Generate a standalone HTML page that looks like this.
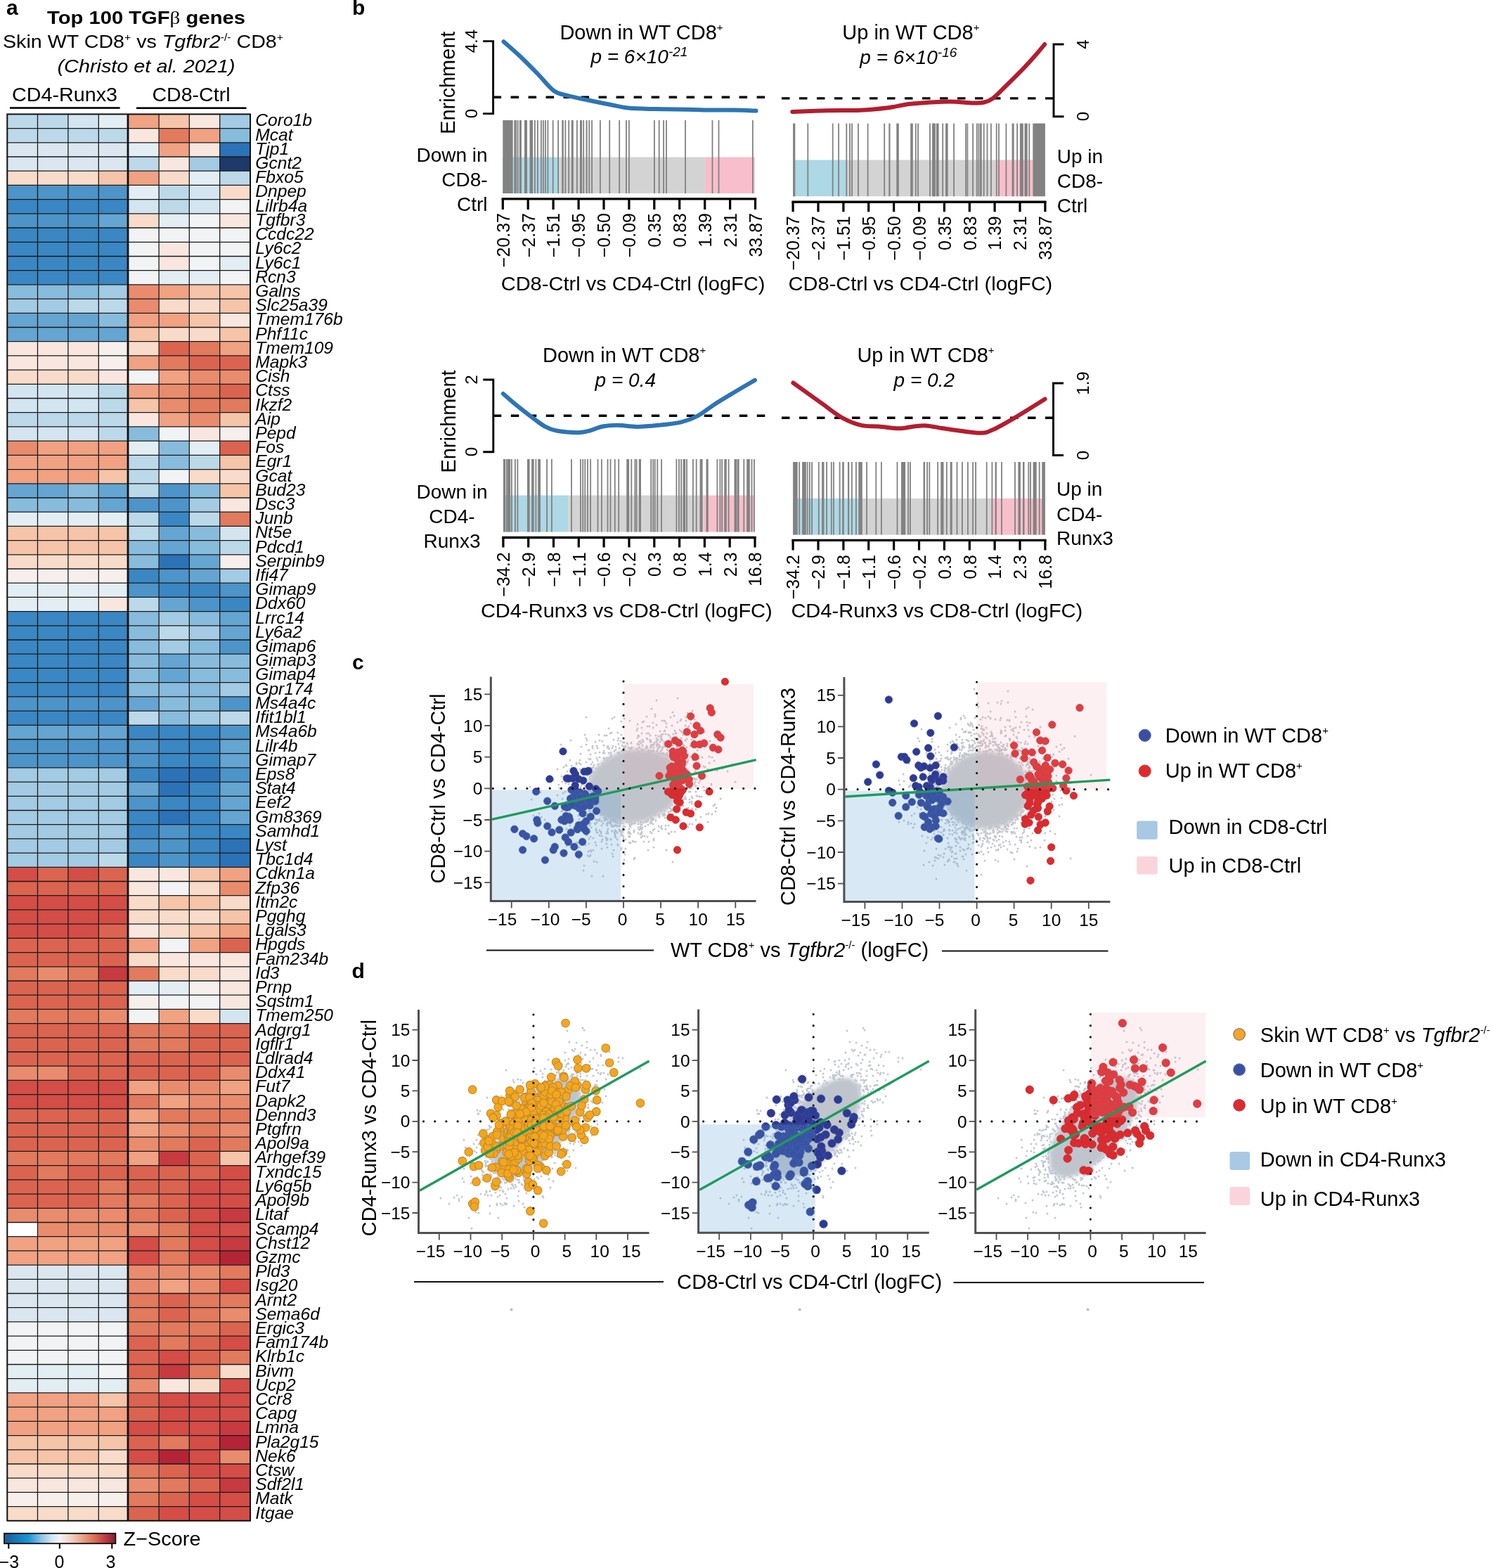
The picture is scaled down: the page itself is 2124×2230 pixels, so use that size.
<!DOCTYPE html>
<html><head><meta charset="utf-8"><title>Figure</title>
<style>html,body{margin:0;padding:0;background:#fff;overflow:hidden;width:2124px;height:2230px;} svg{display:block;} text{font-family:'Liberation Sans', Arial, Helvetica, sans-serif;fill:#000;}</style>
</head><body>
<svg width="2124" height="2230" viewBox="0 0 2124 2230">
<defs><filter id="bl4" x="-30%" y="-30%" width="160%" height="160%"><feGaussianBlur stdDeviation="3"/></filter></defs>
<rect width="2124" height="2230" fill="#fff"/>
<text x="9" y="21" font-size="30" font-weight="bold">a</text>
<text x="208" y="33.6" font-size="25.5" text-anchor="middle" font-weight="bold" textLength="282" lengthAdjust="spacingAndGlyphs">Top 100 TGF<tspan font-family="Liberation Serif, serif" font-weight="normal">&#946;</tspan> genes</text>
<text x="4" y="68.3" font-size="25.5" textLength="399" lengthAdjust="spacingAndGlyphs">Skin WT CD8<tspan font-size="14" dy="-10">+</tspan><tspan dy="10"> vs </tspan><tspan font-style="italic">Tgfbr2</tspan><tspan font-size="14" dy="-10">-/-</tspan><tspan dy="10"> CD8</tspan><tspan font-size="14" dy="-10">+</tspan></text>
<text x="208" y="103.4" font-size="25.5" text-anchor="middle" font-style="italic" textLength="253" lengthAdjust="spacingAndGlyphs">(Christo et al. 2021)</text>
<text x="92" y="144.3" font-size="28.5" text-anchor="middle" textLength="150" lengthAdjust="spacingAndGlyphs">CD4-Runx3</text>
<text x="272" y="144.3" font-size="28.5" text-anchor="middle" textLength="111" lengthAdjust="spacingAndGlyphs">CD8-Ctrl</text>
<rect x="14" y="152.2" width="156.6" height="2.6" fill="#000"/>
<rect x="194" y="152.4" width="156.5" height="2.6" fill="#000"/>
<rect x="10.3" y="162.4" width="43.5" height="20.5" fill="#bcd9ea"/>
<rect x="53.5" y="162.4" width="43.7" height="20.5" fill="#bcd9ea"/>
<rect x="96.9" y="162.4" width="43.7" height="20.5" fill="#d3e5f0"/>
<rect x="140.3" y="162.4" width="42" height="20.5" fill="#e3edf4"/>
<rect x="182" y="162.4" width="44.4" height="20.5" fill="#f0a283"/>
<rect x="226.1" y="162.4" width="43.5" height="20.5" fill="#f6c4a9"/>
<rect x="269.3" y="162.4" width="43.7" height="20.5" fill="#f9e7df"/>
<rect x="312.7" y="162.4" width="43.6" height="20.5" fill="#a3cbe3"/>
<rect x="10.3" y="182.6" width="43.5" height="20.5" fill="#bcd9ea"/>
<rect x="53.5" y="182.6" width="43.7" height="20.5" fill="#bcd9ea"/>
<rect x="96.9" y="182.6" width="43.7" height="20.5" fill="#bcd9ea"/>
<rect x="140.3" y="182.6" width="42" height="20.5" fill="#bcd9ea"/>
<rect x="182" y="182.6" width="44.4" height="20.5" fill="#f9e7df"/>
<rect x="226.1" y="182.6" width="43.5" height="20.5" fill="#e27a5e"/>
<rect x="269.3" y="182.6" width="43.7" height="20.5" fill="#f0a283"/>
<rect x="312.7" y="182.6" width="43.6" height="20.5" fill="#88bcdc"/>
<rect x="10.3" y="202.8" width="43.5" height="20.5" fill="#dae7f0"/>
<rect x="53.5" y="202.8" width="43.7" height="20.5" fill="#dae7f0"/>
<rect x="96.9" y="202.8" width="43.7" height="20.5" fill="#dae7f0"/>
<rect x="140.3" y="202.8" width="42" height="20.5" fill="#dae7f0"/>
<rect x="182" y="202.8" width="44.4" height="20.5" fill="#e3edf4"/>
<rect x="226.1" y="202.8" width="43.5" height="20.5" fill="#f0a283"/>
<rect x="269.3" y="202.8" width="43.7" height="20.5" fill="#f9e7df"/>
<rect x="312.7" y="202.8" width="43.6" height="20.5" fill="#2c72b7"/>
<rect x="10.3" y="223" width="43.5" height="20.5" fill="#dae7f0"/>
<rect x="53.5" y="223" width="43.7" height="20.5" fill="#dae7f0"/>
<rect x="96.9" y="223" width="43.7" height="20.5" fill="#dae7f0"/>
<rect x="140.3" y="223" width="42" height="20.5" fill="#dae7f0"/>
<rect x="182" y="223" width="44.4" height="20.5" fill="#bcd9ea"/>
<rect x="226.1" y="223" width="43.5" height="20.5" fill="#f9e7df"/>
<rect x="269.3" y="223" width="43.7" height="20.5" fill="#a3cbe3"/>
<rect x="312.7" y="223" width="43.6" height="20.5" fill="#1d3a6b"/>
<rect x="10.3" y="243.2" width="43.5" height="20.5" fill="#f9dbca"/>
<rect x="53.5" y="243.2" width="43.7" height="20.5" fill="#f9dbca"/>
<rect x="96.9" y="243.2" width="43.7" height="20.5" fill="#f9dbca"/>
<rect x="140.3" y="243.2" width="42" height="20.5" fill="#f6c4a9"/>
<rect x="182" y="243.2" width="44.4" height="20.5" fill="#f0a283"/>
<rect x="226.1" y="243.2" width="43.5" height="20.5" fill="#f9dbca"/>
<rect x="269.3" y="243.2" width="43.7" height="20.5" fill="#e3edf4"/>
<rect x="312.7" y="243.2" width="43.6" height="20.5" fill="#bcd9ea"/>
<rect x="10.3" y="263.4" width="43.5" height="20.5" fill="#4d94c9"/>
<rect x="53.5" y="263.4" width="43.7" height="20.5" fill="#4d94c9"/>
<rect x="96.9" y="263.4" width="43.7" height="20.5" fill="#4d94c9"/>
<rect x="140.3" y="263.4" width="42" height="20.5" fill="#4d94c9"/>
<rect x="182" y="263.4" width="44.4" height="20.5" fill="#e3edf4"/>
<rect x="226.1" y="263.4" width="43.5" height="20.5" fill="#bcd9ea"/>
<rect x="269.3" y="263.4" width="43.7" height="20.5" fill="#d3e5f0"/>
<rect x="312.7" y="263.4" width="43.6" height="20.5" fill="#f9dbca"/>
<rect x="10.3" y="283.6" width="43.5" height="20.5" fill="#3a87c3"/>
<rect x="53.5" y="283.6" width="43.7" height="20.5" fill="#3a87c3"/>
<rect x="96.9" y="283.6" width="43.7" height="20.5" fill="#3a87c3"/>
<rect x="140.3" y="283.6" width="42" height="20.5" fill="#3a87c3"/>
<rect x="182" y="283.6" width="44.4" height="20.5" fill="#d3e5f0"/>
<rect x="226.1" y="283.6" width="43.5" height="20.5" fill="#bcd9ea"/>
<rect x="269.3" y="283.6" width="43.7" height="20.5" fill="#d3e5f0"/>
<rect x="312.7" y="283.6" width="43.6" height="20.5" fill="#f2f3f4"/>
<rect x="10.3" y="303.8" width="43.5" height="20.5" fill="#4d94c9"/>
<rect x="53.5" y="303.8" width="43.7" height="20.5" fill="#4d94c9"/>
<rect x="96.9" y="303.8" width="43.7" height="20.5" fill="#4d94c9"/>
<rect x="140.3" y="303.8" width="42" height="20.5" fill="#65a5d2"/>
<rect x="182" y="303.8" width="44.4" height="20.5" fill="#f9dbca"/>
<rect x="226.1" y="303.8" width="43.5" height="20.5" fill="#e3edf4"/>
<rect x="269.3" y="303.8" width="43.7" height="20.5" fill="#f2f3f4"/>
<rect x="312.7" y="303.8" width="43.6" height="20.5" fill="#f9e7df"/>
<rect x="10.3" y="324" width="43.5" height="20.5" fill="#3a87c3"/>
<rect x="53.5" y="324" width="43.7" height="20.5" fill="#3a87c3"/>
<rect x="96.9" y="324" width="43.7" height="20.5" fill="#3a87c3"/>
<rect x="140.3" y="324" width="42" height="20.5" fill="#3a87c3"/>
<rect x="182" y="324" width="44.4" height="20.5" fill="#f2f3f4"/>
<rect x="226.1" y="324" width="43.5" height="20.5" fill="#f2f3f4"/>
<rect x="269.3" y="324" width="43.7" height="20.5" fill="#f2f3f4"/>
<rect x="312.7" y="324" width="43.6" height="20.5" fill="#f2f3f4"/>
<rect x="10.3" y="344.3" width="43.5" height="20.5" fill="#3a87c3"/>
<rect x="53.5" y="344.3" width="43.7" height="20.5" fill="#3a87c3"/>
<rect x="96.9" y="344.3" width="43.7" height="20.5" fill="#3a87c3"/>
<rect x="140.3" y="344.3" width="42" height="20.5" fill="#3a87c3"/>
<rect x="182" y="344.3" width="44.4" height="20.5" fill="#f2f3f4"/>
<rect x="226.1" y="344.3" width="43.5" height="20.5" fill="#f9e7df"/>
<rect x="269.3" y="344.3" width="43.7" height="20.5" fill="#f2f3f4"/>
<rect x="312.7" y="344.3" width="43.6" height="20.5" fill="#f2f3f4"/>
<rect x="10.3" y="364.5" width="43.5" height="20.5" fill="#3a87c3"/>
<rect x="53.5" y="364.5" width="43.7" height="20.5" fill="#3a87c3"/>
<rect x="96.9" y="364.5" width="43.7" height="20.5" fill="#3a87c3"/>
<rect x="140.3" y="364.5" width="42" height="20.5" fill="#3a87c3"/>
<rect x="182" y="364.5" width="44.4" height="20.5" fill="#f2f3f4"/>
<rect x="226.1" y="364.5" width="43.5" height="20.5" fill="#f9e7df"/>
<rect x="269.3" y="364.5" width="43.7" height="20.5" fill="#f2f3f4"/>
<rect x="312.7" y="364.5" width="43.6" height="20.5" fill="#e3edf4"/>
<rect x="10.3" y="384.7" width="43.5" height="20.5" fill="#3a87c3"/>
<rect x="53.5" y="384.7" width="43.7" height="20.5" fill="#3a87c3"/>
<rect x="96.9" y="384.7" width="43.7" height="20.5" fill="#3a87c3"/>
<rect x="140.3" y="384.7" width="42" height="20.5" fill="#3a87c3"/>
<rect x="182" y="384.7" width="44.4" height="20.5" fill="#f2f3f4"/>
<rect x="226.1" y="384.7" width="43.5" height="20.5" fill="#e3edf4"/>
<rect x="269.3" y="384.7" width="43.7" height="20.5" fill="#e3edf4"/>
<rect x="312.7" y="384.7" width="43.6" height="20.5" fill="#f2f3f4"/>
<rect x="10.3" y="404.9" width="43.5" height="20.5" fill="#88bcdc"/>
<rect x="53.5" y="404.9" width="43.7" height="20.5" fill="#88bcdc"/>
<rect x="96.9" y="404.9" width="43.7" height="20.5" fill="#88bcdc"/>
<rect x="140.3" y="404.9" width="42" height="20.5" fill="#a3cbe3"/>
<rect x="182" y="404.9" width="44.4" height="20.5" fill="#e98c6e"/>
<rect x="226.1" y="404.9" width="43.5" height="20.5" fill="#f0a283"/>
<rect x="269.3" y="404.9" width="43.7" height="20.5" fill="#f6c4a9"/>
<rect x="312.7" y="404.9" width="43.6" height="20.5" fill="#f6c4a9"/>
<rect x="10.3" y="425.1" width="43.5" height="20.5" fill="#a3cbe3"/>
<rect x="53.5" y="425.1" width="43.7" height="20.5" fill="#a3cbe3"/>
<rect x="96.9" y="425.1" width="43.7" height="20.5" fill="#bcd9ea"/>
<rect x="140.3" y="425.1" width="42" height="20.5" fill="#bcd9ea"/>
<rect x="182" y="425.1" width="44.4" height="20.5" fill="#e98c6e"/>
<rect x="226.1" y="425.1" width="43.5" height="20.5" fill="#f9dbca"/>
<rect x="269.3" y="425.1" width="43.7" height="20.5" fill="#f9dbca"/>
<rect x="312.7" y="425.1" width="43.6" height="20.5" fill="#f6c4a9"/>
<rect x="10.3" y="445.3" width="43.5" height="20.5" fill="#65a5d2"/>
<rect x="53.5" y="445.3" width="43.7" height="20.5" fill="#65a5d2"/>
<rect x="96.9" y="445.3" width="43.7" height="20.5" fill="#65a5d2"/>
<rect x="140.3" y="445.3" width="42" height="20.5" fill="#88bcdc"/>
<rect x="182" y="445.3" width="44.4" height="20.5" fill="#f0a283"/>
<rect x="226.1" y="445.3" width="43.5" height="20.5" fill="#f0a283"/>
<rect x="269.3" y="445.3" width="43.7" height="20.5" fill="#f6c4a9"/>
<rect x="312.7" y="445.3" width="43.6" height="20.5" fill="#f9e7df"/>
<rect x="10.3" y="465.5" width="43.5" height="20.5" fill="#65a5d2"/>
<rect x="53.5" y="465.5" width="43.7" height="20.5" fill="#65a5d2"/>
<rect x="96.9" y="465.5" width="43.7" height="20.5" fill="#65a5d2"/>
<rect x="140.3" y="465.5" width="42" height="20.5" fill="#65a5d2"/>
<rect x="182" y="465.5" width="44.4" height="20.5" fill="#f6c4a9"/>
<rect x="226.1" y="465.5" width="43.5" height="20.5" fill="#f9dbca"/>
<rect x="269.3" y="465.5" width="43.7" height="20.5" fill="#f9dbca"/>
<rect x="312.7" y="465.5" width="43.6" height="20.5" fill="#f6c4a9"/>
<rect x="10.3" y="485.7" width="43.5" height="20.5" fill="#f9e7df"/>
<rect x="53.5" y="485.7" width="43.7" height="20.5" fill="#f9e7df"/>
<rect x="96.9" y="485.7" width="43.7" height="20.5" fill="#f9e7df"/>
<rect x="140.3" y="485.7" width="42" height="20.5" fill="#f6efec"/>
<rect x="182" y="485.7" width="44.4" height="20.5" fill="#f9dbca"/>
<rect x="226.1" y="485.7" width="43.5" height="20.5" fill="#db6450"/>
<rect x="269.3" y="485.7" width="43.7" height="20.5" fill="#e27a5e"/>
<rect x="312.7" y="485.7" width="43.6" height="20.5" fill="#f0a283"/>
<rect x="10.3" y="505.9" width="43.5" height="20.5" fill="#f9e7df"/>
<rect x="53.5" y="505.9" width="43.7" height="20.5" fill="#f9e7df"/>
<rect x="96.9" y="505.9" width="43.7" height="20.5" fill="#f9e7df"/>
<rect x="140.3" y="505.9" width="42" height="20.5" fill="#f6efec"/>
<rect x="182" y="505.9" width="44.4" height="20.5" fill="#f0a283"/>
<rect x="226.1" y="505.9" width="43.5" height="20.5" fill="#e27a5e"/>
<rect x="269.3" y="505.9" width="43.7" height="20.5" fill="#db6450"/>
<rect x="312.7" y="505.9" width="43.6" height="20.5" fill="#db6450"/>
<rect x="10.3" y="526.1" width="43.5" height="20.5" fill="#f9dbca"/>
<rect x="53.5" y="526.1" width="43.7" height="20.5" fill="#f9dbca"/>
<rect x="96.9" y="526.1" width="43.7" height="20.5" fill="#f9dbca"/>
<rect x="140.3" y="526.1" width="42" height="20.5" fill="#f9e7df"/>
<rect x="182" y="526.1" width="44.4" height="20.5" fill="#f2f3f4"/>
<rect x="226.1" y="526.1" width="43.5" height="20.5" fill="#f0a283"/>
<rect x="269.3" y="526.1" width="43.7" height="20.5" fill="#e98c6e"/>
<rect x="312.7" y="526.1" width="43.6" height="20.5" fill="#e98c6e"/>
<rect x="10.3" y="546.3" width="43.5" height="20.5" fill="#d3e5f0"/>
<rect x="53.5" y="546.3" width="43.7" height="20.5" fill="#d3e5f0"/>
<rect x="96.9" y="546.3" width="43.7" height="20.5" fill="#d3e5f0"/>
<rect x="140.3" y="546.3" width="42" height="20.5" fill="#bcd9ea"/>
<rect x="182" y="546.3" width="44.4" height="20.5" fill="#f0a283"/>
<rect x="226.1" y="546.3" width="43.5" height="20.5" fill="#e98c6e"/>
<rect x="269.3" y="546.3" width="43.7" height="20.5" fill="#e27a5e"/>
<rect x="312.7" y="546.3" width="43.6" height="20.5" fill="#db6450"/>
<rect x="10.3" y="566.5" width="43.5" height="20.5" fill="#d3e5f0"/>
<rect x="53.5" y="566.5" width="43.7" height="20.5" fill="#d3e5f0"/>
<rect x="96.9" y="566.5" width="43.7" height="20.5" fill="#d3e5f0"/>
<rect x="140.3" y="566.5" width="42" height="20.5" fill="#bcd9ea"/>
<rect x="182" y="566.5" width="44.4" height="20.5" fill="#f6c4a9"/>
<rect x="226.1" y="566.5" width="43.5" height="20.5" fill="#e98c6e"/>
<rect x="269.3" y="566.5" width="43.7" height="20.5" fill="#e27a5e"/>
<rect x="312.7" y="566.5" width="43.6" height="20.5" fill="#e27a5e"/>
<rect x="10.3" y="586.7" width="43.5" height="20.5" fill="#bcd9ea"/>
<rect x="53.5" y="586.7" width="43.7" height="20.5" fill="#bcd9ea"/>
<rect x="96.9" y="586.7" width="43.7" height="20.5" fill="#bcd9ea"/>
<rect x="140.3" y="586.7" width="42" height="20.5" fill="#bcd9ea"/>
<rect x="182" y="586.7" width="44.4" height="20.5" fill="#f9e7df"/>
<rect x="226.1" y="586.7" width="43.5" height="20.5" fill="#f0a283"/>
<rect x="269.3" y="586.7" width="43.7" height="20.5" fill="#e98c6e"/>
<rect x="312.7" y="586.7" width="43.6" height="20.5" fill="#f6c4a9"/>
<rect x="10.3" y="606.9" width="43.5" height="20.5" fill="#d3e5f0"/>
<rect x="53.5" y="606.9" width="43.7" height="20.5" fill="#d3e5f0"/>
<rect x="96.9" y="606.9" width="43.7" height="20.5" fill="#d3e5f0"/>
<rect x="140.3" y="606.9" width="42" height="20.5" fill="#bcd9ea"/>
<rect x="182" y="606.9" width="44.4" height="20.5" fill="#88bcdc"/>
<rect x="226.1" y="606.9" width="43.5" height="20.5" fill="#f2f3f4"/>
<rect x="269.3" y="606.9" width="43.7" height="20.5" fill="#f9e7df"/>
<rect x="312.7" y="606.9" width="43.6" height="20.5" fill="#f6efec"/>
<rect x="10.3" y="627.1" width="43.5" height="20.5" fill="#e98c6e"/>
<rect x="53.5" y="627.1" width="43.7" height="20.5" fill="#f0a283"/>
<rect x="96.9" y="627.1" width="43.7" height="20.5" fill="#f0a283"/>
<rect x="140.3" y="627.1" width="42" height="20.5" fill="#f0a283"/>
<rect x="182" y="627.1" width="44.4" height="20.5" fill="#e3edf4"/>
<rect x="226.1" y="627.1" width="43.5" height="20.5" fill="#88bcdc"/>
<rect x="269.3" y="627.1" width="43.7" height="20.5" fill="#e3edf4"/>
<rect x="312.7" y="627.1" width="43.6" height="20.5" fill="#db6450"/>
<rect x="10.3" y="647.3" width="43.5" height="20.5" fill="#f0a283"/>
<rect x="53.5" y="647.3" width="43.7" height="20.5" fill="#f0a283"/>
<rect x="96.9" y="647.3" width="43.7" height="20.5" fill="#f0a283"/>
<rect x="140.3" y="647.3" width="42" height="20.5" fill="#f0a283"/>
<rect x="182" y="647.3" width="44.4" height="20.5" fill="#bcd9ea"/>
<rect x="226.1" y="647.3" width="43.5" height="20.5" fill="#88bcdc"/>
<rect x="269.3" y="647.3" width="43.7" height="20.5" fill="#bcd9ea"/>
<rect x="312.7" y="647.3" width="43.6" height="20.5" fill="#f6c4a9"/>
<rect x="10.3" y="667.6" width="43.5" height="20.5" fill="#f0a283"/>
<rect x="53.5" y="667.6" width="43.7" height="20.5" fill="#f0a283"/>
<rect x="96.9" y="667.6" width="43.7" height="20.5" fill="#f0a283"/>
<rect x="140.3" y="667.6" width="42" height="20.5" fill="#f6c4a9"/>
<rect x="182" y="667.6" width="44.4" height="20.5" fill="#bcd9ea"/>
<rect x="226.1" y="667.6" width="43.5" height="20.5" fill="#f2f3f4"/>
<rect x="269.3" y="667.6" width="43.7" height="20.5" fill="#f9dbca"/>
<rect x="312.7" y="667.6" width="43.6" height="20.5" fill="#f9dbca"/>
<rect x="10.3" y="687.8" width="43.5" height="20.5" fill="#65a5d2"/>
<rect x="53.5" y="687.8" width="43.7" height="20.5" fill="#65a5d2"/>
<rect x="96.9" y="687.8" width="43.7" height="20.5" fill="#88bcdc"/>
<rect x="140.3" y="687.8" width="42" height="20.5" fill="#65a5d2"/>
<rect x="182" y="687.8" width="44.4" height="20.5" fill="#bcd9ea"/>
<rect x="226.1" y="687.8" width="43.5" height="20.5" fill="#4d94c9"/>
<rect x="269.3" y="687.8" width="43.7" height="20.5" fill="#88bcdc"/>
<rect x="312.7" y="687.8" width="43.6" height="20.5" fill="#f6c4a9"/>
<rect x="10.3" y="708" width="43.5" height="20.5" fill="#88bcdc"/>
<rect x="53.5" y="708" width="43.7" height="20.5" fill="#88bcdc"/>
<rect x="96.9" y="708" width="43.7" height="20.5" fill="#88bcdc"/>
<rect x="140.3" y="708" width="42" height="20.5" fill="#65a5d2"/>
<rect x="182" y="708" width="44.4" height="20.5" fill="#4d94c9"/>
<rect x="226.1" y="708" width="43.5" height="20.5" fill="#4d94c9"/>
<rect x="269.3" y="708" width="43.7" height="20.5" fill="#a3cbe3"/>
<rect x="312.7" y="708" width="43.6" height="20.5" fill="#f9e7df"/>
<rect x="10.3" y="728.2" width="43.5" height="20.5" fill="#e3edf4"/>
<rect x="53.5" y="728.2" width="43.7" height="20.5" fill="#e3edf4"/>
<rect x="96.9" y="728.2" width="43.7" height="20.5" fill="#e3edf4"/>
<rect x="140.3" y="728.2" width="42" height="20.5" fill="#e3edf4"/>
<rect x="182" y="728.2" width="44.4" height="20.5" fill="#bcd9ea"/>
<rect x="226.1" y="728.2" width="43.5" height="20.5" fill="#3a87c3"/>
<rect x="269.3" y="728.2" width="43.7" height="20.5" fill="#bcd9ea"/>
<rect x="312.7" y="728.2" width="43.6" height="20.5" fill="#e27a5e"/>
<rect x="10.3" y="748.4" width="43.5" height="20.5" fill="#f6c4a9"/>
<rect x="53.5" y="748.4" width="43.7" height="20.5" fill="#f6c4a9"/>
<rect x="96.9" y="748.4" width="43.7" height="20.5" fill="#f6c4a9"/>
<rect x="140.3" y="748.4" width="42" height="20.5" fill="#f6c4a9"/>
<rect x="182" y="748.4" width="44.4" height="20.5" fill="#bcd9ea"/>
<rect x="226.1" y="748.4" width="43.5" height="20.5" fill="#65a5d2"/>
<rect x="269.3" y="748.4" width="43.7" height="20.5" fill="#88bcdc"/>
<rect x="312.7" y="748.4" width="43.6" height="20.5" fill="#d3e5f0"/>
<rect x="10.3" y="768.6" width="43.5" height="20.5" fill="#f6c4a9"/>
<rect x="53.5" y="768.6" width="43.7" height="20.5" fill="#f6c4a9"/>
<rect x="96.9" y="768.6" width="43.7" height="20.5" fill="#f6c4a9"/>
<rect x="140.3" y="768.6" width="42" height="20.5" fill="#f6c4a9"/>
<rect x="182" y="768.6" width="44.4" height="20.5" fill="#88bcdc"/>
<rect x="226.1" y="768.6" width="43.5" height="20.5" fill="#65a5d2"/>
<rect x="269.3" y="768.6" width="43.7" height="20.5" fill="#88bcdc"/>
<rect x="312.7" y="768.6" width="43.6" height="20.5" fill="#bcd9ea"/>
<rect x="10.3" y="788.8" width="43.5" height="20.5" fill="#f9dbca"/>
<rect x="53.5" y="788.8" width="43.7" height="20.5" fill="#f9dbca"/>
<rect x="96.9" y="788.8" width="43.7" height="20.5" fill="#f9dbca"/>
<rect x="140.3" y="788.8" width="42" height="20.5" fill="#f9dbca"/>
<rect x="182" y="788.8" width="44.4" height="20.5" fill="#88bcdc"/>
<rect x="226.1" y="788.8" width="43.5" height="20.5" fill="#2c72b7"/>
<rect x="269.3" y="788.8" width="43.7" height="20.5" fill="#65a5d2"/>
<rect x="312.7" y="788.8" width="43.6" height="20.5" fill="#f6efec"/>
<rect x="10.3" y="809" width="43.5" height="20.5" fill="#f6efec"/>
<rect x="53.5" y="809" width="43.7" height="20.5" fill="#f6efec"/>
<rect x="96.9" y="809" width="43.7" height="20.5" fill="#f6efec"/>
<rect x="140.3" y="809" width="42" height="20.5" fill="#f6efec"/>
<rect x="182" y="809" width="44.4" height="20.5" fill="#3a87c3"/>
<rect x="226.1" y="809" width="43.5" height="20.5" fill="#4d94c9"/>
<rect x="269.3" y="809" width="43.7" height="20.5" fill="#65a5d2"/>
<rect x="312.7" y="809" width="43.6" height="20.5" fill="#a3cbe3"/>
<rect x="10.3" y="829.2" width="43.5" height="20.5" fill="#e3edf4"/>
<rect x="53.5" y="829.2" width="43.7" height="20.5" fill="#e3edf4"/>
<rect x="96.9" y="829.2" width="43.7" height="20.5" fill="#e3edf4"/>
<rect x="140.3" y="829.2" width="42" height="20.5" fill="#e3edf4"/>
<rect x="182" y="829.2" width="44.4" height="20.5" fill="#4d94c9"/>
<rect x="226.1" y="829.2" width="43.5" height="20.5" fill="#3a87c3"/>
<rect x="269.3" y="829.2" width="43.7" height="20.5" fill="#3a87c3"/>
<rect x="312.7" y="829.2" width="43.6" height="20.5" fill="#4d94c9"/>
<rect x="10.3" y="849.4" width="43.5" height="20.5" fill="#e3edf4"/>
<rect x="53.5" y="849.4" width="43.7" height="20.5" fill="#e3edf4"/>
<rect x="96.9" y="849.4" width="43.7" height="20.5" fill="#e3edf4"/>
<rect x="140.3" y="849.4" width="42" height="20.5" fill="#f9e7df"/>
<rect x="182" y="849.4" width="44.4" height="20.5" fill="#bcd9ea"/>
<rect x="226.1" y="849.4" width="43.5" height="20.5" fill="#65a5d2"/>
<rect x="269.3" y="849.4" width="43.7" height="20.5" fill="#4d94c9"/>
<rect x="312.7" y="849.4" width="43.6" height="20.5" fill="#3a87c3"/>
<rect x="10.3" y="869.6" width="43.5" height="20.5" fill="#3a87c3"/>
<rect x="53.5" y="869.6" width="43.7" height="20.5" fill="#3a87c3"/>
<rect x="96.9" y="869.6" width="43.7" height="20.5" fill="#3a87c3"/>
<rect x="140.3" y="869.6" width="42" height="20.5" fill="#3a87c3"/>
<rect x="182" y="869.6" width="44.4" height="20.5" fill="#88bcdc"/>
<rect x="226.1" y="869.6" width="43.5" height="20.5" fill="#a3cbe3"/>
<rect x="269.3" y="869.6" width="43.7" height="20.5" fill="#88bcdc"/>
<rect x="312.7" y="869.6" width="43.6" height="20.5" fill="#65a5d2"/>
<rect x="10.3" y="889.8" width="43.5" height="20.5" fill="#3a87c3"/>
<rect x="53.5" y="889.8" width="43.7" height="20.5" fill="#3a87c3"/>
<rect x="96.9" y="889.8" width="43.7" height="20.5" fill="#3a87c3"/>
<rect x="140.3" y="889.8" width="42" height="20.5" fill="#3a87c3"/>
<rect x="182" y="889.8" width="44.4" height="20.5" fill="#88bcdc"/>
<rect x="226.1" y="889.8" width="43.5" height="20.5" fill="#bcd9ea"/>
<rect x="269.3" y="889.8" width="43.7" height="20.5" fill="#a3cbe3"/>
<rect x="312.7" y="889.8" width="43.6" height="20.5" fill="#65a5d2"/>
<rect x="10.3" y="910" width="43.5" height="20.5" fill="#3a87c3"/>
<rect x="53.5" y="910" width="43.7" height="20.5" fill="#3a87c3"/>
<rect x="96.9" y="910" width="43.7" height="20.5" fill="#3a87c3"/>
<rect x="140.3" y="910" width="42" height="20.5" fill="#3a87c3"/>
<rect x="182" y="910" width="44.4" height="20.5" fill="#88bcdc"/>
<rect x="226.1" y="910" width="43.5" height="20.5" fill="#a3cbe3"/>
<rect x="269.3" y="910" width="43.7" height="20.5" fill="#88bcdc"/>
<rect x="312.7" y="910" width="43.6" height="20.5" fill="#4d94c9"/>
<rect x="10.3" y="930.2" width="43.5" height="20.5" fill="#3a87c3"/>
<rect x="53.5" y="930.2" width="43.7" height="20.5" fill="#3a87c3"/>
<rect x="96.9" y="930.2" width="43.7" height="20.5" fill="#3a87c3"/>
<rect x="140.3" y="930.2" width="42" height="20.5" fill="#3a87c3"/>
<rect x="182" y="930.2" width="44.4" height="20.5" fill="#88bcdc"/>
<rect x="226.1" y="930.2" width="43.5" height="20.5" fill="#65a5d2"/>
<rect x="269.3" y="930.2" width="43.7" height="20.5" fill="#88bcdc"/>
<rect x="312.7" y="930.2" width="43.6" height="20.5" fill="#88bcdc"/>
<rect x="10.3" y="950.4" width="43.5" height="20.5" fill="#3a87c3"/>
<rect x="53.5" y="950.4" width="43.7" height="20.5" fill="#3a87c3"/>
<rect x="96.9" y="950.4" width="43.7" height="20.5" fill="#3a87c3"/>
<rect x="140.3" y="950.4" width="42" height="20.5" fill="#3a87c3"/>
<rect x="182" y="950.4" width="44.4" height="20.5" fill="#88bcdc"/>
<rect x="226.1" y="950.4" width="43.5" height="20.5" fill="#65a5d2"/>
<rect x="269.3" y="950.4" width="43.7" height="20.5" fill="#88bcdc"/>
<rect x="312.7" y="950.4" width="43.6" height="20.5" fill="#88bcdc"/>
<rect x="10.3" y="970.6" width="43.5" height="20.5" fill="#3a87c3"/>
<rect x="53.5" y="970.6" width="43.7" height="20.5" fill="#3a87c3"/>
<rect x="96.9" y="970.6" width="43.7" height="20.5" fill="#3a87c3"/>
<rect x="140.3" y="970.6" width="42" height="20.5" fill="#3a87c3"/>
<rect x="182" y="970.6" width="44.4" height="20.5" fill="#88bcdc"/>
<rect x="226.1" y="970.6" width="43.5" height="20.5" fill="#88bcdc"/>
<rect x="269.3" y="970.6" width="43.7" height="20.5" fill="#88bcdc"/>
<rect x="312.7" y="970.6" width="43.6" height="20.5" fill="#a3cbe3"/>
<rect x="10.3" y="990.8" width="43.5" height="20.5" fill="#4d94c9"/>
<rect x="53.5" y="990.8" width="43.7" height="20.5" fill="#4d94c9"/>
<rect x="96.9" y="990.8" width="43.7" height="20.5" fill="#4d94c9"/>
<rect x="140.3" y="990.8" width="42" height="20.5" fill="#4d94c9"/>
<rect x="182" y="990.8" width="44.4" height="20.5" fill="#65a5d2"/>
<rect x="226.1" y="990.8" width="43.5" height="20.5" fill="#88bcdc"/>
<rect x="269.3" y="990.8" width="43.7" height="20.5" fill="#88bcdc"/>
<rect x="312.7" y="990.8" width="43.6" height="20.5" fill="#4d94c9"/>
<rect x="10.3" y="1011.1" width="43.5" height="20.5" fill="#3a87c3"/>
<rect x="53.5" y="1011.1" width="43.7" height="20.5" fill="#3a87c3"/>
<rect x="96.9" y="1011.1" width="43.7" height="20.5" fill="#3a87c3"/>
<rect x="140.3" y="1011.1" width="42" height="20.5" fill="#3a87c3"/>
<rect x="182" y="1011.1" width="44.4" height="20.5" fill="#bcd9ea"/>
<rect x="226.1" y="1011.1" width="43.5" height="20.5" fill="#88bcdc"/>
<rect x="269.3" y="1011.1" width="43.7" height="20.5" fill="#a3cbe3"/>
<rect x="312.7" y="1011.1" width="43.6" height="20.5" fill="#bcd9ea"/>
<rect x="10.3" y="1031.3" width="43.5" height="20.5" fill="#65a5d2"/>
<rect x="53.5" y="1031.3" width="43.7" height="20.5" fill="#65a5d2"/>
<rect x="96.9" y="1031.3" width="43.7" height="20.5" fill="#65a5d2"/>
<rect x="140.3" y="1031.3" width="42" height="20.5" fill="#65a5d2"/>
<rect x="182" y="1031.3" width="44.4" height="20.5" fill="#3a87c3"/>
<rect x="226.1" y="1031.3" width="43.5" height="20.5" fill="#3a87c3"/>
<rect x="269.3" y="1031.3" width="43.7" height="20.5" fill="#3a87c3"/>
<rect x="312.7" y="1031.3" width="43.6" height="20.5" fill="#4d94c9"/>
<rect x="10.3" y="1051.5" width="43.5" height="20.5" fill="#4d94c9"/>
<rect x="53.5" y="1051.5" width="43.7" height="20.5" fill="#4d94c9"/>
<rect x="96.9" y="1051.5" width="43.7" height="20.5" fill="#4d94c9"/>
<rect x="140.3" y="1051.5" width="42" height="20.5" fill="#4d94c9"/>
<rect x="182" y="1051.5" width="44.4" height="20.5" fill="#4d94c9"/>
<rect x="226.1" y="1051.5" width="43.5" height="20.5" fill="#3a87c3"/>
<rect x="269.3" y="1051.5" width="43.7" height="20.5" fill="#3a87c3"/>
<rect x="312.7" y="1051.5" width="43.6" height="20.5" fill="#65a5d2"/>
<rect x="10.3" y="1071.7" width="43.5" height="20.5" fill="#4d94c9"/>
<rect x="53.5" y="1071.7" width="43.7" height="20.5" fill="#4d94c9"/>
<rect x="96.9" y="1071.7" width="43.7" height="20.5" fill="#4d94c9"/>
<rect x="140.3" y="1071.7" width="42" height="20.5" fill="#4d94c9"/>
<rect x="182" y="1071.7" width="44.4" height="20.5" fill="#4d94c9"/>
<rect x="226.1" y="1071.7" width="43.5" height="20.5" fill="#3a87c3"/>
<rect x="269.3" y="1071.7" width="43.7" height="20.5" fill="#3a87c3"/>
<rect x="312.7" y="1071.7" width="43.6" height="20.5" fill="#65a5d2"/>
<rect x="10.3" y="1091.9" width="43.5" height="20.5" fill="#a3cbe3"/>
<rect x="53.5" y="1091.9" width="43.7" height="20.5" fill="#a3cbe3"/>
<rect x="96.9" y="1091.9" width="43.7" height="20.5" fill="#a3cbe3"/>
<rect x="140.3" y="1091.9" width="42" height="20.5" fill="#a3cbe3"/>
<rect x="182" y="1091.9" width="44.4" height="20.5" fill="#3a87c3"/>
<rect x="226.1" y="1091.9" width="43.5" height="20.5" fill="#2c72b7"/>
<rect x="269.3" y="1091.9" width="43.7" height="20.5" fill="#2c72b7"/>
<rect x="312.7" y="1091.9" width="43.6" height="20.5" fill="#4d94c9"/>
<rect x="10.3" y="1112.1" width="43.5" height="20.5" fill="#a3cbe3"/>
<rect x="53.5" y="1112.1" width="43.7" height="20.5" fill="#a3cbe3"/>
<rect x="96.9" y="1112.1" width="43.7" height="20.5" fill="#a3cbe3"/>
<rect x="140.3" y="1112.1" width="42" height="20.5" fill="#a3cbe3"/>
<rect x="182" y="1112.1" width="44.4" height="20.5" fill="#65a5d2"/>
<rect x="226.1" y="1112.1" width="43.5" height="20.5" fill="#2c72b7"/>
<rect x="269.3" y="1112.1" width="43.7" height="20.5" fill="#3a87c3"/>
<rect x="312.7" y="1112.1" width="43.6" height="20.5" fill="#65a5d2"/>
<rect x="10.3" y="1132.3" width="43.5" height="20.5" fill="#a3cbe3"/>
<rect x="53.5" y="1132.3" width="43.7" height="20.5" fill="#a3cbe3"/>
<rect x="96.9" y="1132.3" width="43.7" height="20.5" fill="#a3cbe3"/>
<rect x="140.3" y="1132.3" width="42" height="20.5" fill="#a3cbe3"/>
<rect x="182" y="1132.3" width="44.4" height="20.5" fill="#4d94c9"/>
<rect x="226.1" y="1132.3" width="43.5" height="20.5" fill="#3a87c3"/>
<rect x="269.3" y="1132.3" width="43.7" height="20.5" fill="#3a87c3"/>
<rect x="312.7" y="1132.3" width="43.6" height="20.5" fill="#65a5d2"/>
<rect x="10.3" y="1152.5" width="43.5" height="20.5" fill="#a3cbe3"/>
<rect x="53.5" y="1152.5" width="43.7" height="20.5" fill="#a3cbe3"/>
<rect x="96.9" y="1152.5" width="43.7" height="20.5" fill="#a3cbe3"/>
<rect x="140.3" y="1152.5" width="42" height="20.5" fill="#a3cbe3"/>
<rect x="182" y="1152.5" width="44.4" height="20.5" fill="#3a87c3"/>
<rect x="226.1" y="1152.5" width="43.5" height="20.5" fill="#2c72b7"/>
<rect x="269.3" y="1152.5" width="43.7" height="20.5" fill="#3a87c3"/>
<rect x="312.7" y="1152.5" width="43.6" height="20.5" fill="#65a5d2"/>
<rect x="10.3" y="1172.7" width="43.5" height="20.5" fill="#a3cbe3"/>
<rect x="53.5" y="1172.7" width="43.7" height="20.5" fill="#a3cbe3"/>
<rect x="96.9" y="1172.7" width="43.7" height="20.5" fill="#a3cbe3"/>
<rect x="140.3" y="1172.7" width="42" height="20.5" fill="#a3cbe3"/>
<rect x="182" y="1172.7" width="44.4" height="20.5" fill="#3a87c3"/>
<rect x="226.1" y="1172.7" width="43.5" height="20.5" fill="#4d94c9"/>
<rect x="269.3" y="1172.7" width="43.7" height="20.5" fill="#3a87c3"/>
<rect x="312.7" y="1172.7" width="43.6" height="20.5" fill="#3a87c3"/>
<rect x="10.3" y="1192.9" width="43.5" height="20.5" fill="#a3cbe3"/>
<rect x="53.5" y="1192.9" width="43.7" height="20.5" fill="#a3cbe3"/>
<rect x="96.9" y="1192.9" width="43.7" height="20.5" fill="#a3cbe3"/>
<rect x="140.3" y="1192.9" width="42" height="20.5" fill="#a3cbe3"/>
<rect x="182" y="1192.9" width="44.4" height="20.5" fill="#4d94c9"/>
<rect x="226.1" y="1192.9" width="43.5" height="20.5" fill="#4d94c9"/>
<rect x="269.3" y="1192.9" width="43.7" height="20.5" fill="#3a87c3"/>
<rect x="312.7" y="1192.9" width="43.6" height="20.5" fill="#2c72b7"/>
<rect x="10.3" y="1213.1" width="43.5" height="20.5" fill="#a3cbe3"/>
<rect x="53.5" y="1213.1" width="43.7" height="20.5" fill="#a3cbe3"/>
<rect x="96.9" y="1213.1" width="43.7" height="20.5" fill="#a3cbe3"/>
<rect x="140.3" y="1213.1" width="42" height="20.5" fill="#bcd9ea"/>
<rect x="182" y="1213.1" width="44.4" height="20.5" fill="#3a87c3"/>
<rect x="226.1" y="1213.1" width="43.5" height="20.5" fill="#4d94c9"/>
<rect x="269.3" y="1213.1" width="43.7" height="20.5" fill="#3a87c3"/>
<rect x="312.7" y="1213.1" width="43.6" height="20.5" fill="#2c72b7"/>
<rect x="10.3" y="1233.3" width="43.5" height="20.5" fill="#d44d47"/>
<rect x="53.5" y="1233.3" width="43.7" height="20.5" fill="#db6450"/>
<rect x="96.9" y="1233.3" width="43.7" height="20.5" fill="#d44d47"/>
<rect x="140.3" y="1233.3" width="42" height="20.5" fill="#db6450"/>
<rect x="182" y="1233.3" width="44.4" height="20.5" fill="#f9e7df"/>
<rect x="226.1" y="1233.3" width="43.5" height="20.5" fill="#f9e7df"/>
<rect x="269.3" y="1233.3" width="43.7" height="20.5" fill="#f6c4a9"/>
<rect x="312.7" y="1233.3" width="43.6" height="20.5" fill="#f0a283"/>
<rect x="10.3" y="1253.5" width="43.5" height="20.5" fill="#db6450"/>
<rect x="53.5" y="1253.5" width="43.7" height="20.5" fill="#db6450"/>
<rect x="96.9" y="1253.5" width="43.7" height="20.5" fill="#db6450"/>
<rect x="140.3" y="1253.5" width="42" height="20.5" fill="#db6450"/>
<rect x="182" y="1253.5" width="44.4" height="20.5" fill="#f9e7df"/>
<rect x="226.1" y="1253.5" width="43.5" height="20.5" fill="#f2f3f4"/>
<rect x="269.3" y="1253.5" width="43.7" height="20.5" fill="#f9dbca"/>
<rect x="312.7" y="1253.5" width="43.6" height="20.5" fill="#e98c6e"/>
<rect x="10.3" y="1273.7" width="43.5" height="20.5" fill="#d44d47"/>
<rect x="53.5" y="1273.7" width="43.7" height="20.5" fill="#d44d47"/>
<rect x="96.9" y="1273.7" width="43.7" height="20.5" fill="#d44d47"/>
<rect x="140.3" y="1273.7" width="42" height="20.5" fill="#d44d47"/>
<rect x="182" y="1273.7" width="44.4" height="20.5" fill="#f9dbca"/>
<rect x="226.1" y="1273.7" width="43.5" height="20.5" fill="#f6c4a9"/>
<rect x="269.3" y="1273.7" width="43.7" height="20.5" fill="#f6c4a9"/>
<rect x="312.7" y="1273.7" width="43.6" height="20.5" fill="#f9dbca"/>
<rect x="10.3" y="1293.9" width="43.5" height="20.5" fill="#d44d47"/>
<rect x="53.5" y="1293.9" width="43.7" height="20.5" fill="#d44d47"/>
<rect x="96.9" y="1293.9" width="43.7" height="20.5" fill="#d44d47"/>
<rect x="140.3" y="1293.9" width="42" height="20.5" fill="#d44d47"/>
<rect x="182" y="1293.9" width="44.4" height="20.5" fill="#f9dbca"/>
<rect x="226.1" y="1293.9" width="43.5" height="20.5" fill="#f9dbca"/>
<rect x="269.3" y="1293.9" width="43.7" height="20.5" fill="#f9dbca"/>
<rect x="312.7" y="1293.9" width="43.6" height="20.5" fill="#f6c4a9"/>
<rect x="10.3" y="1314.1" width="43.5" height="20.5" fill="#d44d47"/>
<rect x="53.5" y="1314.1" width="43.7" height="20.5" fill="#d44d47"/>
<rect x="96.9" y="1314.1" width="43.7" height="20.5" fill="#d44d47"/>
<rect x="140.3" y="1314.1" width="42" height="20.5" fill="#db6450"/>
<rect x="182" y="1314.1" width="44.4" height="20.5" fill="#f9e7df"/>
<rect x="226.1" y="1314.1" width="43.5" height="20.5" fill="#f9dbca"/>
<rect x="269.3" y="1314.1" width="43.7" height="20.5" fill="#f6c4a9"/>
<rect x="312.7" y="1314.1" width="43.6" height="20.5" fill="#f0a283"/>
<rect x="10.3" y="1334.4" width="43.5" height="20.5" fill="#db6450"/>
<rect x="53.5" y="1334.4" width="43.7" height="20.5" fill="#db6450"/>
<rect x="96.9" y="1334.4" width="43.7" height="20.5" fill="#db6450"/>
<rect x="140.3" y="1334.4" width="42" height="20.5" fill="#db6450"/>
<rect x="182" y="1334.4" width="44.4" height="20.5" fill="#f0a283"/>
<rect x="226.1" y="1334.4" width="43.5" height="20.5" fill="#f2f3f4"/>
<rect x="269.3" y="1334.4" width="43.7" height="20.5" fill="#f0a283"/>
<rect x="312.7" y="1334.4" width="43.6" height="20.5" fill="#db6450"/>
<rect x="10.3" y="1354.6" width="43.5" height="20.5" fill="#db6450"/>
<rect x="53.5" y="1354.6" width="43.7" height="20.5" fill="#db6450"/>
<rect x="96.9" y="1354.6" width="43.7" height="20.5" fill="#db6450"/>
<rect x="140.3" y="1354.6" width="42" height="20.5" fill="#db6450"/>
<rect x="182" y="1354.6" width="44.4" height="20.5" fill="#f9dbca"/>
<rect x="226.1" y="1354.6" width="43.5" height="20.5" fill="#f9e7df"/>
<rect x="269.3" y="1354.6" width="43.7" height="20.5" fill="#f9e7df"/>
<rect x="312.7" y="1354.6" width="43.6" height="20.5" fill="#f9e7df"/>
<rect x="10.3" y="1374.8" width="43.5" height="20.5" fill="#e27a5e"/>
<rect x="53.5" y="1374.8" width="43.7" height="20.5" fill="#e98c6e"/>
<rect x="96.9" y="1374.8" width="43.7" height="20.5" fill="#e27a5e"/>
<rect x="140.3" y="1374.8" width="42" height="20.5" fill="#c63a40"/>
<rect x="182" y="1374.8" width="44.4" height="20.5" fill="#e27a5e"/>
<rect x="226.1" y="1374.8" width="43.5" height="20.5" fill="#f9dbca"/>
<rect x="269.3" y="1374.8" width="43.7" height="20.5" fill="#f9dbca"/>
<rect x="312.7" y="1374.8" width="43.6" height="20.5" fill="#f9e7df"/>
<rect x="10.3" y="1395" width="43.5" height="20.5" fill="#db6450"/>
<rect x="53.5" y="1395" width="43.7" height="20.5" fill="#db6450"/>
<rect x="96.9" y="1395" width="43.7" height="20.5" fill="#db6450"/>
<rect x="140.3" y="1395" width="42" height="20.5" fill="#db6450"/>
<rect x="182" y="1395" width="44.4" height="20.5" fill="#e3edf4"/>
<rect x="226.1" y="1395" width="43.5" height="20.5" fill="#e3edf4"/>
<rect x="269.3" y="1395" width="43.7" height="20.5" fill="#f6efec"/>
<rect x="312.7" y="1395" width="43.6" height="20.5" fill="#f9e7df"/>
<rect x="10.3" y="1415.2" width="43.5" height="20.5" fill="#db6450"/>
<rect x="53.5" y="1415.2" width="43.7" height="20.5" fill="#db6450"/>
<rect x="96.9" y="1415.2" width="43.7" height="20.5" fill="#db6450"/>
<rect x="140.3" y="1415.2" width="42" height="20.5" fill="#db6450"/>
<rect x="182" y="1415.2" width="44.4" height="20.5" fill="#f6efec"/>
<rect x="226.1" y="1415.2" width="43.5" height="20.5" fill="#f2f3f4"/>
<rect x="269.3" y="1415.2" width="43.7" height="20.5" fill="#f2f3f4"/>
<rect x="312.7" y="1415.2" width="43.6" height="20.5" fill="#f9e7df"/>
<rect x="10.3" y="1435.4" width="43.5" height="20.5" fill="#e27a5e"/>
<rect x="53.5" y="1435.4" width="43.7" height="20.5" fill="#e27a5e"/>
<rect x="96.9" y="1435.4" width="43.7" height="20.5" fill="#e27a5e"/>
<rect x="140.3" y="1435.4" width="42" height="20.5" fill="#e98c6e"/>
<rect x="182" y="1435.4" width="44.4" height="20.5" fill="#f2f3f4"/>
<rect x="226.1" y="1435.4" width="43.5" height="20.5" fill="#f0a283"/>
<rect x="269.3" y="1435.4" width="43.7" height="20.5" fill="#f9dbca"/>
<rect x="312.7" y="1435.4" width="43.6" height="20.5" fill="#d3e5f0"/>
<rect x="10.3" y="1455.6" width="43.5" height="20.5" fill="#db6450"/>
<rect x="53.5" y="1455.6" width="43.7" height="20.5" fill="#db6450"/>
<rect x="96.9" y="1455.6" width="43.7" height="20.5" fill="#db6450"/>
<rect x="140.3" y="1455.6" width="42" height="20.5" fill="#db6450"/>
<rect x="182" y="1455.6" width="44.4" height="20.5" fill="#e27a5e"/>
<rect x="226.1" y="1455.6" width="43.5" height="20.5" fill="#e27a5e"/>
<rect x="269.3" y="1455.6" width="43.7" height="20.5" fill="#db6450"/>
<rect x="312.7" y="1455.6" width="43.6" height="20.5" fill="#db6450"/>
<rect x="10.3" y="1475.8" width="43.5" height="20.5" fill="#db6450"/>
<rect x="53.5" y="1475.8" width="43.7" height="20.5" fill="#db6450"/>
<rect x="96.9" y="1475.8" width="43.7" height="20.5" fill="#db6450"/>
<rect x="140.3" y="1475.8" width="42" height="20.5" fill="#db6450"/>
<rect x="182" y="1475.8" width="44.4" height="20.5" fill="#e27a5e"/>
<rect x="226.1" y="1475.8" width="43.5" height="20.5" fill="#e27a5e"/>
<rect x="269.3" y="1475.8" width="43.7" height="20.5" fill="#db6450"/>
<rect x="312.7" y="1475.8" width="43.6" height="20.5" fill="#db6450"/>
<rect x="10.3" y="1496" width="43.5" height="20.5" fill="#db6450"/>
<rect x="53.5" y="1496" width="43.7" height="20.5" fill="#db6450"/>
<rect x="96.9" y="1496" width="43.7" height="20.5" fill="#db6450"/>
<rect x="140.3" y="1496" width="42" height="20.5" fill="#db6450"/>
<rect x="182" y="1496" width="44.4" height="20.5" fill="#db6450"/>
<rect x="226.1" y="1496" width="43.5" height="20.5" fill="#db6450"/>
<rect x="269.3" y="1496" width="43.7" height="20.5" fill="#db6450"/>
<rect x="312.7" y="1496" width="43.6" height="20.5" fill="#db6450"/>
<rect x="10.3" y="1516.2" width="43.5" height="20.5" fill="#e98c6e"/>
<rect x="53.5" y="1516.2" width="43.7" height="20.5" fill="#e98c6e"/>
<rect x="96.9" y="1516.2" width="43.7" height="20.5" fill="#db6450"/>
<rect x="140.3" y="1516.2" width="42" height="20.5" fill="#db6450"/>
<rect x="182" y="1516.2" width="44.4" height="20.5" fill="#db6450"/>
<rect x="226.1" y="1516.2" width="43.5" height="20.5" fill="#db6450"/>
<rect x="269.3" y="1516.2" width="43.7" height="20.5" fill="#db6450"/>
<rect x="312.7" y="1516.2" width="43.6" height="20.5" fill="#e98c6e"/>
<rect x="10.3" y="1536.4" width="43.5" height="20.5" fill="#d44d47"/>
<rect x="53.5" y="1536.4" width="43.7" height="20.5" fill="#d44d47"/>
<rect x="96.9" y="1536.4" width="43.7" height="20.5" fill="#d44d47"/>
<rect x="140.3" y="1536.4" width="42" height="20.5" fill="#d44d47"/>
<rect x="182" y="1536.4" width="44.4" height="20.5" fill="#f0a283"/>
<rect x="226.1" y="1536.4" width="43.5" height="20.5" fill="#e98c6e"/>
<rect x="269.3" y="1536.4" width="43.7" height="20.5" fill="#e98c6e"/>
<rect x="312.7" y="1536.4" width="43.6" height="20.5" fill="#f0a283"/>
<rect x="10.3" y="1556.6" width="43.5" height="20.5" fill="#d44d47"/>
<rect x="53.5" y="1556.6" width="43.7" height="20.5" fill="#d44d47"/>
<rect x="96.9" y="1556.6" width="43.7" height="20.5" fill="#d44d47"/>
<rect x="140.3" y="1556.6" width="42" height="20.5" fill="#d44d47"/>
<rect x="182" y="1556.6" width="44.4" height="20.5" fill="#e27a5e"/>
<rect x="226.1" y="1556.6" width="43.5" height="20.5" fill="#f0a283"/>
<rect x="269.3" y="1556.6" width="43.7" height="20.5" fill="#e98c6e"/>
<rect x="312.7" y="1556.6" width="43.6" height="20.5" fill="#e98c6e"/>
<rect x="10.3" y="1576.8" width="43.5" height="20.5" fill="#db6450"/>
<rect x="53.5" y="1576.8" width="43.7" height="20.5" fill="#db6450"/>
<rect x="96.9" y="1576.8" width="43.7" height="20.5" fill="#db6450"/>
<rect x="140.3" y="1576.8" width="42" height="20.5" fill="#db6450"/>
<rect x="182" y="1576.8" width="44.4" height="20.5" fill="#f0a283"/>
<rect x="226.1" y="1576.8" width="43.5" height="20.5" fill="#e27a5e"/>
<rect x="269.3" y="1576.8" width="43.7" height="20.5" fill="#e27a5e"/>
<rect x="312.7" y="1576.8" width="43.6" height="20.5" fill="#e27a5e"/>
<rect x="10.3" y="1597" width="43.5" height="20.5" fill="#db6450"/>
<rect x="53.5" y="1597" width="43.7" height="20.5" fill="#db6450"/>
<rect x="96.9" y="1597" width="43.7" height="20.5" fill="#db6450"/>
<rect x="140.3" y="1597" width="42" height="20.5" fill="#db6450"/>
<rect x="182" y="1597" width="44.4" height="20.5" fill="#f0a283"/>
<rect x="226.1" y="1597" width="43.5" height="20.5" fill="#e98c6e"/>
<rect x="269.3" y="1597" width="43.7" height="20.5" fill="#e27a5e"/>
<rect x="312.7" y="1597" width="43.6" height="20.5" fill="#e98c6e"/>
<rect x="10.3" y="1617.2" width="43.5" height="20.5" fill="#db6450"/>
<rect x="53.5" y="1617.2" width="43.7" height="20.5" fill="#db6450"/>
<rect x="96.9" y="1617.2" width="43.7" height="20.5" fill="#db6450"/>
<rect x="140.3" y="1617.2" width="42" height="20.5" fill="#db6450"/>
<rect x="182" y="1617.2" width="44.4" height="20.5" fill="#e98c6e"/>
<rect x="226.1" y="1617.2" width="43.5" height="20.5" fill="#e27a5e"/>
<rect x="269.3" y="1617.2" width="43.7" height="20.5" fill="#db6450"/>
<rect x="312.7" y="1617.2" width="43.6" height="20.5" fill="#e27a5e"/>
<rect x="10.3" y="1637.4" width="43.5" height="20.5" fill="#e27a5e"/>
<rect x="53.5" y="1637.4" width="43.7" height="20.5" fill="#e27a5e"/>
<rect x="96.9" y="1637.4" width="43.7" height="20.5" fill="#e27a5e"/>
<rect x="140.3" y="1637.4" width="42" height="20.5" fill="#e27a5e"/>
<rect x="182" y="1637.4" width="44.4" height="20.5" fill="#f0a283"/>
<rect x="226.1" y="1637.4" width="43.5" height="20.5" fill="#c63a40"/>
<rect x="269.3" y="1637.4" width="43.7" height="20.5" fill="#db6450"/>
<rect x="312.7" y="1637.4" width="43.6" height="20.5" fill="#f6c4a9"/>
<rect x="10.3" y="1657.6" width="43.5" height="20.5" fill="#db6450"/>
<rect x="53.5" y="1657.6" width="43.7" height="20.5" fill="#e27a5e"/>
<rect x="96.9" y="1657.6" width="43.7" height="20.5" fill="#db6450"/>
<rect x="140.3" y="1657.6" width="42" height="20.5" fill="#db6450"/>
<rect x="182" y="1657.6" width="44.4" height="20.5" fill="#db6450"/>
<rect x="226.1" y="1657.6" width="43.5" height="20.5" fill="#db6450"/>
<rect x="269.3" y="1657.6" width="43.7" height="20.5" fill="#db6450"/>
<rect x="312.7" y="1657.6" width="43.6" height="20.5" fill="#d44d47"/>
<rect x="10.3" y="1677.9" width="43.5" height="20.5" fill="#db6450"/>
<rect x="53.5" y="1677.9" width="43.7" height="20.5" fill="#db6450"/>
<rect x="96.9" y="1677.9" width="43.7" height="20.5" fill="#db6450"/>
<rect x="140.3" y="1677.9" width="42" height="20.5" fill="#e27a5e"/>
<rect x="182" y="1677.9" width="44.4" height="20.5" fill="#db6450"/>
<rect x="226.1" y="1677.9" width="43.5" height="20.5" fill="#db6450"/>
<rect x="269.3" y="1677.9" width="43.7" height="20.5" fill="#d44d47"/>
<rect x="312.7" y="1677.9" width="43.6" height="20.5" fill="#d44d47"/>
<rect x="10.3" y="1698.1" width="43.5" height="20.5" fill="#db6450"/>
<rect x="53.5" y="1698.1" width="43.7" height="20.5" fill="#db6450"/>
<rect x="96.9" y="1698.1" width="43.7" height="20.5" fill="#db6450"/>
<rect x="140.3" y="1698.1" width="42" height="20.5" fill="#e27a5e"/>
<rect x="182" y="1698.1" width="44.4" height="20.5" fill="#e27a5e"/>
<rect x="226.1" y="1698.1" width="43.5" height="20.5" fill="#db6450"/>
<rect x="269.3" y="1698.1" width="43.7" height="20.5" fill="#d44d47"/>
<rect x="312.7" y="1698.1" width="43.6" height="20.5" fill="#d44d47"/>
<rect x="10.3" y="1718.3" width="43.5" height="20.5" fill="#e98c6e"/>
<rect x="53.5" y="1718.3" width="43.7" height="20.5" fill="#e98c6e"/>
<rect x="96.9" y="1718.3" width="43.7" height="20.5" fill="#e98c6e"/>
<rect x="140.3" y="1718.3" width="42" height="20.5" fill="#e98c6e"/>
<rect x="182" y="1718.3" width="44.4" height="20.5" fill="#e27a5e"/>
<rect x="226.1" y="1718.3" width="43.5" height="20.5" fill="#db6450"/>
<rect x="269.3" y="1718.3" width="43.7" height="20.5" fill="#d44d47"/>
<rect x="312.7" y="1718.3" width="43.6" height="20.5" fill="#c63a40"/>
<rect x="10.3" y="1738.5" width="43.5" height="20.5" fill="#ffffff"/>
<rect x="53.5" y="1738.5" width="43.7" height="20.5" fill="#e98c6e"/>
<rect x="96.9" y="1738.5" width="43.7" height="20.5" fill="#e98c6e"/>
<rect x="140.3" y="1738.5" width="42" height="20.5" fill="#e98c6e"/>
<rect x="182" y="1738.5" width="44.4" height="20.5" fill="#e98c6e"/>
<rect x="226.1" y="1738.5" width="43.5" height="20.5" fill="#e27a5e"/>
<rect x="269.3" y="1738.5" width="43.7" height="20.5" fill="#d44d47"/>
<rect x="312.7" y="1738.5" width="43.6" height="20.5" fill="#d44d47"/>
<rect x="10.3" y="1758.7" width="43.5" height="20.5" fill="#f0a283"/>
<rect x="53.5" y="1758.7" width="43.7" height="20.5" fill="#f0a283"/>
<rect x="96.9" y="1758.7" width="43.7" height="20.5" fill="#f0a283"/>
<rect x="140.3" y="1758.7" width="42" height="20.5" fill="#f0a283"/>
<rect x="182" y="1758.7" width="44.4" height="20.5" fill="#d44d47"/>
<rect x="226.1" y="1758.7" width="43.5" height="20.5" fill="#e27a5e"/>
<rect x="269.3" y="1758.7" width="43.7" height="20.5" fill="#d44d47"/>
<rect x="312.7" y="1758.7" width="43.6" height="20.5" fill="#c63a40"/>
<rect x="10.3" y="1778.9" width="43.5" height="20.5" fill="#f0a283"/>
<rect x="53.5" y="1778.9" width="43.7" height="20.5" fill="#f0a283"/>
<rect x="96.9" y="1778.9" width="43.7" height="20.5" fill="#f0a283"/>
<rect x="140.3" y="1778.9" width="42" height="20.5" fill="#f0a283"/>
<rect x="182" y="1778.9" width="44.4" height="20.5" fill="#d44d47"/>
<rect x="226.1" y="1778.9" width="43.5" height="20.5" fill="#e27a5e"/>
<rect x="269.3" y="1778.9" width="43.7" height="20.5" fill="#d44d47"/>
<rect x="312.7" y="1778.9" width="43.6" height="20.5" fill="#b32436"/>
<rect x="10.3" y="1799.1" width="43.5" height="20.5" fill="#dae7f0"/>
<rect x="53.5" y="1799.1" width="43.7" height="20.5" fill="#dae7f0"/>
<rect x="96.9" y="1799.1" width="43.7" height="20.5" fill="#dae7f0"/>
<rect x="140.3" y="1799.1" width="42" height="20.5" fill="#dae7f0"/>
<rect x="182" y="1799.1" width="44.4" height="20.5" fill="#e98c6e"/>
<rect x="226.1" y="1799.1" width="43.5" height="20.5" fill="#e98c6e"/>
<rect x="269.3" y="1799.1" width="43.7" height="20.5" fill="#e98c6e"/>
<rect x="312.7" y="1799.1" width="43.6" height="20.5" fill="#e27a5e"/>
<rect x="10.3" y="1819.3" width="43.5" height="20.5" fill="#dae7f0"/>
<rect x="53.5" y="1819.3" width="43.7" height="20.5" fill="#dae7f0"/>
<rect x="96.9" y="1819.3" width="43.7" height="20.5" fill="#dae7f0"/>
<rect x="140.3" y="1819.3" width="42" height="20.5" fill="#dae7f0"/>
<rect x="182" y="1819.3" width="44.4" height="20.5" fill="#e98c6e"/>
<rect x="226.1" y="1819.3" width="43.5" height="20.5" fill="#f0a283"/>
<rect x="269.3" y="1819.3" width="43.7" height="20.5" fill="#e98c6e"/>
<rect x="312.7" y="1819.3" width="43.6" height="20.5" fill="#d44d47"/>
<rect x="10.3" y="1839.5" width="43.5" height="20.5" fill="#dae7f0"/>
<rect x="53.5" y="1839.5" width="43.7" height="20.5" fill="#dae7f0"/>
<rect x="96.9" y="1839.5" width="43.7" height="20.5" fill="#dae7f0"/>
<rect x="140.3" y="1839.5" width="42" height="20.5" fill="#dae7f0"/>
<rect x="182" y="1839.5" width="44.4" height="20.5" fill="#e27a5e"/>
<rect x="226.1" y="1839.5" width="43.5" height="20.5" fill="#db6450"/>
<rect x="269.3" y="1839.5" width="43.7" height="20.5" fill="#e27a5e"/>
<rect x="312.7" y="1839.5" width="43.6" height="20.5" fill="#e27a5e"/>
<rect x="10.3" y="1859.7" width="43.5" height="20.5" fill="#dae7f0"/>
<rect x="53.5" y="1859.7" width="43.7" height="20.5" fill="#dae7f0"/>
<rect x="96.9" y="1859.7" width="43.7" height="20.5" fill="#dae7f0"/>
<rect x="140.3" y="1859.7" width="42" height="20.5" fill="#dae7f0"/>
<rect x="182" y="1859.7" width="44.4" height="20.5" fill="#e27a5e"/>
<rect x="226.1" y="1859.7" width="43.5" height="20.5" fill="#db6450"/>
<rect x="269.3" y="1859.7" width="43.7" height="20.5" fill="#e27a5e"/>
<rect x="312.7" y="1859.7" width="43.6" height="20.5" fill="#e98c6e"/>
<rect x="10.3" y="1879.9" width="43.5" height="20.5" fill="#f2f3f4"/>
<rect x="53.5" y="1879.9" width="43.7" height="20.5" fill="#f2f3f4"/>
<rect x="96.9" y="1879.9" width="43.7" height="20.5" fill="#f2f3f4"/>
<rect x="140.3" y="1879.9" width="42" height="20.5" fill="#f2f3f4"/>
<rect x="182" y="1879.9" width="44.4" height="20.5" fill="#e27a5e"/>
<rect x="226.1" y="1879.9" width="43.5" height="20.5" fill="#e27a5e"/>
<rect x="269.3" y="1879.9" width="43.7" height="20.5" fill="#e27a5e"/>
<rect x="312.7" y="1879.9" width="43.6" height="20.5" fill="#db6450"/>
<rect x="10.3" y="1900.1" width="43.5" height="20.5" fill="#f2f3f4"/>
<rect x="53.5" y="1900.1" width="43.7" height="20.5" fill="#f2f3f4"/>
<rect x="96.9" y="1900.1" width="43.7" height="20.5" fill="#f2f3f4"/>
<rect x="140.3" y="1900.1" width="42" height="20.5" fill="#f2f3f4"/>
<rect x="182" y="1900.1" width="44.4" height="20.5" fill="#db6450"/>
<rect x="226.1" y="1900.1" width="43.5" height="20.5" fill="#e27a5e"/>
<rect x="269.3" y="1900.1" width="43.7" height="20.5" fill="#db6450"/>
<rect x="312.7" y="1900.1" width="43.6" height="20.5" fill="#d44d47"/>
<rect x="10.3" y="1920.3" width="43.5" height="20.5" fill="#f2f3f4"/>
<rect x="53.5" y="1920.3" width="43.7" height="20.5" fill="#f2f3f4"/>
<rect x="96.9" y="1920.3" width="43.7" height="20.5" fill="#f2f3f4"/>
<rect x="140.3" y="1920.3" width="42" height="20.5" fill="#f2f3f4"/>
<rect x="182" y="1920.3" width="44.4" height="20.5" fill="#db6450"/>
<rect x="226.1" y="1920.3" width="43.5" height="20.5" fill="#d44d47"/>
<rect x="269.3" y="1920.3" width="43.7" height="20.5" fill="#db6450"/>
<rect x="312.7" y="1920.3" width="43.6" height="20.5" fill="#e27a5e"/>
<rect x="10.3" y="1940.5" width="43.5" height="20.5" fill="#e3edf4"/>
<rect x="53.5" y="1940.5" width="43.7" height="20.5" fill="#e3edf4"/>
<rect x="96.9" y="1940.5" width="43.7" height="20.5" fill="#e3edf4"/>
<rect x="140.3" y="1940.5" width="42" height="20.5" fill="#f2f3f4"/>
<rect x="182" y="1940.5" width="44.4" height="20.5" fill="#db6450"/>
<rect x="226.1" y="1940.5" width="43.5" height="20.5" fill="#c63a40"/>
<rect x="269.3" y="1940.5" width="43.7" height="20.5" fill="#e27a5e"/>
<rect x="312.7" y="1940.5" width="43.6" height="20.5" fill="#f9dbca"/>
<rect x="10.3" y="1960.7" width="43.5" height="20.5" fill="#e3edf4"/>
<rect x="53.5" y="1960.7" width="43.7" height="20.5" fill="#e3edf4"/>
<rect x="96.9" y="1960.7" width="43.7" height="20.5" fill="#e3edf4"/>
<rect x="140.3" y="1960.7" width="42" height="20.5" fill="#e3edf4"/>
<rect x="182" y="1960.7" width="44.4" height="20.5" fill="#e98c6e"/>
<rect x="226.1" y="1960.7" width="43.5" height="20.5" fill="#f9e7df"/>
<rect x="269.3" y="1960.7" width="43.7" height="20.5" fill="#f9dbca"/>
<rect x="312.7" y="1960.7" width="43.6" height="20.5" fill="#d44d47"/>
<rect x="10.3" y="1980.9" width="43.5" height="20.5" fill="#f0a283"/>
<rect x="53.5" y="1980.9" width="43.7" height="20.5" fill="#f0a283"/>
<rect x="96.9" y="1980.9" width="43.7" height="20.5" fill="#f0a283"/>
<rect x="140.3" y="1980.9" width="42" height="20.5" fill="#f6c4a9"/>
<rect x="182" y="1980.9" width="44.4" height="20.5" fill="#db6450"/>
<rect x="226.1" y="1980.9" width="43.5" height="20.5" fill="#d44d47"/>
<rect x="269.3" y="1980.9" width="43.7" height="20.5" fill="#d44d47"/>
<rect x="312.7" y="1980.9" width="43.6" height="20.5" fill="#d44d47"/>
<rect x="10.3" y="2001.2" width="43.5" height="20.5" fill="#f0a283"/>
<rect x="53.5" y="2001.2" width="43.7" height="20.5" fill="#f0a283"/>
<rect x="96.9" y="2001.2" width="43.7" height="20.5" fill="#f0a283"/>
<rect x="140.3" y="2001.2" width="42" height="20.5" fill="#f0a283"/>
<rect x="182" y="2001.2" width="44.4" height="20.5" fill="#db6450"/>
<rect x="226.1" y="2001.2" width="43.5" height="20.5" fill="#d44d47"/>
<rect x="269.3" y="2001.2" width="43.7" height="20.5" fill="#d44d47"/>
<rect x="312.7" y="2001.2" width="43.6" height="20.5" fill="#d44d47"/>
<rect x="10.3" y="2021.4" width="43.5" height="20.5" fill="#f0a283"/>
<rect x="53.5" y="2021.4" width="43.7" height="20.5" fill="#f0a283"/>
<rect x="96.9" y="2021.4" width="43.7" height="20.5" fill="#f0a283"/>
<rect x="140.3" y="2021.4" width="42" height="20.5" fill="#f0a283"/>
<rect x="182" y="2021.4" width="44.4" height="20.5" fill="#d44d47"/>
<rect x="226.1" y="2021.4" width="43.5" height="20.5" fill="#d44d47"/>
<rect x="269.3" y="2021.4" width="43.7" height="20.5" fill="#d44d47"/>
<rect x="312.7" y="2021.4" width="43.6" height="20.5" fill="#c63a40"/>
<rect x="10.3" y="2041.6" width="43.5" height="20.5" fill="#f6c4a9"/>
<rect x="53.5" y="2041.6" width="43.7" height="20.5" fill="#f6c4a9"/>
<rect x="96.9" y="2041.6" width="43.7" height="20.5" fill="#f6c4a9"/>
<rect x="140.3" y="2041.6" width="42" height="20.5" fill="#f6c4a9"/>
<rect x="182" y="2041.6" width="44.4" height="20.5" fill="#db6450"/>
<rect x="226.1" y="2041.6" width="43.5" height="20.5" fill="#e27a5e"/>
<rect x="269.3" y="2041.6" width="43.7" height="20.5" fill="#d44d47"/>
<rect x="312.7" y="2041.6" width="43.6" height="20.5" fill="#b32436"/>
<rect x="10.3" y="2061.8" width="43.5" height="20.5" fill="#f6c4a9"/>
<rect x="53.5" y="2061.8" width="43.7" height="20.5" fill="#f6c4a9"/>
<rect x="96.9" y="2061.8" width="43.7" height="20.5" fill="#f6c4a9"/>
<rect x="140.3" y="2061.8" width="42" height="20.5" fill="#f9dbca"/>
<rect x="182" y="2061.8" width="44.4" height="20.5" fill="#d44d47"/>
<rect x="226.1" y="2061.8" width="43.5" height="20.5" fill="#b32436"/>
<rect x="269.3" y="2061.8" width="43.7" height="20.5" fill="#d44d47"/>
<rect x="312.7" y="2061.8" width="43.6" height="20.5" fill="#e98c6e"/>
<rect x="10.3" y="2082" width="43.5" height="20.5" fill="#f9dbca"/>
<rect x="53.5" y="2082" width="43.7" height="20.5" fill="#f9dbca"/>
<rect x="96.9" y="2082" width="43.7" height="20.5" fill="#f9dbca"/>
<rect x="140.3" y="2082" width="42" height="20.5" fill="#f9dbca"/>
<rect x="182" y="2082" width="44.4" height="20.5" fill="#e27a5e"/>
<rect x="226.1" y="2082" width="43.5" height="20.5" fill="#db6450"/>
<rect x="269.3" y="2082" width="43.7" height="20.5" fill="#d44d47"/>
<rect x="312.7" y="2082" width="43.6" height="20.5" fill="#d44d47"/>
<rect x="10.3" y="2102.2" width="43.5" height="20.5" fill="#f9e7df"/>
<rect x="53.5" y="2102.2" width="43.7" height="20.5" fill="#f9e7df"/>
<rect x="96.9" y="2102.2" width="43.7" height="20.5" fill="#f9e7df"/>
<rect x="140.3" y="2102.2" width="42" height="20.5" fill="#f9e7df"/>
<rect x="182" y="2102.2" width="44.4" height="20.5" fill="#e98c6e"/>
<rect x="226.1" y="2102.2" width="43.5" height="20.5" fill="#e27a5e"/>
<rect x="269.3" y="2102.2" width="43.7" height="20.5" fill="#db6450"/>
<rect x="312.7" y="2102.2" width="43.6" height="20.5" fill="#c63a40"/>
<rect x="10.3" y="2122.4" width="43.5" height="20.5" fill="#f6efec"/>
<rect x="53.5" y="2122.4" width="43.7" height="20.5" fill="#f6efec"/>
<rect x="96.9" y="2122.4" width="43.7" height="20.5" fill="#f6efec"/>
<rect x="140.3" y="2122.4" width="42" height="20.5" fill="#f6efec"/>
<rect x="182" y="2122.4" width="44.4" height="20.5" fill="#e27a5e"/>
<rect x="226.1" y="2122.4" width="43.5" height="20.5" fill="#db6450"/>
<rect x="269.3" y="2122.4" width="43.7" height="20.5" fill="#d44d47"/>
<rect x="312.7" y="2122.4" width="43.6" height="20.5" fill="#d44d47"/>
<rect x="10.3" y="2142.6" width="43.5" height="20.5" fill="#f9dbca"/>
<rect x="53.5" y="2142.6" width="43.7" height="20.5" fill="#f9dbca"/>
<rect x="96.9" y="2142.6" width="43.7" height="20.5" fill="#f9dbca"/>
<rect x="140.3" y="2142.6" width="42" height="20.5" fill="#f9dbca"/>
<rect x="182" y="2142.6" width="44.4" height="20.5" fill="#db6450"/>
<rect x="226.1" y="2142.6" width="43.5" height="20.5" fill="#d44d47"/>
<rect x="269.3" y="2142.6" width="43.7" height="20.5" fill="#d44d47"/>
<rect x="312.7" y="2142.6" width="43.6" height="20.5" fill="#d44d47"/>
<path d="M10.3 182.6H356M10.3 202.8H356M10.3 223H356M10.3 243.2H356M10.3 263.4H356M10.3 283.6H356M10.3 303.8H356M10.3 324H356M10.3 344.3H356M10.3 364.5H356M10.3 384.7H356M10.3 404.9H356M10.3 425.1H356M10.3 445.3H356M10.3 465.5H356M10.3 485.7H356M10.3 505.9H356M10.3 526.1H356M10.3 546.3H356M10.3 566.5H356M10.3 586.7H356M10.3 606.9H356M10.3 627.1H356M10.3 647.3H356M10.3 667.6H356M10.3 687.8H356M10.3 708H356M10.3 728.2H356M10.3 748.4H356M10.3 768.6H356M10.3 788.8H356M10.3 809H356M10.3 829.2H356M10.3 849.4H356M10.3 869.6H356M10.3 889.8H356M10.3 910H356M10.3 930.2H356M10.3 950.4H356M10.3 970.6H356M10.3 990.8H356M10.3 1011.1H356M10.3 1031.3H356M10.3 1051.5H356M10.3 1071.7H356M10.3 1091.9H356M10.3 1112.1H356M10.3 1132.3H356M10.3 1152.5H356M10.3 1172.7H356M10.3 1192.9H356M10.3 1213.1H356M10.3 1233.3H356M10.3 1253.5H356M10.3 1273.7H356M10.3 1293.9H356M10.3 1314.1H356M10.3 1334.4H356M10.3 1354.6H356M10.3 1374.8H356M10.3 1395H356M10.3 1415.2H356M10.3 1435.4H356M10.3 1455.6H356M10.3 1475.8H356M10.3 1496H356M10.3 1516.2H356M10.3 1536.4H356M10.3 1556.6H356M10.3 1576.8H356M10.3 1597H356M10.3 1617.2H356M10.3 1637.4H356M10.3 1657.6H356M10.3 1677.9H356M10.3 1698.1H356M10.3 1718.3H356M10.3 1738.5H356M10.3 1758.7H356M10.3 1778.9H356M10.3 1799.1H356M10.3 1819.3H356M10.3 1839.5H356M10.3 1859.7H356M10.3 1879.9H356M10.3 1900.1H356M10.3 1920.3H356M10.3 1940.5H356M10.3 1960.7H356M10.3 1980.9H356M10.3 2001.2H356M10.3 2021.4H356M10.3 2041.6H356M10.3 2061.8H356M10.3 2082H356M10.3 2102.2H356M10.3 2122.4H356M10.3 2142.6H356M53.5 162.4V2162.8M96.9 162.4V2162.8M140.3 162.4V2162.8M226.1 162.4V2162.8M269.3 162.4V2162.8M312.7 162.4V2162.8" stroke="#1a1a1a" stroke-width="1.3" fill="none"/>
<rect x="10.3" y="162.4" width="345.7" height="2000.4" fill="none" stroke="#111" stroke-width="2"/>
<path d="M182 162.4V2162.8" stroke="#111" stroke-width="2.8"/>
<text transform="translate(363.3 179.4) scale(1.07 1)" font-size="23" font-style="italic">Coro1b</text>
<text transform="translate(363.3 199.6) scale(1.07 1)" font-size="23" font-style="italic">Mcat</text>
<text transform="translate(363.3 219.8) scale(1.07 1)" font-size="23" font-style="italic">Tjp1</text>
<text transform="translate(363.3 240) scale(1.07 1)" font-size="23" font-style="italic">Gcnt2</text>
<text transform="translate(363.3 260.2) scale(1.07 1)" font-size="23" font-style="italic">Fbxo5</text>
<text transform="translate(363.3 280.4) scale(1.07 1)" font-size="23" font-style="italic">Dnpep</text>
<text transform="translate(363.3 300.6) scale(1.07 1)" font-size="23" font-style="italic">Lilrb4a</text>
<text transform="translate(363.3 320.8) scale(1.07 1)" font-size="23" font-style="italic">Tgfbr3</text>
<text transform="translate(363.3 341) scale(1.07 1)" font-size="23" font-style="italic">Ccdc22</text>
<text transform="translate(363.3 361.3) scale(1.07 1)" font-size="23" font-style="italic">Ly6c2</text>
<text transform="translate(363.3 381.5) scale(1.07 1)" font-size="23" font-style="italic">Ly6c1</text>
<text transform="translate(363.3 401.7) scale(1.07 1)" font-size="23" font-style="italic">Rcn3</text>
<text transform="translate(363.3 421.9) scale(1.07 1)" font-size="23" font-style="italic">Galns</text>
<text transform="translate(363.3 442.1) scale(1.07 1)" font-size="23" font-style="italic">Slc25a39</text>
<text transform="translate(363.3 462.3) scale(1.07 1)" font-size="23" font-style="italic">Tmem176b</text>
<text transform="translate(363.3 482.5) scale(1.07 1)" font-size="23" font-style="italic">Phf11c</text>
<text transform="translate(363.3 502.7) scale(1.07 1)" font-size="23" font-style="italic">Tmem109</text>
<text transform="translate(363.3 522.9) scale(1.07 1)" font-size="23" font-style="italic">Mapk3</text>
<text transform="translate(363.3 543.1) scale(1.07 1)" font-size="23" font-style="italic">Cish</text>
<text transform="translate(363.3 563.3) scale(1.07 1)" font-size="23" font-style="italic">Ctss</text>
<text transform="translate(363.3 583.5) scale(1.07 1)" font-size="23" font-style="italic">Ikzf2</text>
<text transform="translate(363.3 603.7) scale(1.07 1)" font-size="23" font-style="italic">Aip</text>
<text transform="translate(363.3 623.9) scale(1.07 1)" font-size="23" font-style="italic">Pepd</text>
<text transform="translate(363.3 644.1) scale(1.07 1)" font-size="23" font-style="italic">Fos</text>
<text transform="translate(363.3 664.3) scale(1.07 1)" font-size="23" font-style="italic">Egr1</text>
<text transform="translate(363.3 684.6) scale(1.07 1)" font-size="23" font-style="italic">Gcat</text>
<text transform="translate(363.3 704.8) scale(1.07 1)" font-size="23" font-style="italic">Bud23</text>
<text transform="translate(363.3 725) scale(1.07 1)" font-size="23" font-style="italic">Dsc3</text>
<text transform="translate(363.3 745.2) scale(1.07 1)" font-size="23" font-style="italic">Junb</text>
<text transform="translate(363.3 765.4) scale(1.07 1)" font-size="23" font-style="italic">Nt5e</text>
<text transform="translate(363.3 785.6) scale(1.07 1)" font-size="23" font-style="italic">Pdcd1</text>
<text transform="translate(363.3 805.8) scale(1.07 1)" font-size="23" font-style="italic">Serpinb9</text>
<text transform="translate(363.3 826) scale(1.07 1)" font-size="23" font-style="italic">Ifi47</text>
<text transform="translate(363.3 846.2) scale(1.07 1)" font-size="23" font-style="italic">Gimap9</text>
<text transform="translate(363.3 866.4) scale(1.07 1)" font-size="23" font-style="italic">Ddx60</text>
<text transform="translate(363.3 886.6) scale(1.07 1)" font-size="23" font-style="italic">Lrrc14</text>
<text transform="translate(363.3 906.8) scale(1.07 1)" font-size="23" font-style="italic">Ly6a2</text>
<text transform="translate(363.3 927) scale(1.07 1)" font-size="23" font-style="italic">Gimap6</text>
<text transform="translate(363.3 947.2) scale(1.07 1)" font-size="23" font-style="italic">Gimap3</text>
<text transform="translate(363.3 967.4) scale(1.07 1)" font-size="23" font-style="italic">Gimap4</text>
<text transform="translate(363.3 987.6) scale(1.07 1)" font-size="23" font-style="italic">Gpr174</text>
<text transform="translate(363.3 1007.8) scale(1.07 1)" font-size="23" font-style="italic">Ms4a4c</text>
<text transform="translate(363.3 1028.1) scale(1.07 1)" font-size="23" font-style="italic">Ifit1bl1</text>
<text transform="translate(363.3 1048.3) scale(1.07 1)" font-size="23" font-style="italic">Ms4a6b</text>
<text transform="translate(363.3 1068.5) scale(1.07 1)" font-size="23" font-style="italic">Lilr4b</text>
<text transform="translate(363.3 1088.7) scale(1.07 1)" font-size="23" font-style="italic">Gimap7</text>
<text transform="translate(363.3 1108.9) scale(1.07 1)" font-size="23" font-style="italic">Eps8</text>
<text transform="translate(363.3 1129.1) scale(1.07 1)" font-size="23" font-style="italic">Stat4</text>
<text transform="translate(363.3 1149.3) scale(1.07 1)" font-size="23" font-style="italic">Eef2</text>
<text transform="translate(363.3 1169.5) scale(1.07 1)" font-size="23" font-style="italic">Gm8369</text>
<text transform="translate(363.3 1189.7) scale(1.07 1)" font-size="23" font-style="italic">Samhd1</text>
<text transform="translate(363.3 1209.9) scale(1.07 1)" font-size="23" font-style="italic">Lyst</text>
<text transform="translate(363.3 1230.1) scale(1.07 1)" font-size="23" font-style="italic">Tbc1d4</text>
<text transform="translate(363.3 1250.3) scale(1.07 1)" font-size="23" font-style="italic">Cdkn1a</text>
<text transform="translate(363.3 1270.5) scale(1.07 1)" font-size="23" font-style="italic">Zfp36</text>
<text transform="translate(363.3 1290.7) scale(1.07 1)" font-size="23" font-style="italic">Itm2c</text>
<text transform="translate(363.3 1310.9) scale(1.07 1)" font-size="23" font-style="italic">Pgghg</text>
<text transform="translate(363.3 1331.1) scale(1.07 1)" font-size="23" font-style="italic">Lgals3</text>
<text transform="translate(363.3 1351.4) scale(1.07 1)" font-size="23" font-style="italic">Hpgds</text>
<text transform="translate(363.3 1371.6) scale(1.07 1)" font-size="23" font-style="italic">Fam234b</text>
<text transform="translate(363.3 1391.8) scale(1.07 1)" font-size="23" font-style="italic">Id3</text>
<text transform="translate(363.3 1412) scale(1.07 1)" font-size="23" font-style="italic">Prnp</text>
<text transform="translate(363.3 1432.2) scale(1.07 1)" font-size="23" font-style="italic">Sqstm1</text>
<text transform="translate(363.3 1452.4) scale(1.07 1)" font-size="23" font-style="italic">Tmem250</text>
<text transform="translate(363.3 1472.6) scale(1.07 1)" font-size="23" font-style="italic">Adgrg1</text>
<text transform="translate(363.3 1492.8) scale(1.07 1)" font-size="23" font-style="italic">Igflr1</text>
<text transform="translate(363.3 1513) scale(1.07 1)" font-size="23" font-style="italic">Ldlrad4</text>
<text transform="translate(363.3 1533.2) scale(1.07 1)" font-size="23" font-style="italic">Ddx41</text>
<text transform="translate(363.3 1553.4) scale(1.07 1)" font-size="23" font-style="italic">Fut7</text>
<text transform="translate(363.3 1573.6) scale(1.07 1)" font-size="23" font-style="italic">Dapk2</text>
<text transform="translate(363.3 1593.8) scale(1.07 1)" font-size="23" font-style="italic">Dennd3</text>
<text transform="translate(363.3 1614) scale(1.07 1)" font-size="23" font-style="italic">Ptgfrn</text>
<text transform="translate(363.3 1634.2) scale(1.07 1)" font-size="23" font-style="italic">Apol9a</text>
<text transform="translate(363.3 1654.4) scale(1.07 1)" font-size="23" font-style="italic">Arhgef39</text>
<text transform="translate(363.3 1674.6) scale(1.07 1)" font-size="23" font-style="italic">Txndc15</text>
<text transform="translate(363.3 1694.9) scale(1.07 1)" font-size="23" font-style="italic">Ly6g5b</text>
<text transform="translate(363.3 1715.1) scale(1.07 1)" font-size="23" font-style="italic">Apol9b</text>
<text transform="translate(363.3 1735.3) scale(1.07 1)" font-size="23" font-style="italic">Litaf</text>
<text transform="translate(363.3 1755.5) scale(1.07 1)" font-size="23" font-style="italic">Scamp4</text>
<text transform="translate(363.3 1775.7) scale(1.07 1)" font-size="23" font-style="italic">Chst12</text>
<text transform="translate(363.3 1795.9) scale(1.07 1)" font-size="23" font-style="italic">Gzmc</text>
<text transform="translate(363.3 1816.1) scale(1.07 1)" font-size="23" font-style="italic">Pld3</text>
<text transform="translate(363.3 1836.3) scale(1.07 1)" font-size="23" font-style="italic">Isg20</text>
<text transform="translate(363.3 1856.5) scale(1.07 1)" font-size="23" font-style="italic">Arnt2</text>
<text transform="translate(363.3 1876.7) scale(1.07 1)" font-size="23" font-style="italic">Sema6d</text>
<text transform="translate(363.3 1896.9) scale(1.07 1)" font-size="23" font-style="italic">Ergic3</text>
<text transform="translate(363.3 1917.1) scale(1.07 1)" font-size="23" font-style="italic">Fam174b</text>
<text transform="translate(363.3 1937.3) scale(1.07 1)" font-size="23" font-style="italic">Klrb1c</text>
<text transform="translate(363.3 1957.5) scale(1.07 1)" font-size="23" font-style="italic">Bivm</text>
<text transform="translate(363.3 1977.7) scale(1.07 1)" font-size="23" font-style="italic">Ucp2</text>
<text transform="translate(363.3 1997.9) scale(1.07 1)" font-size="23" font-style="italic">Ccr8</text>
<text transform="translate(363.3 2018.2) scale(1.07 1)" font-size="23" font-style="italic">Capg</text>
<text transform="translate(363.3 2038.4) scale(1.07 1)" font-size="23" font-style="italic">Lmna</text>
<text transform="translate(363.3 2058.6) scale(1.07 1)" font-size="23" font-style="italic">Pla2g15</text>
<text transform="translate(363.3 2078.8) scale(1.07 1)" font-size="23" font-style="italic">Nek6</text>
<text transform="translate(363.3 2099) scale(1.07 1)" font-size="23" font-style="italic">Ctsw</text>
<text transform="translate(363.3 2119.2) scale(1.07 1)" font-size="23" font-style="italic">Sdf2l1</text>
<text transform="translate(363.3 2139.4) scale(1.07 1)" font-size="23" font-style="italic">Matk</text>
<text transform="translate(363.3 2159.6) scale(1.07 1)" font-size="23" font-style="italic">Itgae</text>
<defs><linearGradient id="cb" x1="0" x2="1" y1="0" y2="0"><stop offset="0" stop-color="#1b5a8e"/><stop offset="0.08" stop-color="#1670b0"/><stop offset="0.22" stop-color="#1a96d6"/><stop offset="0.33" stop-color="#8cc2e6"/><stop offset="0.43" stop-color="#d6e6f0"/><stop offset="0.5" stop-color="#f5f3f3"/><stop offset="0.6" stop-color="#f3d2c0"/><stop offset="0.72" stop-color="#e79c80"/><stop offset="0.82" stop-color="#d86a52"/><stop offset="0.9" stop-color="#c43c4a"/><stop offset="1" stop-color="#7c2233"/></linearGradient></defs>
<rect x="6" y="2180.8" width="158.4" height="14.4" fill="url(#cb)" stroke="#111" stroke-width="1.8"/>
<path d="M12.3 2195V2202.5M84.9 2195V2202.5M159.3 2195V2202.5" stroke="#111" stroke-width="2.2"/>
<text x="13" y="2230" font-size="25" text-anchor="middle">&#8722;3</text>
<text x="84.5" y="2230" font-size="25" text-anchor="middle">0</text>
<text x="157.5" y="2230" font-size="25" text-anchor="middle">3</text>
<text x="175.5" y="2197.5" font-size="28.5" textLength="110" lengthAdjust="spacingAndGlyphs">Z&#8722;Score</text>
<text x="501" y="21.1" font-size="30" font-weight="bold">b</text>
<rect x="715.3" y="223.5" width="79.3" height="51.5" fill="#add8e6"/>
<rect x="794.6" y="223.5" width="208.3" height="51.5" fill="#d3d3d3"/>
<rect x="1002.9" y="223.5" width="70.9" height="51.5" fill="#f8bfca"/>
<path d="M715.3 171.1h14.4V275h-14.4ZM731.3 171.1h1.8V275h-1.8ZM733.3 171.1h1.8V275h-1.8ZM735.8 171.1h1.8V275h-1.8ZM738.9 171.1h3V275h-3ZM746 171.1h4V275h-4ZM753.5 171.1h4.6V275h-4.6ZM760 171.1h1.8V275h-1.8ZM764 171.1h1.8V275h-1.8ZM769 171.1h1.8V275h-1.8ZM772 171.1h1.8V275h-1.8ZM775 171.1h1.8V275h-1.8ZM778.5 171.1h1.8V275h-1.8ZM785.8 171.1h1.8V275h-1.8ZM793.2 171.1h1.8V275h-1.8ZM799.3 171.1h2.5V275h-2.5ZM803.5 171.1h1.8V275h-1.8ZM808.3 171.1h1.8V275h-1.8ZM812.8 171.1h3V275h-3ZM820 171.1h1.8V275h-1.8ZM825 171.1h3V275h-3ZM829.3 171.1h1.8V275h-1.8ZM833.6 171.1h2V275h-2ZM837.4 171.1h1.8V275h-1.8ZM841.2 171.1h1.8V275h-1.8ZM853 171.1h1.8V275h-1.8ZM866.3 171.1h1.8V275h-1.8ZM880.3 171.1h1.8V275h-1.8ZM890 171.1h1.8V275h-1.8ZM894 171.1h1.8V275h-1.8ZM930 171.1h1.8V275h-1.8ZM936.8 171.1h1.8V275h-1.8ZM943.2 171.1h1.8V275h-1.8ZM947.1 171.1h1.8V275h-1.8ZM974.1 171.1h1.8V275h-1.8ZM1012.6 171.1h1.8V275h-1.8ZM1021.6 171.1h1.8V275h-1.8ZM1070 171.1h1.8V275h-1.8Z" fill="#828282"/>
<path d="M715.3 282.9H1074.5" stroke="#000" stroke-width="3.4" stroke-linecap="square"/>
<path d="M715.3 282.9v15M751.2 282.9v15M787.1 282.9v15M823.1 282.9v15M859 282.9v15M894.9 282.9v15M930.8 282.9v15M966.7 282.9v15M1002.7 282.9v15M1038.6 282.9v15M1074.5 282.9v15" stroke="#000" stroke-width="3.2"/>
<text transform="translate(724.6,303) rotate(-90)" font-size="25" text-anchor="end">&#8722;20.37</text>
<text transform="translate(760.5,303) rotate(-90)" font-size="25" text-anchor="end">&#8722;2.37</text>
<text transform="translate(796.4,303) rotate(-90)" font-size="25" text-anchor="end">&#8722;1.51</text>
<text transform="translate(832.4,303) rotate(-90)" font-size="25" text-anchor="end">&#8722;0.95</text>
<text transform="translate(868.3,303) rotate(-90)" font-size="25" text-anchor="end">&#8722;0.50</text>
<text transform="translate(904.2,303) rotate(-90)" font-size="25" text-anchor="end">&#8722;0.09</text>
<text transform="translate(940.1,303) rotate(-90)" font-size="25" text-anchor="end">0.35</text>
<text transform="translate(976,303) rotate(-90)" font-size="25" text-anchor="end">0.83</text>
<text transform="translate(1012,303) rotate(-90)" font-size="25" text-anchor="end">1.39</text>
<text transform="translate(1047.9,303) rotate(-90)" font-size="25" text-anchor="end">2.31</text>
<text transform="translate(1083.8,303) rotate(-90)" font-size="25" text-anchor="end">33.87</text>
<path d="M687.1 58.6H701.6V161.6H687.1" stroke="#000" stroke-width="2.9" fill="none"/>
<path d="M701.6 138.2H1088.5" stroke="#000" stroke-width="3.4" stroke-dasharray="11.5 13.5"/>
<path d="M716.5 59.2C720.4 62.7 731.6 72.3 739.8 80.0C747.9 87.7 757.4 97.3 765.4 105.5C773.4 113.7 780.9 123.9 787.8 129.0C794.7 134.1 799.0 133.7 807.0 135.9C815.0 138.1 825.7 140.2 835.8 142.3C845.9 144.4 858.2 146.8 867.8 148.7C877.4 150.6 882.8 152.4 893.4 153.5C904.0 154.6 917.3 154.7 931.7 155.1C946.1 155.5 966.4 155.5 979.7 155.7C993.0 155.9 1001.0 156.4 1011.7 156.5C1022.4 156.6 1033.1 156.3 1043.7 156.5C1054.3 156.7 1070.2 157.4 1075.5 157.6" stroke="#2e74b5" stroke-width="6" fill="none" stroke-linecap="round" stroke-linejoin="round"/>
<text transform="translate(678.7,58.6) rotate(-90)" font-size="24" text-anchor="middle">4.4</text>
<text transform="translate(678.7,161.6) rotate(-90)" font-size="24" text-anchor="middle">0</text>
<text transform="translate(646.8,117.7) rotate(-90)" font-size="29" text-anchor="middle" textLength="146" lengthAdjust="spacingAndGlyphs">Enrichment</text>
<text x="796.4" y="55.8" font-size="29">Down in WT CD8<tspan font-size="15" dy="-12">+</tspan></text>
<text x="840.4" y="90.1" font-size="28" font-style="italic">p = 6&#215;10<tspan font-size="19" dy="-10">-21</tspan></text>
<text x="693.6" y="230.3" font-size="28" text-anchor="end">Down in</text>
<text x="693.6" y="265.1" font-size="28" text-anchor="end">CD8-</text>
<text x="693.6" y="299.9" font-size="28" text-anchor="end">Ctrl</text>
<text x="712.7" y="412.6" font-size="28" textLength="375.8" lengthAdjust="spacingAndGlyphs">CD8-Ctrl vs CD4-Ctrl (logFC)</text>
<rect x="1128.1" y="227.5" width="76.3" height="51.7" fill="#add8e6"/>
<rect x="1204.4" y="227.5" width="212.1" height="51.7" fill="#d3d3d3"/>
<rect x="1416.5" y="227.5" width="52.8" height="51.7" fill="#f8bfca"/>
<path d="M1128.1 175.6h3.2V279.2h-3.2ZM1148.4 175.6h1.8V279.2h-1.8ZM1183.8 175.6h1.8V279.2h-1.8ZM1192.2 175.6h1.8V279.2h-1.8ZM1203.4 175.6h1.8V279.2h-1.8ZM1208.1 175.6h1.8V279.2h-1.8ZM1211.2 175.6h1.8V279.2h-1.8ZM1220.1 175.6h1.8V279.2h-1.8ZM1233.7 175.6h1.8V279.2h-1.8ZM1257.3 175.6h1.8V279.2h-1.8ZM1264.3 175.6h2.2V279.2h-2.2ZM1275.3 175.6h3.5V279.2h-3.5ZM1295.2 175.6h3.6V279.2h-3.6ZM1301.9 175.6h1.8V279.2h-1.8ZM1305.2 175.6h1.8V279.2h-1.8ZM1322.1 175.6h1.8V279.2h-1.8ZM1326.1 175.6h4.8V279.2h-4.8ZM1331.9 175.6h3.7V279.2h-3.7ZM1340.3 175.6h1.8V279.2h-1.8ZM1345.1 175.6h3.5V279.2h-3.5ZM1356.2 175.6h1.8V279.2h-1.8ZM1373.2 175.6h1.8V279.2h-1.8ZM1375.5 175.6h1.8V279.2h-1.8ZM1383.2 175.6h1.8V279.2h-1.8ZM1388.9 175.6h1.8V279.2h-1.8ZM1391.5 175.6h1.8V279.2h-1.8ZM1394 175.6h2.7V279.2h-2.7ZM1398.8 175.6h1.8V279.2h-1.8ZM1403.6 175.6h1.8V279.2h-1.8ZM1409 175.6h1.8V279.2h-1.8ZM1416.8 175.6h1.8V279.2h-1.8ZM1420.1 175.6h1.8V279.2h-1.8ZM1430.5 175.6h1.8V279.2h-1.8ZM1439.6 175.6h3V279.2h-3ZM1446.2 175.6h1.8V279.2h-1.8ZM1450.9 175.6h4.9V279.2h-4.9ZM1457.5 175.6h4.2V279.2h-4.2ZM1463.4 175.6h1.8V279.2h-1.8ZM1469.3 175.6h17.6V279.2h-17.6Z" fill="#828282"/>
<path d="M1128.1 287.2H1486.9" stroke="#000" stroke-width="3.4" stroke-linecap="square"/>
<path d="M1128.1 287.2v14M1164 287.2v14M1199.9 287.2v14M1235.7 287.2v14M1271.6 287.2v14M1307.5 287.2v14M1343.4 287.2v14M1379.3 287.2v14M1415.1 287.2v14M1451 287.2v14M1486.9 287.2v14" stroke="#000" stroke-width="3.2"/>
<text transform="translate(1137.4,307.3) rotate(-90)" font-size="25" text-anchor="end">&#8722;20.37</text>
<text transform="translate(1173.3,307.3) rotate(-90)" font-size="25" text-anchor="end">&#8722;2.37</text>
<text transform="translate(1209.2,307.3) rotate(-90)" font-size="25" text-anchor="end">&#8722;1.51</text>
<text transform="translate(1245,307.3) rotate(-90)" font-size="25" text-anchor="end">&#8722;0.95</text>
<text transform="translate(1280.9,307.3) rotate(-90)" font-size="25" text-anchor="end">&#8722;0.50</text>
<text transform="translate(1316.8,307.3) rotate(-90)" font-size="25" text-anchor="end">&#8722;0.09</text>
<text transform="translate(1352.7,307.3) rotate(-90)" font-size="25" text-anchor="end">0.35</text>
<text transform="translate(1388.6,307.3) rotate(-90)" font-size="25" text-anchor="end">0.83</text>
<text transform="translate(1424.4,307.3) rotate(-90)" font-size="25" text-anchor="end">1.39</text>
<text transform="translate(1460.3,307.3) rotate(-90)" font-size="25" text-anchor="end">2.31</text>
<text transform="translate(1496.2,307.3) rotate(-90)" font-size="25" text-anchor="end">33.87</text>
<path d="M1513.5 63H1499V165.7H1513.5" stroke="#000" stroke-width="2.9" fill="none"/>
<path d="M1112 139.9H1499" stroke="#000" stroke-width="3.4" stroke-dasharray="11.5 13.5"/>
<path d="M1127.3 159.0C1135.4 158.7 1159.9 157.7 1176.0 157.3C1192.1 156.9 1209.1 157.4 1224.0 156.7C1238.9 156.0 1254.8 154.2 1265.5 152.9C1276.2 151.6 1280.4 149.8 1287.9 148.7C1295.4 147.6 1299.7 147.2 1310.3 146.5C1320.9 145.8 1339.5 144.6 1351.8 144.6C1364.0 144.6 1375.8 146.3 1383.8 146.5C1391.8 146.7 1395.0 146.6 1399.8 145.5C1404.6 144.4 1407.3 143.8 1412.6 139.8C1417.9 135.8 1424.3 128.8 1431.8 121.5C1439.3 114.2 1450.5 103.1 1457.4 95.9C1464.3 88.7 1468.6 83.8 1473.4 78.3C1478.2 72.8 1484.1 65.5 1486.2 63.0" stroke="#b21e30" stroke-width="6" fill="none" stroke-linecap="round" stroke-linejoin="round"/>
<text transform="translate(1548.5,63) rotate(-90)" font-size="24" text-anchor="middle">4</text>
<text transform="translate(1548.5,165.7) rotate(-90)" font-size="24" text-anchor="middle">0</text>
<text x="1198.3" y="56" font-size="29">Up in WT CD8<tspan font-size="15" dy="-12">+</tspan></text>
<text x="1223.3" y="91" font-size="28" font-style="italic">p = 6&#215;10<tspan font-size="19" dy="-10">-16</tspan></text>
<text x="1503.7" y="232" font-size="28">Up in</text>
<text x="1503.7" y="267" font-size="28">CD8-</text>
<text x="1503.7" y="302" font-size="28">Ctrl</text>
<text x="1121.6" y="412.5" font-size="28" textLength="375.7" lengthAdjust="spacingAndGlyphs">CD8-Ctrl vs CD4-Ctrl (logFC)</text>
<rect x="715.9" y="704.5" width="92.4" height="51.9" fill="#add8e6"/>
<rect x="808.3" y="704.5" width="192.1" height="51.9" fill="#d3d3d3"/>
<rect x="1000.4" y="704.5" width="71.9" height="51.9" fill="#f8bfca"/>
<path d="M715.9 652.9h3.4V756.4h-3.4ZM720 652.9h1.8V756.4h-1.8ZM722 652.9h4.2V756.4h-4.2ZM727 652.9h1.8V756.4h-1.8ZM732 652.9h1.8V756.4h-1.8ZM735.5 652.9h1.8V756.4h-1.8ZM750 652.9h3.6V756.4h-3.6ZM756.1 652.9h3.6V756.4h-3.6ZM761.5 652.9h1.8V756.4h-1.8ZM765.2 652.9h3.8V756.4h-3.8ZM777.2 652.9h1.8V756.4h-1.8ZM784 652.9h1.8V756.4h-1.8ZM812.1 652.9h1.8V756.4h-1.8ZM825 652.9h1.8V756.4h-1.8ZM828.3 652.9h1.8V756.4h-1.8ZM831.4 652.9h1.8V756.4h-1.8ZM835.1 652.9h1.8V756.4h-1.8ZM839.2 652.9h1.8V756.4h-1.8ZM849.6 652.9h1.8V756.4h-1.8ZM855 652.9h1.8V756.4h-1.8ZM863.6 652.9h1.8V756.4h-1.8ZM867.6 652.9h1.8V756.4h-1.8ZM873.9 652.9h1.8V756.4h-1.8ZM879.3 652.9h1.8V756.4h-1.8ZM891.3 652.9h3.8V756.4h-3.8ZM897.4 652.9h1.8V756.4h-1.8ZM902.5 652.9h1.8V756.4h-1.8ZM904.7 652.9h1.8V756.4h-1.8ZM908.8 652.9h3.2V756.4h-3.2ZM925.3 652.9h1.8V756.4h-1.8ZM928.3 652.9h1.8V756.4h-1.8ZM930.8 652.9h1.8V756.4h-1.8ZM934.4 652.9h1.8V756.4h-1.8ZM940.2 652.9h1.8V756.4h-1.8ZM961.5 652.9h1.8V756.4h-1.8ZM965.1 652.9h1.8V756.4h-1.8ZM968.3 652.9h1.8V756.4h-1.8ZM971.6 652.9h3.5V756.4h-3.5ZM976.1 652.9h1.8V756.4h-1.8ZM985 652.9h1.8V756.4h-1.8ZM989.8 652.9h1.8V756.4h-1.8ZM995.6 652.9h4V756.4h-4ZM1004.5 652.9h3.2V756.4h-3.2ZM1019.5 652.9h1.8V756.4h-1.8ZM1023.5 652.9h1.8V756.4h-1.8ZM1026.3 652.9h1.8V756.4h-1.8ZM1030.3 652.9h3.5V756.4h-3.5ZM1035.7 652.9h1.8V756.4h-1.8ZM1044.5 652.9h3.5V756.4h-3.5ZM1048.5 652.9h3.1V756.4h-3.1ZM1057.4 652.9h1.8V756.4h-1.8ZM1062.2 652.9h4.6V756.4h-4.6ZM1068.6 652.9h1.8V756.4h-1.8ZM1072.1 652.9h1.8V756.4h-1.8Z" fill="#828282"/>
<path d="M715.9 764.5H1074" stroke="#000" stroke-width="3.4" stroke-linecap="square"/>
<path d="M715.9 764.5v14M751.7 764.5v14M787.5 764.5v14M823.3 764.5v14M859.1 764.5v14M895 764.5v14M930.8 764.5v14M966.6 764.5v14M1002.4 764.5v14M1038.2 764.5v14M1074 764.5v14" stroke="#000" stroke-width="3.2"/>
<text transform="translate(725.2,785.4) rotate(-90)" font-size="25" text-anchor="end">&#8722;34.2</text>
<text transform="translate(761,785.4) rotate(-90)" font-size="25" text-anchor="end">&#8722;2.9</text>
<text transform="translate(796.8,785.4) rotate(-90)" font-size="25" text-anchor="end">&#8722;1.8</text>
<text transform="translate(832.6,785.4) rotate(-90)" font-size="25" text-anchor="end">&#8722;1.1</text>
<text transform="translate(868.4,785.4) rotate(-90)" font-size="25" text-anchor="end">&#8722;0.6</text>
<text transform="translate(904.2,785.4) rotate(-90)" font-size="25" text-anchor="end">&#8722;0.2</text>
<text transform="translate(940.1,785.4) rotate(-90)" font-size="25" text-anchor="end">0.3</text>
<text transform="translate(975.9,785.4) rotate(-90)" font-size="25" text-anchor="end">0.8</text>
<text transform="translate(1011.7,785.4) rotate(-90)" font-size="25" text-anchor="end">1.4</text>
<text transform="translate(1047.5,785.4) rotate(-90)" font-size="25" text-anchor="end">2.3</text>
<text transform="translate(1083.3,785.4) rotate(-90)" font-size="25" text-anchor="end">16.8</text>
<path d="M687.3 540H701.8V642.7H687.3" stroke="#000" stroke-width="2.9" fill="none"/>
<path d="M701.8 591.3H1088.5" stroke="#000" stroke-width="3.4" stroke-dasharray="11.5 13.5"/>
<path d="M715.8 560.0C718.7 562.5 726.7 569.7 733.1 574.9C739.5 580.1 747.0 586.1 754.0 591.3C761.0 596.5 768.4 602.7 774.9 606.3C781.4 609.9 784.8 611.3 792.8 612.8C800.8 614.3 815.2 615.2 822.7 615.2C830.2 615.2 831.6 614.3 837.6 612.8C843.6 611.3 851.5 607.6 858.5 606.3C865.5 605.0 871.4 604.7 879.4 604.8C887.4 604.9 896.8 606.9 906.3 606.9C915.8 606.9 925.6 605.9 936.1 604.8C946.6 603.7 959.5 602.5 969.0 600.3C978.5 598.0 984.8 595.5 992.8 591.3C1000.8 587.1 1008.2 580.4 1016.7 574.9C1025.2 569.4 1034.0 564.2 1043.6 558.5C1053.1 552.8 1068.9 543.6 1074.0 540.6" stroke="#2e74b5" stroke-width="6" fill="none" stroke-linecap="round" stroke-linejoin="round"/>
<text transform="translate(679.4,540) rotate(-90)" font-size="24" text-anchor="middle">2</text>
<text transform="translate(679.4,642.7) rotate(-90)" font-size="24" text-anchor="middle">0</text>
<text transform="translate(648,599.5) rotate(-90)" font-size="29" text-anchor="middle" textLength="146" lengthAdjust="spacingAndGlyphs">Enrichment</text>
<text x="772" y="515.2" font-size="29">Down in WT CD8<tspan font-size="15" dy="-12">+</tspan></text>
<text x="846.6" y="549.6" font-size="28" font-style="italic">p = 0.4</text>
<text x="643" y="709.3" font-size="28" text-anchor="middle">Down in</text>
<text x="643" y="744" font-size="28" text-anchor="middle">CD4-</text>
<text x="643" y="779.4" font-size="28" text-anchor="middle">Runx3</text>
<text x="683.9" y="878" font-size="28" textLength="414.9" lengthAdjust="spacingAndGlyphs">CD4-Runx3 vs CD8-Ctrl (logFC)</text>
<rect x="1128.1" y="708.9" width="93.2" height="51.7" fill="#add8e6"/>
<rect x="1221.3" y="708.9" width="190.6" height="51.7" fill="#d3d3d3"/>
<rect x="1411.9" y="708.9" width="75" height="51.7" fill="#f8bfca"/>
<path d="M1128.1 656.9h6.6V760.6h-6.6ZM1136.3 656.9h1.8V760.6h-1.8ZM1141.1 656.9h5.7V760.6h-5.7ZM1147.7 656.9h1.8V760.6h-1.8ZM1150.9 656.9h1.8V760.6h-1.8ZM1154.2 656.9h1.8V760.6h-1.8ZM1163.9 656.9h1.8V760.6h-1.8ZM1169.1 656.9h3.4V760.6h-3.4ZM1175.2 656.9h1.8V760.6h-1.8ZM1181.9 656.9h1.8V760.6h-1.8ZM1185.1 656.9h1.8V760.6h-1.8ZM1193.7 656.9h1.8V760.6h-1.8ZM1198.2 656.9h2.6V760.6h-2.6ZM1206 656.9h2.2V760.6h-2.2ZM1211 656.9h1.8V760.6h-1.8ZM1217 656.9h1.8V760.6h-1.8ZM1221.3 656.9h5.5V760.6h-5.5ZM1232.2 656.9h1.8V760.6h-1.8ZM1245.4 656.9h1.8V760.6h-1.8ZM1253 656.9h1.8V760.6h-1.8ZM1275.6 656.9h1.8V760.6h-1.8ZM1282 656.9h6.1V760.6h-6.1ZM1291.2 656.9h1.8V760.6h-1.8ZM1294 656.9h1.8V760.6h-1.8ZM1313.5 656.9h2.6V760.6h-2.6ZM1318.2 656.9h1.8V760.6h-1.8ZM1321.4 656.9h1.8V760.6h-1.8ZM1333.2 656.9h1.8V760.6h-1.8ZM1338.3 656.9h4.2V760.6h-4.2ZM1345.9 656.9h1.8V760.6h-1.8ZM1351.7 656.9h3V760.6h-3ZM1360.6 656.9h1.8V760.6h-1.8ZM1368 656.9h1.8V760.6h-1.8ZM1376 656.9h1.8V760.6h-1.8ZM1383.2 656.9h1.8V760.6h-1.8ZM1387.2 656.9h1.8V760.6h-1.8ZM1402.8 656.9h1.8V760.6h-1.8ZM1410.5 656.9h1.8V760.6h-1.8ZM1415.6 656.9h2.3V760.6h-2.3ZM1424.1 656.9h1.8V760.6h-1.8ZM1443.1 656.9h1.8V760.6h-1.8ZM1448.4 656.9h3.5V760.6h-3.5ZM1455 656.9h2.5V760.6h-2.5ZM1462.4 656.9h1.8V760.6h-1.8ZM1465.2 656.9h1.8V760.6h-1.8ZM1469.6 656.9h5.1V760.6h-5.1ZM1477.8 656.9h1.8V760.6h-1.8ZM1482.3 656.9h4.6V760.6h-4.6Z" fill="#828282"/>
<path d="M1128.1 768.4H1486.9" stroke="#000" stroke-width="3.4" stroke-linecap="square"/>
<path d="M1128.1 768.4v14M1164 768.4v14M1199.9 768.4v14M1235.7 768.4v14M1271.6 768.4v14M1307.5 768.4v14M1343.4 768.4v14M1379.3 768.4v14M1415.1 768.4v14M1451 768.4v14M1486.9 768.4v14" stroke="#000" stroke-width="3.2"/>
<text transform="translate(1137.4,789) rotate(-90)" font-size="25" text-anchor="end">&#8722;34.2</text>
<text transform="translate(1173.3,789) rotate(-90)" font-size="25" text-anchor="end">&#8722;2.9</text>
<text transform="translate(1209.2,789) rotate(-90)" font-size="25" text-anchor="end">&#8722;1.8</text>
<text transform="translate(1245,789) rotate(-90)" font-size="25" text-anchor="end">&#8722;1.1</text>
<text transform="translate(1280.9,789) rotate(-90)" font-size="25" text-anchor="end">&#8722;0.6</text>
<text transform="translate(1316.8,789) rotate(-90)" font-size="25" text-anchor="end">&#8722;0.2</text>
<text transform="translate(1352.7,789) rotate(-90)" font-size="25" text-anchor="end">0.3</text>
<text transform="translate(1388.6,789) rotate(-90)" font-size="25" text-anchor="end">0.8</text>
<text transform="translate(1424.4,789) rotate(-90)" font-size="25" text-anchor="end">1.4</text>
<text transform="translate(1460.3,789) rotate(-90)" font-size="25" text-anchor="end">2.3</text>
<text transform="translate(1496.2,789) rotate(-90)" font-size="25" text-anchor="end">16.8</text>
<path d="M1513 545H1498.5V647.5H1513" stroke="#000" stroke-width="2.9" fill="none"/>
<path d="M1112 594.3H1498.5" stroke="#000" stroke-width="3.4" stroke-dasharray="11.5 13.5"/>
<path d="M1128.4 544.5C1135.1 549.3 1157.0 565.1 1168.7 573.4C1180.4 581.7 1189.0 589.1 1198.5 594.3C1208.0 599.5 1216.8 602.8 1225.4 604.8C1234.0 606.8 1241.1 605.8 1250.0 606.5C1258.9 607.2 1270.7 609.3 1279.0 609.3C1287.3 609.3 1293.5 607.1 1300.0 606.5C1306.5 605.9 1311.3 605.0 1318.0 605.4C1324.7 605.8 1332.5 607.9 1340.0 609.0C1347.5 610.1 1353.5 611.1 1362.7 612.2C1372.0 613.3 1387.0 616.0 1395.5 615.8C1404.0 615.5 1405.4 614.3 1413.4 610.7C1421.4 607.1 1431.1 601.5 1443.3 594.3C1455.5 587.1 1479.4 572.0 1486.6 567.5" stroke="#b21e30" stroke-width="6" fill="none" stroke-linecap="round" stroke-linejoin="round"/>
<text transform="translate(1549.3,545) rotate(-90)" font-size="24" text-anchor="middle">1.9</text>
<text transform="translate(1549.3,647.5) rotate(-90)" font-size="24" text-anchor="middle">0</text>
<text x="1219.4" y="515.2" font-size="29">Up in WT CD8<tspan font-size="15" dy="-12">+</tspan></text>
<text x="1271.6" y="549.6" font-size="28" font-style="italic">p = 0.2</text>
<text x="1503" y="704.8" font-size="28">Up in</text>
<text x="1503" y="740.6" font-size="28">CD4-</text>
<text x="1503" y="775" font-size="28">Runx3</text>
<text x="1125.4" y="878" font-size="28" textLength="414.9" lengthAdjust="spacingAndGlyphs">CD4-Runx3 vs CD8-Ctrl (logFC)</text>
<text x="501" y="951.8" font-size="30" font-weight="bold">c</text>
<text x="500.5" y="1390.7" font-size="30" font-weight="bold">d</text>
<ellipse cx="902.0" cy="1118.0" rx="68.0" ry="52.0" transform="rotate(-12 902.0 1118.0)" fill="#c2c4cb" filter="url(#bl4)"/>
<path d="M841 1087h0M974 1136h0M1009 1085h0M831 1157h0M839 1131h0M1042 1087h0M929 1067h0M978 1085h0M969 1091h0M938 1162h0M975 1091h0M886 1188h0M1018 1154h0M820 1105h0M961 1071h0M879 1042h0M952 1186h0M1012 1116h0M918 1168h0M911 1179h0M943 1158h0M820 1111h0M855 1183h0M963 1099h0M997 1106h0M852 1045h0M835 1138h0M858 1246h0M880 1050h0M886 1069h0M913 1043h0M872 1166h0M964 1065h0M843 1161h0M989 1097h0M831 1157h0M969 1132h0M820 1085h0M892 1169h0M948 1080h0M823 1160h0M882 1167h0M920 1043h0M934 1055h0M860 1046h0M882 1182h0M886 1178h0M852 1092h0M924 1033h0M841 1093h0M850 1166h0M960 1083h0M825 1081h0M949 1066h0M876 1062h0M851 1087h0M937 1182h0M1016 1082h0M826 1120h0M876 1191h0M829 1115h0M874 1175h0M833 1127h0M928 1069h0M896 1173h0M941 1049h0M937 1175h0M847 1165h0M991 1078h0M925 1046h0M963 1139h0M885 1060h0M878 1194h0M957 1226h0M918 1169h0M855 1158h0M849 1061h0M830 1131h0M837 1131h0M954 1020h0M1005 1128h0M834 1146h0M864 1063h0M954 1069h0M865 1061h0M977 1095h0M912 1191h0M887 1062h0M963 1063h0M866 1071h0M930 1193h0M869 1070h0M842 1094h0M917 1189h0M837 1099h0M1001 1119h0M899 1172h0M951 1155h0M841 1177h0M1003 1091h0M991 1132h0M801 1128h0M978 1094h0M846 1148h0M1007 1094h0M979 1149h0M922 1209h0M970 1068h0M962 1132h0M886 1056h0M812 1053h0M884 1045h0M981 1141h0M926 1162h0M881 1071h0M868 1168h0M982 1061h0M979 1073h0M944 1160h0M827 1117h0M880 1050h0M955 1151h0M927 1170h0M829 1126h0M962 1095h0M879 1070h0M922 1069h0M939 1061h0M934 1050h0M834 1124h0M874 1020h0M890 1207h0M814 1099h0M919 1168h0M946 1159h0M911 1187h0M795 1116h0M1006 1121h0M903 1220h0M858 1171h0M798 1059h0M954 1154h0M981 1102h0M936 1059h0M957 1160h0M838 1143h0M869 1165h0M798 1161h0M923 1070h0M1035 1097h0M859 1159h0M863 1078h0M898 1056h0M855 1159h0M975 1096h0M826 1131h0M951 1156h0M953 1149h0M872 1061h0M951 1185h0M839 1107h0M869 1194h0M997 1162h0M974 1158h0M1002 1040h0M968 1148h0M895 1190h0M1001 1090h0M859 1078h0M848 1093h0M894 1063h0M767 1157h0M934 1054h0M811 1108h0M824 1165h0M873 1052h0M968 1121h0M987 1053h0M847 1071h0M840 1160h0M926 1168h0M812 1107h0M971 1138h0M956 1068h0M994 1113h0M1001 1059h0M890 1194h0M988 1023h0M947 1174h0M963 1065h0M853 1053h0M853 1077h0M866 1162h0M954 1085h0M1015 1146h0M914 1177h0M951 1174h0M836 1146h0M839 1183h0M870 1163h0M819 1133h0M838 1153h0M907 1058h0M840 1100h0M818 1105h0M908 1177h0M992 1132h0M976 1136h0M946 1153h0M928 1060h0M831 1137h0M838 1147h0M1046 1112h0M897 1064h0M810 1156h0M875 1167h0M846 1171h0M856 1168h0M966 1102h0M836 1180h0M898 1065h0M985 1135h0M879 1175h0M882 1072h0M900 1171h0M826 1109h0M843 1064h0M926 1164h0M834 1059h0M942 1153h0M908 1167h0M811 1081h0M966 1084h0M902 1181h0M823 1111h0M863 1185h0M886 1171h0M870 1076h0M976 1088h0M962 1137h0M958 1164h0M876 1173h0M935 1058h0M928 1059h0M807 1097h0M1010 1054h0M969 1120h0M897 1173h0M915 1054h0M841 1092h0M759 1160h0M941 1175h0M901 1197h0M976 1020h0M831 1156h0M866 1170h0M823 1124h0M909 1063h0M848 1166h0M926 1062h0M849 1078h0M796 1121h0M940 1177h0M882 1174h0M1013 1158h0M811 1174h0M903 1168h0M826 1087h0M972 1146h0M775 1166h0M871 1022h0M840 1171h0M1007 1169h0M971 1079h0M940 1071h0M914 1177h0M918 1175h0M937 1064h0M809 1115h0M945 1060h0M847 1172h0M824 1085h0M1025 1136h0M943 1071h0M932 1159h0M843 1099h0M967 1103h0M838 1160h0M800 1136h0M873 1168h0M897 1186h0M896 1184h0M810 1168h0M895 1170h0M925 1053h0M984 1143h0M862 1165h0M975 1053h0M1013 1077h0M834 1020h0M857 1156h0M948 1209h0M844 1091h0M913 1178h0M881 1064h0M987 1107h0M982 1076h0M967 1143h0M960 1039h0M957 1158h0M885 1068h0M884 1206h0M840 1080h0M985 1150h0M840 1073h0M810 1137h0M983 1121h0M802 1091h0M830 1128h0M898 1169h0M1017 1144h0M881 1180h0M974 1123h0M805 1114h0M963 1082h0M832 1045h0M971 1146h0M879 1201h0M807 1110h0M820 1121h0M974 1151h0M843 1061h0M837 1134h0M853 1167h0M964 1139h0M908 1172h0M980 1126h0M861 1164h0M787 1109h0M886 1183h0M969 1115h0M967 1086h0M971 1058h0M963 1089h0M894 1185h0M945 1057h0M838 1067h0M1002 1124h0M863 1172h0M863 1166h0M930 1195h0M990 1151h0M965 1099h0M938 1063h0M877 1169h0M1003 1062h0M989 1075h0M952 1046h0M842 1103h0M793 1131h0M962 1043h0M924 1068h0M893 1058h0M916 1026h0M976 1108h0M925 1183h0M917 1164h0M913 1185h0M882 1072h0M971 1131h0M802 1192h0M1001 1042h0M909 1059h0M873 1175h0M837 1101h0M826 1144h0M940 1177h0M994 1079h0M862 1192h0M953 1149h0M952 1146h0M945 1072h0M904 1197h0M887 1175h0M914 1027h0M955 1183h0M944 1158h0M929 1172h0M840 1131h0M973 1077h0M778 1139h0M961 1135h0M806 1140h0M927 1059h0M914 1189h0M800 1112h0M894 1183h0M930 1059h0M994 1088h0M860 1071h0M871 1064h0M921 1190h0M871 1175h0M820 1087h0M964 1125h0M1008 1157h0M937 1159h0M888 1022h0M942 1066h0M907 1049h0M802 1105h0M850 1081h0M847 1055h0M869 1193h0M971 1090h0M988 1115h0M847 1151h0M826 1072h0M754 1119h0M903 1171h0M800 1153h0M834 1108h0M969 1119h0M978 1083h0M871 1214h0M931 1179h0M839 1174h0M911 1176h0M889 1176h0M848 1181h0M974 1094h0M856 1157h0M868 1043h0M858 1085h0M849 1149h0M925 1171h0M782 1120h0M875 1169h0M806 1203h0M947 1179h0M925 1055h0M874 1068h0M912 1169h0M870 1042h0M945 1078h0M895 1179h0M769 1127h0M799 1104h0M868 1171h0M869 1076h0M865 1161h0M959 1049h0M910 1063h0M925 1052h0M928 1164h0M834 1155h0M981 1172h0M835 1159h0M952 1081h0M957 1060h0M922 1167h0M968 1119h0M982 1126h0M844 1209h0M825 1094h0M969 1111h0M860 1081h0M949 1071h0M850 1094h0M909 1047h0M947 1061h0M866 1078h0M983 1029h0M966 1072h0M803 1108h0M840 1154h0M948 1078h0M972 1129h0M863 1200h0M919 1064h0M979 1115h0M799 1154h0M791 1144h0M952 1082h0M930 1068h0M964 1098h0M815 1095h0M829 1134h0M938 1161h0M984 1133h0M824 1148h0M843 1092h0M896 1065h0M981 1121h0M860 1163h0M864 1165h0M890 1061h0M857 1054h0M936 1064h0M1005 1158h0M883 1054h0M986 1081h0M816 1103h0M983 1100h0M827 1062h0M964 1027h0M902 1222h0M836 1138h0M951 1045h0M907 1030h0M835 1053h0M922 1068h0M818 1116h0M831 1095h0M860 1079h0M821 1102h0M834 1050h0M897 1176h0M845 1098h0M977 1099h0M825 1132h0M836 1179h0M837 1097h0M853 1181h0M949 1072h0M965 1125h0M957 1153h0M956 1071h0M887 1193h0M995 1133h0M883 1171h0M957 1072h0M979 1081h0M888 1064h0M869 1073h0M956 1145h0M970 1041h0M935 1061h0M853 1070h0M971 1139h0M912 1173h0M929 1181h0M843 1084h0M848 1202h0M853 1188h0M965 1149h0M977 1051h0M831 1143h0M834 1127h0M909 1055h0M935 1060h0M984 1140h0M1028 1093h0M956 1160h0M892 1057h0M927 1185h0M876 1066h0M843 1145h0M973 1080h0M975 1108h0M921 1168h0M899 1063h0M923 1043h0M805 1088h0M927 1069h0M942 1179h0M915 1170h0M911 1054h0M949 1074h0M822 1125h0M817 1093h0M840 1190h0M955 1152h0M834 1136h0M884 1188h0M879 1053h0M966 1130h0M966 1052h0M903 1168h0M988 1071h0M962 1070h0M930 1165h0M908 1046h0M1009 1076h0M889 1063h0M838 1124h0M985 1172h0M999 1077h0M969 1074h0M937 1059h0M880 1058h0M970 1124h0M813 1142h0M864 1081h0M951 1076h0M851 1155h0M951 1081h0M989 1108h0M841 1096h0M849 1061h0M924 1033h0M932 1016h0M937 1064h0M840 1216h0M840 1160h0M856 1207h0M887 1190h0M920 1061h0M940 1068h0M888 1056h0M975 1099h0M990 1166h0M964 1126h0M885 1167h0M998 1039h0M966 1055h0M913 1179h0M978 1102h0M990 1126h0M804 1126h0M879 1071h0M878 1175h0M895 1189h0M869 1172h0M1012 1095h0M884 1026h0M844 1192h0M883 1181h0M859 1068h0M979 1176h0M977 1063h0M850 1184h0M990 1118h0M834 1155h0M909 1180h0M863 1046h0M963 1133h0M985 1155h0M942 1053h0M820 1198h0M945 1157h0M975 1133h0M915 1055h0M989 1112h0M858 1071h0M809 1143h0M931 1057h0M830 1162h0M970 1092h0M963 1053h0M965 1125h0M921 1063h0M833 1160h0M980 1112h0M956 1077h0M896 1175h0M912 1185h0M850 1064h0M856 1197h0M969 1138h0M956 1151h0M970 1077h0M946 1026h0M813 1089h0M838 1079h0M832 1159h0M969 1050h0M946 1163h0M841 1143h0M928 1166h0M793 1094h0M884 1068h0M960 1183h0M961 1133h0M756 1137h0M981 1137h0M1020 1096h0M827 1159h0M870 1201h0M816 1116h0M912 1057h0M930 1205h0M911 1170h0M847 1150h0M913 1183h0M908 1185h0M965 1087h0M1019 1149h0M820 1137h0M950 1081h0M837 1130h0M922 1165h0M835 1103h0M949 1149h0M866 1064h0M897 1199h0M836 1158h0M837 1067h0M853 1165h0M996 1110h0M972 1108h0M922 1173h0M825 1131h0M979 1034h0M926 1061h0M859 1060h0M845 1088h0M898 1057h0M866 1036h0M985 1048h0M991 1108h0M957 1087h0M926 1055h0M824 1136h0M897 1168h0M839 1104h0M822 1174h0M806 1089h0M933 1167h0M834 1084h0M831 1124h0M835 1174h0M847 1098h0M896 1190h0M865 1179h0M923 1197h0M972 1137h0M870 1167h0M806 1179h0M943 1073h0M940 1047h0M948 1149h0M820 1179h0M879 1202h0M838 1121h0M879 1171h0M837 1133h0M965 1135h0M982 1112h0M849 1170h0M998 1133h0M832 1118h0M846 1148h0M964 1142h0M1012 1115h0M855 1155h0M876 1165h0M770 1162h0M841 1096h0M944 1131h0M914 1052h0M935 1069h0M913 1066h0M893 1092h0M956 1082h0M931 1075h0M901 1127h0M911 1092h0M906 1074h0M943 1044h0M944 1092h0M972 1043h0M954 1092h0M964 993h0M948 1029h0M919 1064h0M933 1046h0M939 1055h0M910 1103h0M934 996h0M908 1058h0M971 1070h0M890 1068h0M933 1087h0M975 1032h0M934 1100h0M969 1023h0M957 1013h0M906 1099h0M958 1044h0M933 1077h0M962 1048h0M958 1087h0M936 1052h0M962 1099h0M929 1083h0M935 1067h0M946 1039h0M942 1063h0M959 1018h0M936 1084h0M983 1024h0M994 1056h0M924 1071h0M932 1103h0M958 1096h0M859 1088h0M906 1065h0M903 1110h0M879 1115h0M927 1008h0M953 1075h0M972 1045h0M884 1126h0M893 1092h0M936 1079h0M920 1093h0M939 1040h0M906 1039h0M912 1078h0M980 1033h0M936 1115h0M937 1072h0M929 1035h0M920 1019h0M936 1058h0M926 1063h0M972 1045h0M907 1093h0M967 1038h0M912 1074h0M937 1047h0M909 1069h0M899 1095h0M929 1028h0M932 1019h0M945 1025h0M931 1113h0M875 1093h0M984 1052h0M921 1051h0M925 1077h0M940 1051h0M919 1090h0M979 1073h0M910 1076h0M931 1056h0M978 1014h0M934 1060h0M962 1058h0M939 1091h0M946 1062h0M895 1069h0M996 1035h0M913 1035h0M945 1055h0M976 1025h0M992 1067h0M923 1069h0M940 1093h0M943 1099h0M919 1075h0M942 1052h0M914 1060h0M943 1063h0M936 1077h0M985 1011h0M942 1025h0M911 1085h0M926 1054h0M926 1091h0M894 1106h0M961 1042h0M896 1025h0M922 1080h0M930 1063h0M924 1067h0M956 1032h0M916 1073h0M914 1081h0M932 1073h0M951 1083h0M945 1040h0M926 1075h0M951 1068h0M926 1060h0M867 1065h0M941 1045h0M897 1086h0M947 1044h0M919 1081h0M977 1043h0M969 1089h0M947 1074h0M921 1033h0M906 1098h0M916 1076h0M936 1052h0M969 1040h0M983 1019h0M950 1062h0M973 1060h0M962 1054h0M920 1050h0M954 1049h0M965 1051h0M915 1067h0M986 1073h0M885 1079h0M907 1036h0M939 1087h0M933 1089h0M948 1034h0M968 1025h0M934 1031h0M948 1093h0M972 1075h0M919 1110h0M912 1127h0M837 1211h0M838 1200h0M884 1185h0M876 1156h0M852 1156h0M865 1185h0M874 1152h0M838 1172h0M855 1185h0M842 1246h0M893 1159h0M841 1211h0M838 1193h0M913 1173h0M827 1179h0M845 1225h0M875 1181h0M870 1167h0M888 1223h0M870 1157h0M895 1198h0M824 1221h0M875 1186h0M885 1182h0M836 1217h0M860 1167h0M900 1196h0M876 1182h0M839 1218h0M902 1183h0M864 1174h0M874 1166h0M847 1198h0M872 1174h0M849 1226h0M886 1159h0M888 1180h0M824 1205h0M913 1163h0M872 1218h0M851 1167h0M874 1184h0M895 1160h0M878 1184h0M876 1158h0M873 1209h0M862 1191h0M875 1153h0M864 1194h0M883 1168h0M848 1179h0M870 1175h0M830 1238h0M831 1231h0M888 1155h0M836 1161h0M840 1209h0M916 1197h0M882 1161h0M892 1162h0M872 1148h0M864 1182h0M875 1188h0M862 1158h0M903 1159h0M863 1195h0M857 1194h0M856 1189h0M861 1162h0M833 1202h0M885 1187h0M856 1174h0M864 1205h0M869 1169h0M827 1175h0M826 1180h0M835 1188h0M865 1161h0M864 1193h0M849 1184h0M860 1166h0M876 1153h0M882 1175h0M864 1170h0M884 1208h0M875 1189h0M873 1164h0M822 1199h0M889 1215h0M871 1182h0" stroke="#c3c5cc" stroke-width="3" stroke-linecap="round" fill="none"/>
<g fill="#2c3a91" stroke="#3d4c9e" stroke-width="0.8"><circle cx="801.0" cy="1068.6" r="5.2"/><circle cx="781.9" cy="1107.9" r="5.2"/><circle cx="806.3" cy="1107.0" r="5.2"/><circle cx="814.8" cy="1107.0" r="5.2"/><circle cx="823.3" cy="1107.9" r="5.2"/><circle cx="837.1" cy="1096.3" r="5.2"/><circle cx="762.7" cy="1125.8" r="5.2"/><circle cx="778.7" cy="1139.2" r="5.2"/><circle cx="789.3" cy="1146.3" r="5.2"/><circle cx="763.8" cy="1166.0" r="5.2"/><circle cx="764.9" cy="1170.4" r="5.2"/><circle cx="731.9" cy="1179.3" r="5.2"/><circle cx="743.6" cy="1185.6" r="5.2"/><circle cx="748.9" cy="1189.2" r="5.2"/><circle cx="759.6" cy="1192.7" r="5.2"/><circle cx="743.6" cy="1208.8" r="5.2"/><circle cx="775.5" cy="1223.1" r="5.2"/><circle cx="787.2" cy="1208.8" r="5.2"/><circle cx="789.3" cy="1204.3" r="5.2"/><circle cx="802.0" cy="1213.3" r="5.2"/><circle cx="816.9" cy="1204.3" r="5.2"/><circle cx="823.3" cy="1215.1" r="5.2"/><circle cx="828.6" cy="1197.2" r="5.2"/><circle cx="804.2" cy="1191.0" r="5.2"/><circle cx="785.0" cy="1183.8" r="5.2"/><circle cx="778.7" cy="1174.9" r="5.2"/><circle cx="795.7" cy="1180.2" r="5.2"/><circle cx="833.9" cy="1182.0" r="5.2"/><circle cx="821.2" cy="1178.5" r="5.2"/><circle cx="840.3" cy="1161.5" r="5.2"/><circle cx="833.9" cy="1167.7" r="5.2"/><circle cx="810.5" cy="1166.0" r="5.2"/><circle cx="798.9" cy="1166.0" r="5.2"/><circle cx="809.5" cy="1161.7" r="5.2"/><circle cx="831.1" cy="1178.7" r="5.2"/><circle cx="821.6" cy="1179.5" r="5.2"/><circle cx="836.1" cy="1133.6" r="5.2"/><circle cx="839.1" cy="1145.7" r="5.2"/><circle cx="827.9" cy="1143.5" r="5.2"/><circle cx="814.7" cy="1137.9" r="5.2"/><circle cx="808.6" cy="1147.7" r="5.2"/><circle cx="831.4" cy="1136.9" r="5.2"/><circle cx="818.5" cy="1101.0" r="5.2"/><circle cx="824.0" cy="1149.5" r="5.2"/><circle cx="825.1" cy="1148.2" r="5.2"/><circle cx="818.8" cy="1146.1" r="5.2"/><circle cx="846.9" cy="1135.1" r="5.2"/><circle cx="825.3" cy="1126.9" r="5.2"/><circle cx="846.8" cy="1139.5" r="5.2"/><circle cx="816.0" cy="1096.3" r="5.2"/><circle cx="806.2" cy="1148.3" r="5.2"/><circle cx="831.1" cy="1097.4" r="5.2"/><circle cx="812.2" cy="1184.0" r="5.2"/><circle cx="831.0" cy="1147.2" r="5.2"/><circle cx="818.8" cy="1131.7" r="5.2"/><circle cx="825.9" cy="1133.6" r="5.2"/><circle cx="818.2" cy="1117.0" r="5.2"/><circle cx="840.9" cy="1135.9" r="5.2"/><circle cx="818.0" cy="1126.9" r="5.2"/><circle cx="828.9" cy="1156.8" r="5.2"/><circle cx="817.9" cy="1121.3" r="5.2"/><circle cx="822.2" cy="1145.2" r="5.2"/><circle cx="825.8" cy="1139.4" r="5.2"/><circle cx="823.3" cy="1173.5" r="5.2"/><circle cx="843.7" cy="1132.5" r="5.2"/><circle cx="813.0" cy="1123.3" r="5.2"/><circle cx="826.9" cy="1138.3" r="5.2"/><circle cx="835.5" cy="1097.1" r="5.2"/><circle cx="829.7" cy="1110.0" r="5.2"/><circle cx="848.5" cy="1153.4" r="5.2"/><circle cx="817.2" cy="1126.3" r="5.2"/><circle cx="803.3" cy="1147.0" r="5.2"/><circle cx="838.4" cy="1118.3" r="5.2"/><circle cx="830.0" cy="1171.8" r="5.2"/><circle cx="850.7" cy="1125.2" r="5.2"/><circle cx="832.2" cy="1129.0" r="5.2"/><circle cx="803.2" cy="1167.7" r="5.2"/><circle cx="809.1" cy="1107.2" r="5.2"/><circle cx="813.6" cy="1144.9" r="5.2"/><circle cx="820.3" cy="1129.5" r="5.2"/><circle cx="829.1" cy="1133.5" r="5.2"/><circle cx="808.5" cy="1197.2" r="5.2"/><circle cx="825.2" cy="1134.1" r="5.2"/><circle cx="837.7" cy="1138.8" r="5.2"/><circle cx="816.1" cy="1133.0" r="5.2"/><circle cx="805.1" cy="1160.4" r="5.2"/><circle cx="811.5" cy="1135.8" r="5.2"/><circle cx="847.7" cy="1121.9" r="5.2"/></g>
<g fill="#de2a2d" stroke="#b9353b" stroke-width="0.8"><circle cx="1031.4" cy="969.5" r="5.2"/><circle cx="1010.2" cy="1007.0" r="5.2"/><circle cx="1012.3" cy="1013.2" r="5.2"/><circle cx="982.6" cy="1018.6" r="5.2"/><circle cx="991.1" cy="1032.0" r="5.2"/><circle cx="996.4" cy="1039.1" r="5.2"/><circle cx="987.9" cy="1044.5" r="5.2"/><circle cx="977.3" cy="1040.9" r="5.2"/><circle cx="1020.8" cy="1044.5" r="5.2"/><circle cx="1025.1" cy="1049.0" r="5.2"/><circle cx="987.9" cy="1058.8" r="5.2"/><circle cx="995.3" cy="1058.8" r="5.2"/><circle cx="1001.7" cy="1057.0" r="5.2"/><circle cx="1014.4" cy="1063.3" r="5.2"/><circle cx="1021.9" cy="1065.9" r="5.2"/><circle cx="989.0" cy="1076.6" r="5.2"/><circle cx="991.1" cy="1089.2" r="5.2"/><circle cx="998.5" cy="1103.4" r="5.2"/><circle cx="951.8" cy="1103.4" r="5.2"/><circle cx="938.0" cy="1103.4" r="5.2"/><circle cx="1009.1" cy="1125.8" r="5.2"/><circle cx="993.2" cy="1143.6" r="5.2"/><circle cx="961.3" cy="1166.0" r="5.2"/><circle cx="972.0" cy="1174.9" r="5.2"/><circle cx="995.3" cy="1176.7" r="5.2"/><circle cx="963.5" cy="1208.8" r="5.2"/><circle cx="956.0" cy="1130.2" r="5.2"/><circle cx="953.9" cy="1162.4" r="5.2"/><circle cx="982.6" cy="1157.0" r="5.2"/><circle cx="976.2" cy="1155.2" r="5.2"/><circle cx="971.8" cy="1095.9" r="5.2"/><circle cx="966.3" cy="1110.0" r="5.2"/><circle cx="962.7" cy="1150.7" r="5.2"/><circle cx="956.9" cy="1127.2" r="5.2"/><circle cx="969.9" cy="1087.1" r="5.2"/><circle cx="971.8" cy="1068.8" r="5.2"/><circle cx="962.6" cy="1079.1" r="5.2"/><circle cx="977.0" cy="1100.9" r="5.2"/><circle cx="971.5" cy="1104.2" r="5.2"/><circle cx="954.3" cy="1098.3" r="5.2"/><circle cx="959.3" cy="1098.5" r="5.2"/><circle cx="961.6" cy="1094.2" r="5.2"/><circle cx="950.9" cy="1058.0" r="5.2"/><circle cx="973.2" cy="1108.0" r="5.2"/><circle cx="958.7" cy="1100.7" r="5.2"/><circle cx="968.8" cy="1092.1" r="5.2"/><circle cx="967.1" cy="1141.2" r="5.2"/><circle cx="957.3" cy="1073.2" r="5.2"/><circle cx="966.1" cy="1132.0" r="5.2"/><circle cx="959.0" cy="1130.5" r="5.2"/><circle cx="958.0" cy="1076.5" r="5.2"/><circle cx="963.1" cy="1077.5" r="5.2"/><circle cx="965.7" cy="1132.0" r="5.2"/><circle cx="960.3" cy="1053.1" r="5.2"/><circle cx="959.6" cy="1122.6" r="5.2"/><circle cx="972.5" cy="1098.9" r="5.2"/><circle cx="964.5" cy="1070.1" r="5.2"/><circle cx="953.1" cy="1092.0" r="5.2"/><circle cx="957.7" cy="1130.1" r="5.2"/><circle cx="959.2" cy="1076.6" r="5.2"/><circle cx="963.6" cy="1139.2" r="5.2"/><circle cx="957.3" cy="1068.8" r="5.2"/><circle cx="971.2" cy="1123.6" r="5.2"/><circle cx="980.3" cy="1108.4" r="5.2"/><circle cx="956.8" cy="1103.6" r="5.2"/><circle cx="970.6" cy="1067.0" r="5.2"/><circle cx="971.2" cy="1109.7" r="5.2"/><circle cx="960.9" cy="1131.3" r="5.2"/><circle cx="964.0" cy="1113.3" r="5.2"/><circle cx="966.1" cy="1127.4" r="5.2"/><circle cx="961.2" cy="1119.3" r="5.2"/><circle cx="956.7" cy="1125.6" r="5.2"/><circle cx="957.9" cy="1125.6" r="5.2"/><circle cx="968.2" cy="1098.7" r="5.2"/><circle cx="955.9" cy="1090.0" r="5.2"/><circle cx="966.4" cy="1070.1" r="5.2"/><circle cx="963.3" cy="1105.2" r="5.2"/><circle cx="960.0" cy="1098.1" r="5.2"/><circle cx="967.7" cy="1097.1" r="5.2"/><circle cx="962.9" cy="1088.9" r="5.2"/><circle cx="965.1" cy="1095.6" r="5.2"/><circle cx="958.4" cy="1096.4" r="5.2"/><circle cx="958.0" cy="1118.5" r="5.2"/><circle cx="965.6" cy="1056.5" r="5.2"/><circle cx="971.0" cy="1100.7" r="5.2"/><circle cx="963.4" cy="1080.0" r="5.2"/><circle cx="973.5" cy="1075.1" r="5.2"/><circle cx="963.3" cy="1096.8" r="5.2"/><circle cx="962.4" cy="1106.8" r="5.2"/><circle cx="959.0" cy="1106.0" r="5.2"/><circle cx="950.5" cy="1126.0" r="5.2"/><circle cx="967.3" cy="1120.2" r="5.2"/><circle cx="968.0" cy="1127.9" r="5.2"/><circle cx="962.1" cy="1092.4" r="5.2"/><circle cx="957.8" cy="1115.8" r="5.2"/><circle cx="980.6" cy="1115.1" r="5.2"/><circle cx="959.9" cy="1112.8" r="5.2"/><circle cx="964.7" cy="1101.3" r="5.2"/><circle cx="970.9" cy="1084.1" r="5.2"/><circle cx="961.9" cy="1108.2" r="5.2"/></g>
<rect x="698.3" y="1123.3" width="184.7" height="158.2" fill="#5ea3d6" fill-opacity="0.24"/>
<rect x="887" y="972.9" width="185.4" height="148.4" fill="#ef9fb0" fill-opacity="0.16"/>
<path d="M699.8 1165.4L1075.6 1080.7" stroke="#1e9a5c" stroke-width="3.4" fill="none"/>
<path d="M887 969V1279.5M701.3 1121.3H1075.6" stroke="#111" stroke-width="3.2" stroke-linecap="round" stroke-dasharray="0 16.2" fill="none"/>
<path d="M698.3 962.4V1281.5H1075.6" stroke="#505050" stroke-width="3" fill="none"/>
<path d="M689.3 1255.2H698.3M727.7 1281.5V1291.5M689.3 1210.6H698.3M780.8 1281.5V1291.5M689.3 1166H698.3M833.9 1281.5V1291.5M689.3 1121.3H698.3M887 1281.5V1291.5M689.3 1076.6H698.3M940.1 1281.5V1291.5M689.3 1032H698.3M993.2 1281.5V1291.5M689.3 987.3H698.3M1046.3 1281.5V1291.5" stroke="#505050" stroke-width="1.8" fill="none"/>
<text x="686.3" y="1263.8" font-size="24.5" text-anchor="end">&#8722;15</text>
<text x="735.3" y="1316" font-size="24.5" text-anchor="end">&#8722;15</text>
<text x="686.3" y="1219.2" font-size="24.5" text-anchor="end">&#8722;10</text>
<text x="796.4" y="1316" font-size="24.5" text-anchor="end">&#8722;10</text>
<text x="686.3" y="1174.5" font-size="24.5" text-anchor="end">&#8722;5</text>
<text x="840.7" y="1316" font-size="24.5" text-anchor="end">&#8722;5</text>
<text x="686.3" y="1129.9" font-size="24.5" text-anchor="end">0</text>
<text x="892.3" y="1316" font-size="24.5" text-anchor="end">0</text>
<text x="686.3" y="1085.2" font-size="24.5" text-anchor="end">5</text>
<text x="945.9" y="1316" font-size="24.5" text-anchor="end">5</text>
<text x="686.3" y="1040.6" font-size="24.5" text-anchor="end">10</text>
<text x="1006.8" y="1316" font-size="24.5" text-anchor="end">10</text>
<text x="686.3" y="995.9" font-size="24.5" text-anchor="end">15</text>
<text x="1059.9" y="1316" font-size="24.5" text-anchor="end">15</text>
<text transform="translate(632.7,1121.5) rotate(-90)" font-size="29" text-anchor="middle" textLength="270" lengthAdjust="spacingAndGlyphs">CD8-Ctrl vs CD4-Ctrl</text>
<ellipse cx="1402.0" cy="1124.0" rx="62.0" ry="55.0" transform="rotate(-3 1402.0 1124.0)" fill="#c2c4cb" filter="url(#bl4)"/>
<path d="M1342 1136h0M1394 1192h0M1343 1107h0M1454 1191h0M1476 1145h0M1461 1147h0M1490 1150h0M1503 1111h0M1442 1183h0M1381 1028h0M1463 1113h0M1376 1073h0M1480 1132h0M1349 1168h0M1433 1174h0M1371 1170h0M1298 1144h0M1298 1141h0M1453 1195h0M1397 1042h0M1459 1134h0M1552 1102h0M1373 1185h0M1429 1076h0M1344 1134h0M1399 1215h0M1384 1199h0M1389 1213h0M1337 1122h0M1373 1073h0M1464 1178h0M1296 1171h0M1346 1108h0M1494 1073h0M1323 1086h0M1468 1127h0M1462 1083h0M1473 1071h0M1329 1113h0M1460 1098h0M1345 1114h0M1376 1176h0M1380 1179h0M1403 1069h0M1424 1205h0M1337 1127h0M1336 1083h0M1448 1066h0M1371 1077h0M1339 1176h0M1446 1160h0M1431 1080h0M1479 1143h0M1454 1072h0M1361 1173h0M1452 1068h0M1427 1198h0M1439 1173h0M1455 1155h0M1341 1118h0M1439 1077h0M1463 1105h0M1345 1088h0M1452 1159h0M1317 1064h0M1469 1105h0M1420 1208h0M1318 1071h0M1473 1115h0M1378 1206h0M1350 1094h0M1335 1134h0M1432 1066h0M1480 1034h0M1360 1160h0M1468 1102h0M1459 1158h0M1374 1173h0M1405 1192h0M1465 1117h0M1389 1195h0M1361 1085h0M1384 1064h0M1369 1082h0M1457 1079h0M1320 1191h0M1462 1170h0M1321 1077h0M1458 1058h0M1461 1087h0M1330 1107h0M1441 1061h0M1488 1159h0M1448 1055h0M1306 1050h0M1420 1064h0M1329 1118h0M1361 1058h0M1440 1185h0M1472 1041h0M1341 1103h0M1399 1054h0M1279 1110h0M1366 1205h0M1365 1076h0M1426 1072h0M1475 1120h0M1318 1160h0M1485 1100h0M1314 1139h0M1410 1066h0M1483 1113h0M1431 1169h0M1348 1225h0M1440 1213h0M1453 1093h0M1489 1166h0M1350 1090h0M1407 1198h0M1483 1095h0M1480 1138h0M1327 1158h0M1316 1160h0M1384 1189h0M1352 1209h0M1397 1202h0M1400 1184h0M1449 1159h0M1394 1048h0M1292 1172h0M1319 1179h0M1529 1047h0M1369 1052h0M1402 1188h0M1420 1209h0M1362 1059h0M1379 1074h0M1343 1146h0M1396 1054h0M1444 1160h0M1469 1185h0M1373 1021h0M1426 1066h0M1465 1115h0M1459 1110h0M1392 1061h0M1369 1037h0M1465 1115h0M1484 1060h0M1468 1097h0M1372 1178h0M1335 1118h0M1429 1170h0M1432 1173h0M1338 1217h0M1338 1129h0M1507 1069h0M1498 1130h0M1487 1175h0M1346 1142h0M1343 1142h0M1357 1081h0M1436 1197h0M1487 1150h0M1332 1150h0M1499 1152h0M1453 1155h0M1341 1107h0M1413 1051h0M1404 1072h0M1344 1127h0M1483 1106h0M1341 1122h0M1509 1124h0M1351 1098h0M1433 1080h0M1439 1184h0M1433 1024h0M1373 1192h0M1331 1177h0M1404 1068h0M1457 1174h0M1371 1018h0M1445 1166h0M1415 1189h0M1397 1060h0M1306 1083h0M1372 1077h0M1453 1085h0M1434 1172h0M1385 1198h0M1457 1183h0M1338 1098h0M1343 1125h0M1424 1066h0M1379 1190h0M1446 1090h0M1446 1161h0M1465 1204h0M1423 1201h0M1468 1164h0M1349 1144h0M1350 1095h0M1316 1108h0M1350 1151h0M1376 1207h0M1446 1078h0M1339 1166h0M1335 1098h0M1404 1043h0M1491 1135h0M1361 1052h0M1477 1088h0M1430 1047h0M1432 1074h0M1370 1171h0M1310 1151h0M1334 1119h0M1318 1199h0M1326 1117h0M1345 1078h0M1329 1182h0M1491 1113h0M1359 1193h0M1371 1182h0M1347 1158h0M1347 1100h0M1347 1078h0M1321 1129h0M1469 1009h0M1337 1155h0M1343 1106h0M1355 1181h0M1393 1047h0M1389 1178h0M1361 1185h0M1279 1169h0M1486 1151h0M1499 1202h0M1325 1150h0M1313 1141h0M1369 1076h0M1382 1061h0M1484 1137h0M1420 1225h0M1487 1084h0M1318 1130h0M1338 1135h0M1467 1120h0M1380 1174h0M1423 1068h0M1358 1184h0M1323 1122h0M1339 1079h0M1457 1106h0M1344 1157h0M1443 1162h0M1440 1072h0M1341 1124h0M1403 1069h0M1416 1055h0M1413 1194h0M1483 1103h0M1456 1083h0M1360 1080h0M1403 1185h0M1351 1169h0M1431 1177h0M1444 1201h0M1473 1117h0M1337 1149h0M1360 1181h0M1460 1139h0M1310 1101h0M1373 1181h0M1387 1064h0M1462 1144h0M1355 1092h0M1394 1194h0M1333 1118h0M1482 1135h0M1455 1088h0M1417 1175h0M1342 1182h0M1400 1175h0M1402 1189h0M1345 1106h0M1464 1118h0M1374 1171h0M1465 1084h0M1430 1064h0M1378 1068h0M1422 1177h0M1473 1206h0M1514 1064h0M1425 1179h0M1342 1149h0M1428 1059h0M1365 1074h0M1387 1050h0M1420 1062h0M1416 1176h0M1426 1190h0M1363 1169h0M1457 1102h0M1454 1064h0M1331 1172h0M1497 1082h0M1400 1052h0M1355 1169h0M1386 1044h0M1351 1181h0M1467 1101h0M1334 1112h0M1486 1087h0M1332 1116h0M1361 1078h0M1348 1077h0M1453 1152h0M1326 1158h0M1465 1160h0M1356 1173h0M1412 1047h0M1409 1177h0M1399 1045h0M1332 1079h0M1343 1179h0M1364 1190h0M1463 1163h0M1299 1128h0M1434 1179h0M1321 1127h0M1473 1160h0M1329 1115h0M1359 1192h0M1386 980h0M1372 1184h0M1487 1158h0M1379 1041h0M1463 1087h0M1379 1059h0M1398 1180h0M1350 1094h0M1443 1178h0M1327 1080h0M1368 1057h0M1438 1078h0M1499 1073h0M1447 1088h0M1511 1066h0M1472 1048h0M1311 1037h0M1451 1078h0M1324 1179h0M1402 1179h0M1414 1183h0M1338 1109h0M1466 1122h0M1441 1170h0M1465 1092h0M1481 1149h0M1463 1162h0M1409 1178h0M1388 1072h0M1451 1191h0M1332 1138h0M1523 1221h0M1320 1127h0M1451 1195h0M1348 1169h0M1346 1093h0M1423 1183h0M1477 1118h0M1408 1054h0M1479 1084h0M1412 1069h0M1369 1182h0M1469 1132h0M1408 1192h0M1346 1166h0M1317 1126h0M1316 1127h0M1388 1179h0M1381 1067h0M1424 1171h0M1442 1054h0M1452 1056h0M1338 1082h0M1336 1070h0M1392 1177h0M1390 1066h0M1447 1060h0M1428 1180h0M1312 1100h0M1366 1210h0M1348 1068h0M1349 1092h0M1420 1177h0M1314 1156h0M1344 1092h0M1501 1186h0M1373 1073h0M1431 1196h0M1436 1082h0M1431 1182h0M1460 1103h0M1416 1055h0M1405 1206h0M1326 1141h0M1433 1183h0M1471 1120h0M1467 1136h0M1462 1162h0M1336 1101h0M1338 1147h0M1360 1165h0M1360 1045h0M1455 1148h0M1440 1164h0M1371 1193h0M1455 1185h0M1315 1133h0M1422 1064h0M1500 1090h0M1361 1082h0M1436 1051h0M1372 1188h0M1348 1105h0M1325 1151h0M1353 1078h0M1488 1081h0M1361 1194h0M1447 1178h0M1463 1096h0M1360 1030h0M1460 1068h0M1396 1211h0M1363 1199h0M1369 1186h0M1408 1186h0M1369 1061h0M1411 1176h0M1407 1067h0M1463 1123h0M1438 1212h0M1458 1136h0M1370 1056h0M1444 1074h0M1495 1110h0M1420 1184h0M1457 1107h0M1479 1083h0M1468 1131h0M1472 1075h0M1312 1109h0M1354 1159h0M1351 1035h0M1327 1115h0M1439 1038h0M1378 1031h0M1383 1053h0M1345 1137h0M1478 1119h0M1437 1169h0M1330 1092h0M1419 1067h0M1350 1222h0M1413 1181h0M1497 1076h0M1467 1114h0M1483 1087h0M1372 1074h0M1425 1067h0M1408 1066h0M1460 1103h0M1354 1087h0M1445 1077h0M1330 1066h0M1405 1185h0M1403 1186h0M1399 1069h0M1439 1183h0M1349 1080h0M1460 1121h0M1391 1056h0M1453 1161h0M1356 1157h0M1355 1084h0M1445 1035h0M1401 1073h0M1461 1027h0M1507 1161h0M1471 1096h0M1406 1062h0M1377 1172h0M1407 1198h0M1285 1151h0M1469 1169h0M1352 1098h0M1404 1190h0M1456 1153h0M1344 1140h0M1382 1175h0M1386 1180h0M1454 1100h0M1392 1069h0M1404 1072h0M1416 1050h0M1372 1063h0M1369 1064h0M1433 1061h0M1349 1151h0M1322 1100h0M1483 1119h0M1464 1120h0M1472 1118h0M1435 1175h0M1491 1079h0M1331 1071h0M1433 1208h0M1472 1142h0M1286 1167h0M1495 1124h0M1348 1167h0M1412 1200h0M1420 1062h0M1441 1172h0M1442 1074h0M1379 1061h0M1393 1213h0M1419 1185h0M1336 1160h0M1475 1130h0M1339 1074h0M1444 1068h0M1409 1175h0M1494 1182h0M1409 1021h0M1396 1244h0M1442 1067h0M1447 1211h0M1416 1191h0M1440 1081h0M1335 1138h0M1431 1046h0M1331 1190h0M1378 1073h0M1401 1193h0M1465 1121h0M1487 1185h0M1321 1182h0M1301 1116h0M1388 1063h0M1342 1148h0M1369 1074h0M1470 1142h0M1299 1177h0M1486 1095h0M1409 1185h0M1427 1062h0M1490 1103h0M1454 1098h0M1465 1090h0M1379 1060h0M1314 1163h0M1363 1179h0M1424 1042h0M1326 1111h0M1395 1061h0M1285 1101h0M1395 1057h0M1304 1085h0M1451 1079h0M1471 1139h0M1372 1071h0M1345 1135h0M1487 1129h0M1353 1154h0M1503 1062h0M1365 1066h0M1453 1198h0M1437 1051h0M1484 1134h0M1349 1096h0M1408 1177h0M1379 1064h0M1368 1192h0M1420 1174h0M1384 1187h0M1503 1103h0M1427 1171h0M1329 1107h0M1357 1056h0M1463 1086h0M1467 1195h0M1421 1072h0M1326 1108h0M1432 1179h0M1462 1127h0M1308 1054h0M1364 1063h0M1368 1080h0M1326 1143h0M1391 1051h0M1465 1080h0M1436 1024h0M1413 1184h0M1421 1194h0M1411 1043h0M1391 1212h0M1357 1077h0M1365 1048h0M1318 1126h0M1464 1097h0M1398 1200h0M1452 1090h0M1512 1083h0M1454 1166h0M1413 1180h0M1402 1063h0M1487 1130h0M1309 1130h0M1355 1157h0M1354 1084h0M1418 1067h0M1322 1133h0M1366 1178h0M1362 1079h0M1464 1152h0M1355 1163h0M1345 1092h0M1344 1095h0M1402 1182h0M1340 1109h0M1325 1180h0M1462 1126h0M1477 1061h0M1340 1105h0M1408 1053h0M1451 1091h0M1319 1158h0M1337 1121h0M1465 1148h0M1368 1067h0M1445 1159h0M1433 1076h0M1404 1186h0M1345 1171h0M1414 1055h0M1496 1120h0M1442 1063h0M1343 1119h0M1338 1193h0M1365 1192h0M1520 1079h0M1476 1052h0M1323 1082h0M1293 1086h0M1353 1165h0M1333 1154h0M1396 1036h0M1503 1115h0M1428 1203h0M1460 1089h0M1481 1137h0M1369 1169h0M1429 1066h0M1481 1110h0M1332 1114h0M1473 1117h0M1457 1180h0M1354 1071h0M1354 1156h0M1326 1055h0M1464 1143h0M1422 1189h0M1339 1144h0M1486 1195h0M1447 1163h0M1476 1128h0M1391 1052h0M1496 1140h0M1460 1142h0M1454 1079h0M1401 1057h0M1309 1129h0M1461 1108h0M1360 1078h0M1329 1168h0M1328 1131h0M1486 1110h0M1373 1041h0M1342 1135h0M1375 1072h0M1452 1095h0M1329 1075h0M1335 1096h0M1490 1095h0M1486 1126h0M1385 1193h0M1465 1138h0M1486 1085h0M1461 1232h0M1413 1183h0M1305 1148h0M1475 1112h0M1340 1166h0M1369 1183h0M1475 1117h0M1313 1103h0M1410 1205h0M1336 1176h0M1425 1061h0M1339 1091h0M1271 1146h0M1467 1068h0M1335 1062h0M1347 1144h0M1352 1056h0M1429 1172h0M1402 1056h0M1437 1201h0M1465 1090h0M1450 1084h0M1467 1084h0M1419 1176h0M1507 1145h0M1402 1048h0M1354 1069h0M1422 1067h0M1465 1096h0M1387 1057h0M1336 1127h0M1398 1073h0M1342 1188h0M1340 1101h0M1468 1088h0M1484 1079h0M1448 1207h0M1487 1161h0M1346 1109h0M1462 1189h0M1333 1094h0M1317 1121h0M1386 1054h0M1321 1111h0M1426 1183h0M1467 1101h0M1422 1069h0M1339 1123h0M1464 1147h0M1466 1123h0M1449 1068h0M1392 1188h0M1372 1193h0M1375 1073h0M1437 1033h0M1432 1169h0M1353 1084h0M1331 1194h0M1371 1041h0M1307 1138h0M1363 1063h0M1319 1144h0M1511 1144h0M1453 1170h0M1421 1068h0M1472 1122h0M1424 1039h0M1336 1098h0M1500 1136h0M1322 1226h0M1350 1150h0M1448 1165h0M1297 1160h0M1392 1005h0M1438 1075h0M1301 1157h0M1396 1185h0M1465 1163h0M1474 1156h0M1510 1135h0M1418 1060h0M1393 1056h0M1487 1175h0M1301 1172h0M1451 1089h0M1351 1080h0M1322 1132h0M1480 1123h0M1392 1202h0M1404 1072h0M1421 1202h0M1472 1181h0M1315 1124h0M1332 1111h0M1322 1126h0M1522 1121h0M1415 1203h0M1295 1117h0M1348 1059h0M1482 1108h0M1280 1116h0M1355 1181h0M1470 1159h0M1293 1119h0M1401 1069h0M1378 1042h0M1422 1182h0M1419 1180h0M1292 1169h0M1471 1085h0M1448 1160h0M1352 1087h0M1492 1128h0M1286 1111h0M1480 1205h0M1406 1212h0M1461 1163h0M1455 1069h0M1395 1057h0M1328 1093h0M1474 1128h0M1390 1185h0M1331 1116h0M1323 1108h0M1459 1097h0M1438 1165h0M1456 1142h0M1332 1154h0M1308 1157h0M1391 1000h0M1418 1196h0M1409 1192h0M1442 1086h0M1414 1195h0M1339 1184h0M1353 1083h0M1465 1078h0M1452 1158h0M1326 1051h0M1473 1101h0M1384 1061h0M1340 1095h0M1444 1185h0M1381 1208h0M1461 1117h0M1463 1147h0M1291 1143h0M1349 1199h0M1416 1223h0M1333 1143h0M1334 1115h0M1369 1176h0M1358 1080h0M1417 1190h0M1398 1073h0M1330 1146h0M1509 1059h0M1458 1175h0M1374 1177h0M1454 1163h0M1462 1198h0M1460 1103h0M1446 1190h0M1365 1080h0M1472 1146h0M1444 1170h0M1344 1097h0M1334 1083h0M1520 1099h0M1315 1156h0M1342 1131h0M1453 1092h0M1413 1060h0M1430 1175h0M1337 1149h0M1429 1177h0M1321 1149h0M1325 1119h0M1349 1170h0M1371 1077h0M1344 1132h0M1472 1044h0M1351 1186h0M1349 1166h0M1349 1095h0M1403 1035h0M1345 1146h0M1320 1127h0M1430 1067h0M1443 1222h0M1493 1150h0M1417 1209h0M1365 1066h0M1486 1096h0M1336 1101h0M1461 1175h0M1395 1055h0M1433 1058h0M1463 1092h0M1406 1000h0M1408 1058h0M1400 1038h0M1463 1038h0M1390 1061h0M1409 1022h0M1393 1031h0M1403 1110h0M1425 1071h0M1424 1021h0M1403 1061h0M1425 1041h0M1382 1046h0M1398 1020h0M1384 1135h0M1375 1072h0M1453 1027h0M1426 1073h0M1447 1050h0M1409 1012h0M1368 1067h0M1409 1047h0M1384 1059h0M1457 1038h0M1434 999h0M1353 1072h0M1393 1069h0M1409 1057h0M1403 1060h0M1430 1034h0M1465 1028h0M1377 1029h0M1462 1032h0M1424 1077h0M1413 1131h0M1390 1036h0M1414 1077h0M1459 1055h0M1381 1042h0M1398 1058h0M1374 1040h0M1423 1095h0M1366 1071h0M1442 1036h0M1446 1048h0M1449 1042h0M1373 1098h0M1420 1072h0M1416 1097h0M1442 1056h0M1422 1073h0M1440 1038h0M1411 1045h0M1394 1094h0M1437 1051h0M1444 1012h0M1381 1062h0M1367 1021h0M1399 1044h0M1395 1047h0M1416 1023h0M1451 1067h0M1430 1039h0M1374 1041h0M1463 1006h0M1409 1072h0M1410 1041h0M1395 1047h0M1406 1094h0M1460 1065h0M1422 1077h0M1392 1045h0M1384 1067h0M1419 999h0M1387 1021h0M1424 1043h0M1406 1061h0M1416 1058h0M1394 1065h0M1398 1037h0M1460 1008h0M1380 1032h0M1381 1119h0M1370 1061h0M1426 1077h0M1445 1020h0M1404 1050h0M1389 1073h0M1424 1056h0M1382 1030h0M1460 1019h0M1434 1093h0M1432 1083h0M1436 1025h0M1424 1090h0M1423 1024h0M1418 1059h0M1451 1067h0M1395 1023h0M1434 983h0M1378 1054h0M1385 1038h0M1367 1023h0M1363 1100h0M1389 1043h0M1442 1045h0M1464 1047h0M1396 1055h0M1397 1033h0M1402 1021h0M1390 1100h0M1394 1057h0M1421 1059h0M1416 1066h0M1383 1073h0M1412 1055h0M1355 1054h0M1437 1053h0M1408 1057h0M1379 1063h0M1406 1116h0M1425 997h0M1451 1034h0M1375 1052h0M1438 1059h0M1408 1085h0M1450 1107h0M1398 1038h0M1434 1110h0M1406 1019h0M1390 1035h0M1424 1001h0M1376 1053h0M1383 1030h0M1442 1040h0M1434 1074h0M1462 1058h0M1384 1033h0M1428 1118h0M1386 1173h0M1314 1230h0M1372 1209h0M1332 1250h0M1360 1214h0M1370 1218h0M1359 1214h0M1358 1226h0M1342 1219h0M1342 1187h0M1325 1194h0M1327 1231h0M1361 1228h0M1353 1206h0M1438 1165h0M1335 1221h0M1361 1221h0M1386 1180h0M1358 1159h0M1367 1194h0M1360 1197h0M1370 1167h0M1380 1182h0M1398 1196h0M1345 1207h0M1351 1174h0M1382 1140h0M1359 1177h0M1376 1178h0M1369 1218h0M1391 1180h0M1371 1156h0M1400 1183h0M1395 1165h0M1378 1179h0M1332 1220h0M1407 1178h0M1327 1191h0M1315 1210h0M1348 1192h0M1440 1166h0M1374 1215h0M1401 1224h0M1354 1164h0M1354 1218h0M1417 1171h0M1341 1158h0M1335 1183h0M1396 1204h0M1373 1179h0M1371 1193h0M1332 1179h0M1352 1205h0M1378 1160h0M1399 1192h0M1388 1163h0M1350 1224h0M1363 1232h0M1363 1232h0M1387 1178h0M1373 1157h0M1349 1205h0M1355 1187h0M1364 1165h0M1350 1180h0M1380 1146h0M1371 1222h0M1383 1181h0M1343 1214h0M1394 1175h0M1394 1153h0M1405 1195h0M1385 1190h0M1312 1189h0M1376 1132h0M1362 1229h0M1360 1203h0M1363 1166h0M1355 1211h0M1344 1181h0M1335 1216h0M1354 1205h0M1393 1171h0M1345 1171h0M1370 1208h0M1330 1224h0M1384 1149h0M1383 1215h0M1392 1186h0M1330 1219h0M1370 1184h0M1378 1201h0M1344 1230h0M1373 1195h0M1391 1180h0M1354 1212h0M1375 1238h0M1412 1157h0M1360 1173h0M1357 1226h0M1375 1187h0M1368 1184h0M1358 1221h0M1404 1197h0M1329 1186h0M1366 1178h0M1332 1207h0M1345 1159h0M1350 1204h0M1358 1170h0" stroke="#c3c5cc" stroke-width="3" stroke-linecap="round" fill="none"/>
<g fill="#2c3a91" stroke="#3d4c9e" stroke-width="0.8"><circle cx="1264.4" cy="995.0" r="5.2"/><circle cx="1334.4" cy="1018.2" r="5.2"/><circle cx="1300.5" cy="1028.9" r="5.2"/><circle cx="1323.8" cy="1042.3" r="5.2"/><circle cx="1320.6" cy="1063.8" r="5.2"/><circle cx="1303.7" cy="1069.1" r="5.2"/><circle cx="1323.8" cy="1075.4" r="5.2"/><circle cx="1282.4" cy="1076.3" r="5.2"/><circle cx="1286.7" cy="1076.3" r="5.2"/><circle cx="1289.9" cy="1080.7" r="5.2"/><circle cx="1246.4" cy="1087.0" r="5.2"/><circle cx="1306.8" cy="1088.8" r="5.2"/><circle cx="1251.7" cy="1102.2" r="5.2"/><circle cx="1234.7" cy="1112.0" r="5.2"/><circle cx="1264.4" cy="1124.5" r="5.2"/><circle cx="1269.7" cy="1127.2" r="5.2"/><circle cx="1269.7" cy="1141.5" r="5.2"/><circle cx="1278.2" cy="1160.2" r="5.2"/><circle cx="1288.8" cy="1131.6" r="5.2"/><circle cx="1288.8" cy="1147.7" r="5.2"/><circle cx="1297.3" cy="1140.6" r="5.2"/><circle cx="1299.4" cy="1106.6" r="5.2"/><circle cx="1334.4" cy="1192.4" r="5.2"/><circle cx="1322.8" cy="1179.0" r="5.2"/><circle cx="1341.9" cy="1156.6" r="5.2"/><circle cx="1341.9" cy="1104.8" r="5.2"/><circle cx="1325.9" cy="1176.3" r="5.2"/><circle cx="1320.6" cy="1169.1" r="5.2"/><circle cx="1313.2" cy="1160.2" r="5.2"/><circle cx="1331.2" cy="1175.0" r="5.2"/><circle cx="1317.7" cy="1131.7" r="5.2"/><circle cx="1341.6" cy="1133.3" r="5.2"/><circle cx="1308.3" cy="1126.1" r="5.2"/><circle cx="1313.2" cy="1104.9" r="5.2"/><circle cx="1323.2" cy="1092.1" r="5.2"/><circle cx="1324.6" cy="1157.2" r="5.2"/><circle cx="1310.3" cy="1141.8" r="5.2"/><circle cx="1330.7" cy="1105.8" r="5.2"/><circle cx="1328.8" cy="1150.6" r="5.2"/><circle cx="1331.3" cy="1166.8" r="5.2"/><circle cx="1331.3" cy="1150.8" r="5.2"/><circle cx="1341.8" cy="1110.4" r="5.2"/><circle cx="1329.8" cy="1157.1" r="5.2"/><circle cx="1331.8" cy="1124.9" r="5.2"/><circle cx="1320.1" cy="1147.9" r="5.2"/><circle cx="1339.4" cy="1142.7" r="5.2"/><circle cx="1330.6" cy="1101.1" r="5.2"/><circle cx="1310.2" cy="1091.9" r="5.2"/><circle cx="1336.7" cy="1148.4" r="5.2"/><circle cx="1315.8" cy="1161.7" r="5.2"/><circle cx="1335.9" cy="1193.1" r="5.2"/><circle cx="1335.8" cy="1129.5" r="5.2"/><circle cx="1318.7" cy="1145.2" r="5.2"/><circle cx="1322.0" cy="1138.8" r="5.2"/><circle cx="1335.4" cy="1152.8" r="5.2"/><circle cx="1337.6" cy="1110.5" r="5.2"/><circle cx="1323.3" cy="1119.2" r="5.2"/><circle cx="1320.2" cy="1132.1" r="5.2"/><circle cx="1331.2" cy="1088.4" r="5.2"/><circle cx="1325.4" cy="1136.9" r="5.2"/><circle cx="1326.3" cy="1137.7" r="5.2"/><circle cx="1314.5" cy="1089.8" r="5.2"/><circle cx="1319.3" cy="1147.0" r="5.2"/><circle cx="1318.4" cy="1117.4" r="5.2"/><circle cx="1357.4" cy="1062.9" r="5.2"/><circle cx="1336.4" cy="1125.3" r="5.2"/><circle cx="1325.7" cy="1156.8" r="5.2"/><circle cx="1333.8" cy="1135.5" r="5.2"/><circle cx="1348.1" cy="1139.8" r="5.2"/><circle cx="1315.2" cy="1176.2" r="5.2"/><circle cx="1307.0" cy="1119.1" r="5.2"/><circle cx="1329.6" cy="1160.2" r="5.2"/><circle cx="1309.6" cy="1126.8" r="5.2"/><circle cx="1322.2" cy="1128.1" r="5.2"/><circle cx="1325.8" cy="1151.7" r="5.2"/><circle cx="1307.4" cy="1130.3" r="5.2"/><circle cx="1327.0" cy="1129.1" r="5.2"/><circle cx="1336.0" cy="1111.7" r="5.2"/><circle cx="1320.7" cy="1119.7" r="5.2"/><circle cx="1302.7" cy="1117.5" r="5.2"/><circle cx="1325.6" cy="1109.6" r="5.2"/><circle cx="1336.5" cy="1155.4" r="5.2"/><circle cx="1324.6" cy="1107.2" r="5.2"/><circle cx="1320.1" cy="1131.7" r="5.2"/></g>
<g fill="#de2a2d" stroke="#b9353b" stroke-width="0.8"><circle cx="1536.0" cy="1006.6" r="5.2"/><circle cx="1496.8" cy="1030.7" r="5.2"/><circle cx="1474.5" cy="1041.4" r="5.2"/><circle cx="1479.8" cy="1053.0" r="5.2"/><circle cx="1487.2" cy="1053.9" r="5.2"/><circle cx="1442.6" cy="1060.2" r="5.2"/><circle cx="1458.6" cy="1070.0" r="5.2"/><circle cx="1468.1" cy="1070.0" r="5.2"/><circle cx="1511.6" cy="1087.0" r="5.2"/><circle cx="1520.1" cy="1095.9" r="5.2"/><circle cx="1516.9" cy="1106.6" r="5.2"/><circle cx="1512.7" cy="1117.3" r="5.2"/><circle cx="1527.5" cy="1131.6" r="5.2"/><circle cx="1516.9" cy="1124.5" r="5.2"/><circle cx="1495.7" cy="1204.9" r="5.2"/><circle cx="1494.6" cy="1224.5" r="5.2"/><circle cx="1466.0" cy="1252.2" r="5.2"/><circle cx="1458.6" cy="1164.7" r="5.2"/><circle cx="1463.9" cy="1170.0" r="5.2"/><circle cx="1476.6" cy="1180.7" r="5.2"/><circle cx="1487.2" cy="1170.0" r="5.2"/><circle cx="1490.4" cy="1154.0" r="5.2"/><circle cx="1501.0" cy="1085.2" r="5.2"/><circle cx="1493.6" cy="1094.1" r="5.2"/><circle cx="1497.8" cy="1120.9" r="5.2"/><circle cx="1466.9" cy="1106.2" r="5.2"/><circle cx="1476.6" cy="1139.3" r="5.2"/><circle cx="1458.2" cy="1172.0" r="5.2"/><circle cx="1482.5" cy="1130.5" r="5.2"/><circle cx="1466.0" cy="1132.3" r="5.2"/><circle cx="1463.6" cy="1104.0" r="5.2"/><circle cx="1480.1" cy="1172.5" r="5.2"/><circle cx="1473.1" cy="1117.5" r="5.2"/><circle cx="1470.0" cy="1117.5" r="5.2"/><circle cx="1491.4" cy="1112.5" r="5.2"/><circle cx="1486.3" cy="1096.1" r="5.2"/><circle cx="1457.2" cy="1078.2" r="5.2"/><circle cx="1475.7" cy="1126.6" r="5.2"/><circle cx="1482.5" cy="1067.3" r="5.2"/><circle cx="1465.0" cy="1135.9" r="5.2"/><circle cx="1477.3" cy="1161.7" r="5.2"/><circle cx="1461.5" cy="1118.7" r="5.2"/><circle cx="1481.6" cy="1107.1" r="5.2"/><circle cx="1482.5" cy="1094.3" r="5.2"/><circle cx="1468.8" cy="1128.1" r="5.2"/><circle cx="1470.1" cy="1127.6" r="5.2"/><circle cx="1485.5" cy="1099.5" r="5.2"/><circle cx="1451.3" cy="1108.5" r="5.2"/><circle cx="1462.1" cy="1146.2" r="5.2"/><circle cx="1487.4" cy="1088.6" r="5.2"/><circle cx="1486.2" cy="1103.9" r="5.2"/><circle cx="1493.1" cy="1146.8" r="5.2"/><circle cx="1482.5" cy="1135.8" r="5.2"/><circle cx="1466.9" cy="1158.6" r="5.2"/><circle cx="1490.0" cy="1077.8" r="5.2"/><circle cx="1483.0" cy="1133.6" r="5.2"/><circle cx="1475.5" cy="1144.9" r="5.2"/><circle cx="1470.7" cy="1083.9" r="5.2"/><circle cx="1491.0" cy="1103.8" r="5.2"/><circle cx="1482.0" cy="1122.6" r="5.2"/><circle cx="1477.5" cy="1123.6" r="5.2"/><circle cx="1478.8" cy="1134.7" r="5.2"/><circle cx="1484.4" cy="1125.2" r="5.2"/><circle cx="1475.8" cy="1122.8" r="5.2"/><circle cx="1490.2" cy="1098.1" r="5.2"/><circle cx="1465.0" cy="1142.0" r="5.2"/><circle cx="1479.8" cy="1117.1" r="5.2"/><circle cx="1471.0" cy="1114.5" r="5.2"/><circle cx="1491.5" cy="1121.7" r="5.2"/><circle cx="1489.1" cy="1131.2" r="5.2"/><circle cx="1471.1" cy="1112.3" r="5.2"/><circle cx="1472.8" cy="1131.4" r="5.2"/><circle cx="1462.1" cy="1127.6" r="5.2"/><circle cx="1469.2" cy="1119.7" r="5.2"/><circle cx="1484.9" cy="1107.4" r="5.2"/><circle cx="1486.1" cy="1114.6" r="5.2"/><circle cx="1478.5" cy="1104.7" r="5.2"/><circle cx="1481.4" cy="1095.6" r="5.2"/><circle cx="1467.7" cy="1109.4" r="5.2"/><circle cx="1475.8" cy="1090.6" r="5.2"/><circle cx="1482.8" cy="1132.9" r="5.2"/><circle cx="1478.2" cy="1102.7" r="5.2"/><circle cx="1474.3" cy="1089.8" r="5.2"/><circle cx="1476.5" cy="1149.4" r="5.2"/><circle cx="1477.0" cy="1101.0" r="5.2"/><circle cx="1465.0" cy="1103.0" r="5.2"/><circle cx="1444.0" cy="1071.7" r="5.2"/><circle cx="1458.6" cy="1130.8" r="5.2"/><circle cx="1470.2" cy="1152.7" r="5.2"/><circle cx="1476.9" cy="1141.1" r="5.2"/></g>
<rect x="1200.9" y="1124.7" width="185.7" height="157.9" fill="#5ea3d6" fill-opacity="0.24"/>
<rect x="1389.6" y="970" width="184.4" height="152.7" fill="#ef9fb0" fill-opacity="0.16"/>
<path d="M1202.4 1133L1579.4 1109.1" stroke="#1e9a5c" stroke-width="3.4" fill="none"/>
<path d="M1389.6 970V1280.6M1203.9 1122.7H1579.4" stroke="#111" stroke-width="3.2" stroke-linecap="round" stroke-dasharray="0 16.2" fill="none"/>
<path d="M1200.9 963.1V1282.6H1579.4" stroke="#505050" stroke-width="3" fill="none"/>
<path d="M1191.9 1256.7H1200.9M1230.4 1282.6V1292.6M1191.9 1212H1200.9M1283.5 1282.6V1292.6M1191.9 1167.4H1200.9M1336.5 1282.6V1292.6M1191.9 1122.7H1200.9M1389.6 1282.6V1292.6M1191.9 1078H1200.9M1442.6 1282.6V1292.6M1191.9 1033.4H1200.9M1495.7 1282.6V1292.6M1191.9 988.8H1200.9M1548.8 1282.6V1292.6" stroke="#505050" stroke-width="1.8" fill="none"/>
<text x="1188.9" y="1265.2" font-size="24.5" text-anchor="end">&#8722;15</text>
<text x="1238.1" y="1317.1" font-size="24.5" text-anchor="end">&#8722;15</text>
<text x="1188.9" y="1220.6" font-size="24.5" text-anchor="end">&#8722;10</text>
<text x="1299.1" y="1317.1" font-size="24.5" text-anchor="end">&#8722;10</text>
<text x="1188.9" y="1176" font-size="24.5" text-anchor="end">&#8722;5</text>
<text x="1343.4" y="1317.1" font-size="24.5" text-anchor="end">&#8722;5</text>
<text x="1188.9" y="1131.3" font-size="24.5" text-anchor="end">0</text>
<text x="1394.9" y="1317.1" font-size="24.5" text-anchor="end">0</text>
<text x="1188.9" y="1086.6" font-size="24.5" text-anchor="end">5</text>
<text x="1448.5" y="1317.1" font-size="24.5" text-anchor="end">5</text>
<text x="1188.9" y="1042" font-size="24.5" text-anchor="end">10</text>
<text x="1509.3" y="1317.1" font-size="24.5" text-anchor="end">10</text>
<text x="1188.9" y="997.4" font-size="24.5" text-anchor="end">15</text>
<text x="1562.4" y="1317.1" font-size="24.5" text-anchor="end">15</text>
<text transform="translate(1130.8,1133) rotate(-90)" font-size="29" text-anchor="middle" textLength="310" lengthAdjust="spacingAndGlyphs">CD8-Ctrl vs CD4-Runx3</text>
<path d="M692 1351.5H930M1340 1352.5H1576.5" stroke="#111" stroke-width="2.2"/>
<text x="954" y="1360.5" font-size="29">WT CD8<tspan font-size="15" dy="-12">+</tspan><tspan dy="12"> vs </tspan><tspan font-style="italic">Tgfbr2</tspan><tspan font-size="15" dy="-12">-/-</tspan><tspan dy="12"> (logFC)</tspan></text>
<circle cx="1628.7" cy="1045.8" r="8.6" fill="#3a4fa0" stroke="#5a6aae" stroke-width="1"/>
<circle cx="1628.7" cy="1096.5" r="8.6" fill="#e02a2e" stroke="#b84a50" stroke-width="1"/>
<text x="1657.7" y="1055.7" font-size="29">Down in WT CD8<tspan font-size="15" dy="-12">+</tspan></text>
<text x="1657.7" y="1106.4" font-size="29">Up in WT CD8<tspan font-size="15" dy="-12">+</tspan></text>
<rect x="1617.1" y="1167.6" width="29.6" height="26.1" rx="3" fill="#a8c8e4"/>
<rect x="1617.1" y="1218" width="29.6" height="25.5" rx="3" fill="#fad4dc"/>
<text x="1662.6" y="1185.6" font-size="29">Down in CD8-Ctrl</text>
<text x="1662.6" y="1241.2" font-size="29">Up in CD8-Ctrl</text>
<ellipse cx="763.4" cy="1603.5" rx="86.0" ry="40.0" transform="rotate(-50 763.4 1603.5)" fill="#bfc4cd" filter="url(#bl4)"/>
<path d="M809 1616h0M819 1536h0M828 1585h0M850 1563h0M827 1512h0M733 1574h0M700 1649h0M808 1512h0M683 1580h0M699 1660h0M753 1687h0M835 1547h0M804 1497h0M709 1732h0M834 1549h0M810 1482h0M810 1645h0M704 1664h0M767 1541h0M686 1607h0M693 1628h0M718 1711h0M837 1576h0M745 1667h0M709 1592h0M739 1565h0M830 1550h0M815 1597h0M792 1629h0M705 1572h0M771 1650h0M835 1546h0M773 1703h0M835 1549h0M794 1627h0M758 1553h0M668 1644h0M711 1670h0M788 1531h0M700 1632h0M697 1616h0M808 1636h0M760 1519h0M780 1671h0M860 1549h0M798 1636h0M841 1602h0M832 1537h0M801 1535h0M705 1696h0M746 1555h0M750 1549h0M809 1513h0M847 1543h0M730 1578h0M735 1669h0M837 1550h0M830 1588h0M751 1540h0M736 1554h0M681 1684h0M823 1500h0M698 1640h0M742 1567h0M739 1568h0M833 1536h0M693 1652h0M728 1583h0M627 1704h0M723 1582h0M745 1678h0M704 1640h0M778 1538h0M742 1561h0M772 1527h0M710 1668h0M841 1566h0M806 1619h0M824 1591h0M690 1638h0M733 1676h0M807 1609h0M691 1657h0M770 1673h0M752 1670h0M788 1532h0M814 1528h0M738 1678h0M748 1560h0M742 1684h0M730 1670h0M832 1601h0M690 1651h0M764 1674h0M709 1609h0M680 1614h0M731 1715h0M790 1639h0M700 1638h0M743 1552h0M792 1525h0M717 1678h0M740 1671h0M710 1598h0M709 1598h0M695 1633h0M785 1644h0M772 1532h0M736 1678h0M773 1541h0M715 1693h0M829 1506h0M719 1670h0M655 1660h0M790 1514h0M825 1561h0M692 1696h0M832 1570h0M859 1526h0M722 1676h0M849 1537h0M711 1677h0M700 1636h0M701 1664h0M678 1639h0M798 1639h0M705 1659h0M816 1528h0M660 1621h0M680 1660h0M683 1612h0M762 1665h0M804 1620h0M862 1535h0M719 1713h0M695 1664h0M713 1559h0M757 1551h0M787 1530h0M832 1544h0M736 1550h0M756 1690h0M750 1672h0M697 1715h0M689 1619h0M737 1535h0M793 1636h0M692 1694h0M840 1493h0M807 1665h0M862 1559h0M769 1652h0M704 1592h0M699 1671h0M712 1602h0M709 1679h0M691 1634h0M675 1637h0M818 1624h0M813 1518h0M772 1665h0M712 1712h0M814 1612h0M824 1600h0M694 1675h0M835 1482h0M814 1597h0M726 1671h0M704 1681h0M667 1711h0M757 1555h0M787 1529h0M733 1563h0M639 1712h0M677 1724h0M691 1659h0M699 1671h0M828 1569h0M817 1594h0M696 1601h0M846 1544h0M740 1558h0M821 1530h0M697 1726h0M843 1568h0M841 1552h0M730 1565h0M777 1541h0M700 1619h0M810 1607h0M846 1567h0M782 1532h0M816 1495h0M712 1611h0M835 1559h0M809 1615h0M826 1497h0M820 1483h0M795 1525h0M857 1568h0M747 1668h0M686 1665h0M688 1667h0M728 1684h0M676 1707h0M697 1648h0M834 1523h0M657 1702h0M710 1614h0M725 1563h0M821 1526h0M653 1705h0M867 1542h0M731 1574h0M816 1627h0M826 1531h0M789 1654h0M814 1617h0M780 1507h0M674 1663h0M758 1669h0M686 1671h0M788 1533h0M809 1506h0M677 1647h0M691 1645h0M713 1680h0M784 1521h0M671 1747h0M787 1635h0M699 1603h0M721 1704h0M702 1624h0M706 1683h0M826 1527h0M855 1502h0M722 1674h0M683 1614h0M846 1493h0M670 1683h0M790 1643h0M832 1500h0M835 1490h0M791 1529h0M693 1680h0M824 1543h0M804 1616h0M679 1579h0M729 1685h0M749 1697h0M736 1553h0M693 1670h0M667 1732h0M689 1616h0M734 1688h0M731 1690h0M832 1566h0M670 1673h0M818 1611h0M708 1688h0M777 1540h0M808 1606h0M763 1528h0M721 1562h0M851 1526h0M751 1540h0M710 1687h0M722 1672h0M717 1591h0M693 1561h0M711 1601h0M770 1651h0M849 1498h0M705 1684h0M646 1703h0M824 1555h0M654 1647h0M717 1561h0M806 1617h0M746 1669h0M701 1661h0M685 1663h0M751 1548h0M810 1537h0M844 1530h0M697 1694h0M766 1550h0M796 1640h0M736 1563h0M669 1637h0M740 1560h0M807 1466h0M660 1662h0M824 1547h0M715 1676h0M840 1545h0M801 1531h0M831 1465h0M704 1681h0M794 1638h0M797 1635h0M820 1545h0M719 1698h0M738 1682h0M709 1677h0M790 1508h0M693 1607h0M837 1571h0M758 1550h0M693 1634h0M756 1544h0M674 1627h0M812 1531h0M713 1682h0M819 1661h0M718 1682h0M726 1559h0M744 1568h0M700 1645h0M711 1700h0M693 1658h0M805 1517h0M705 1659h0M700 1652h0M696 1606h0M831 1540h0M754 1670h0M746 1564h0M753 1553h0M711 1585h0M678 1621h0M684 1698h0M795 1535h0M742 1545h0M820 1537h0M795 1526h0M778 1646h0M681 1627h0M809 1520h0M718 1674h0M786 1662h0M729 1559h0M698 1640h0M723 1691h0M738 1682h0M710 1678h0M722 1595h0M855 1500h0M722 1588h0M825 1545h0M704 1612h0M694 1700h0M795 1508h0M793 1644h0M701 1613h0M844 1505h0M788 1510h0M837 1554h0M801 1530h0M826 1521h0M808 1537h0M823 1563h0M720 1682h0M814 1620h0M688 1622h0M809 1610h0M728 1581h0M698 1582h0M746 1686h0M730 1536h0M743 1685h0M839 1510h0M768 1666h0M698 1647h0M748 1676h0M720 1522h0M791 1630h0M681 1654h0M823 1575h0M715 1594h0M711 1687h0M709 1676h0M707 1714h0M772 1701h0M819 1542h0M730 1687h0M687 1667h0M752 1553h0M761 1660h0M752 1539h0M744 1540h0M697 1603h0M826 1536h0M851 1565h0M853 1551h0M789 1640h0M820 1513h0M681 1584h0M810 1615h0M739 1681h0M804 1508h0M738 1708h0M700 1628h0M679 1674h0M813 1529h0M703 1684h0M699 1580h0M769 1523h0M842 1615h0M681 1725h0M709 1669h0M830 1577h0M787 1533h0M798 1530h0M745 1675h0M802 1522h0M694 1663h0M755 1545h0M741 1545h0M838 1516h0M700 1636h0M682 1658h0M849 1594h0M772 1545h0M687 1678h0M738 1694h0M680 1584h0M791 1631h0M703 1668h0M807 1614h0M855 1526h0M807 1635h0M744 1712h0M708 1702h0M816 1620h0M825 1590h0M716 1605h0M707 1662h0M678 1632h0M708 1608h0M794 1517h0M713 1673h0M825 1550h0M751 1667h0M755 1548h0M827 1581h0M831 1552h0M793 1645h0M695 1633h0M880 1510h0M741 1536h0M720 1589h0M810 1622h0M695 1644h0M650 1700h0M818 1614h0M789 1535h0M750 1551h0M800 1655h0M840 1591h0M810 1613h0M911 1520h0M844 1549h0M858 1515h0M739 1565h0M708 1674h0M843 1520h0M660 1681h0M716 1578h0M702 1668h0M775 1537h0M704 1638h0M736 1563h0M713 1681h0M711 1688h0M713 1689h0M854 1564h0M880 1504h0M862 1496h0M691 1654h0M814 1493h0M790 1529h0M765 1655h0M822 1515h0M679 1683h0M756 1665h0M653 1708h0M738 1569h0M699 1700h0M754 1663h0M743 1557h0M829 1462h0M824 1567h0M774 1647h0M839 1515h0M848 1522h0M837 1575h0M702 1616h0M787 1680h0M723 1563h0M823 1624h0M828 1487h0M738 1557h0M810 1604h0M720 1595h0M849 1522h0M686 1613h0M662 1632h0M806 1514h0M698 1670h0M821 1543h0M815 1600h0M785 1646h0M849 1543h0M814 1531h0M721 1712h0M820 1526h0M823 1525h0M827 1629h0M867 1496h0M714 1605h0M732 1560h0M737 1545h0M802 1633h0M703 1643h0M737 1701h0M731 1539h0M693 1658h0M706 1625h0M711 1693h0M799 1513h0M691 1615h0M816 1636h0M728 1586h0M828 1560h0M678 1675h0M690 1616h0M836 1550h0M766 1676h0M730 1674h0M811 1615h0M831 1580h0M694 1615h0M710 1613h0M724 1578h0M835 1544h0M743 1668h0M851 1515h0M829 1536h0M865 1528h0M805 1611h0M690 1699h0M751 1561h0M833 1500h0M699 1683h0M760 1677h0M747 1565h0M848 1543h0M696 1679h0M795 1640h0M712 1604h0M715 1566h0M787 1636h0M658 1676h0M679 1679h0M727 1690h0M707 1712h0M705 1668h0M841 1520h0M772 1650h0M829 1586h0M715 1714h0M790 1637h0M835 1530h0M811 1626h0M695 1663h0M838 1558h0M795 1523h0M830 1558h0M828 1616h0M733 1685h0M700 1635h0M763 1663h0M836 1575h0M705 1664h0M760 1541h0M691 1629h0M783 1689h0M850 1599h0M830 1560h0M744 1556h0M750 1686h0M761 1553h0M694 1652h0M699 1674h0M706 1626h0M731 1672h0M796 1534h0M886 1505h0M716 1695h0M693 1638h0M774 1576h0M781 1622h0M748 1597h0M802 1585h0M731 1643h0M776 1598h0M736 1592h0M742 1622h0M747 1598h0M761 1601h0M764 1581h0M777 1595h0M714 1616h0M766 1629h0M744 1613h0M818 1492h0M715 1657h0M765 1552h0M786 1615h0M854 1528h0M760 1575h0M740 1613h0M737 1626h0M765 1577h0M778 1570h0M711 1627h0M796 1528h0M801 1609h0M743 1611h0M755 1574h0M746 1717h0M732 1556h0M821 1564h0M721 1588h0M802 1618h0M841 1608h0M785 1608h0M749 1593h0M698 1622h0M775 1520h0M773 1602h0M800 1603h0M737 1581h0M744 1634h0M747 1612h0M706 1606h0M776 1660h0M716 1631h0M689 1607h0M787 1620h0M723 1585h0M797 1585h0M776 1565h0M753 1600h0M762 1570h0M781 1677h0M799 1562h0M805 1573h0M734 1576h0" stroke="#c0c7d2" stroke-width="3" stroke-linecap="round" fill="none"/>
<g fill="#f4a61e" stroke="#c08a2c" stroke-width="1.1"><circle cx="804.5" cy="1455.1" r="5.8"/><circle cx="861.7" cy="1490.6" r="5.8"/><circle cx="867.1" cy="1511.5" r="5.8"/><circle cx="873.3" cy="1525.4" r="5.8"/><circle cx="910.9" cy="1568.8" r="5.8"/><circle cx="672.2" cy="1549.7" r="5.8"/><circle cx="791.1" cy="1510.6" r="5.8"/><circle cx="821.5" cy="1507.1" r="5.8"/><circle cx="822.4" cy="1519.3" r="5.8"/><circle cx="834.0" cy="1519.3" r="5.8"/><circle cx="706.2" cy="1564.4" r="5.8"/><circle cx="698.1" cy="1583.5" r="5.8"/><circle cx="849.2" cy="1564.4" r="5.8"/><circle cx="848.3" cy="1580.9" r="5.8"/><circle cx="666.8" cy="1638.2" r="5.8"/><circle cx="657.9" cy="1651.2" r="5.8"/><circle cx="674.0" cy="1659.0" r="5.8"/><circle cx="681.1" cy="1657.3" r="5.8"/><circle cx="677.5" cy="1680.7" r="5.8"/><circle cx="692.7" cy="1675.5" r="5.8"/><circle cx="704.4" cy="1686.8" r="5.8"/><circle cx="672.2" cy="1712.0" r="5.8"/><circle cx="675.8" cy="1709.4" r="5.8"/><circle cx="674.9" cy="1716.3" r="5.8"/><circle cx="754.4" cy="1722.4" r="5.8"/><circle cx="773.2" cy="1739.8" r="5.8"/><circle cx="751.7" cy="1680.7" r="5.8"/><circle cx="751.7" cy="1688.5" r="5.8"/><circle cx="765.2" cy="1692.9" r="5.8"/><circle cx="798.2" cy="1666.0" r="5.8"/><circle cx="800.9" cy="1639.1" r="5.8"/><circle cx="768.7" cy="1659.0" r="5.8"/><circle cx="737.4" cy="1667.7" r="5.8"/><circle cx="831.3" cy="1620.8" r="5.8"/><circle cx="845.6" cy="1608.7" r="5.8"/><circle cx="835.8" cy="1589.6" r="5.8"/><circle cx="833.1" cy="1603.5" r="5.8"/><circle cx="826.8" cy="1613.9" r="5.8"/><circle cx="817.9" cy="1597.4" r="5.8"/><circle cx="825.1" cy="1581.8" r="5.8"/><circle cx="831.3" cy="1563.6" r="5.8"/><circle cx="833.1" cy="1549.7" r="5.8"/><circle cx="821.5" cy="1543.6" r="5.8"/><circle cx="817.9" cy="1537.5" r="5.8"/><circle cx="801.8" cy="1530.6" r="5.8"/><circle cx="808.1" cy="1550.5" r="5.8"/><circle cx="691.9" cy="1620.8" r="5.8"/><circle cx="687.4" cy="1612.2" r="5.8"/><circle cx="705.3" cy="1659.9" r="5.8"/><circle cx="724.9" cy="1675.5" r="5.8"/><circle cx="742.1" cy="1602.0" r="5.8"/><circle cx="756.7" cy="1611.8" r="5.8"/><circle cx="739.9" cy="1629.3" r="5.8"/><circle cx="772.9" cy="1566.6" r="5.8"/><circle cx="774.3" cy="1570.9" r="5.8"/><circle cx="761.6" cy="1588.8" r="5.8"/><circle cx="706.0" cy="1635.2" r="5.8"/><circle cx="758.7" cy="1581.8" r="5.8"/><circle cx="749.4" cy="1669.2" r="5.8"/><circle cx="745.0" cy="1631.5" r="5.8"/><circle cx="763.6" cy="1594.2" r="5.8"/><circle cx="778.3" cy="1596.1" r="5.8"/><circle cx="756.2" cy="1588.5" r="5.8"/><circle cx="713.0" cy="1597.4" r="5.8"/><circle cx="747.9" cy="1571.5" r="5.8"/><circle cx="755.4" cy="1627.8" r="5.8"/><circle cx="750.6" cy="1612.3" r="5.8"/><circle cx="765.6" cy="1581.7" r="5.8"/><circle cx="762.8" cy="1626.0" r="5.8"/><circle cx="724.4" cy="1600.0" r="5.8"/><circle cx="734.7" cy="1620.2" r="5.8"/><circle cx="790.6" cy="1609.5" r="5.8"/><circle cx="735.2" cy="1583.7" r="5.8"/><circle cx="718.4" cy="1659.6" r="5.8"/><circle cx="767.8" cy="1615.1" r="5.8"/><circle cx="767.9" cy="1589.3" r="5.8"/><circle cx="710.8" cy="1630.2" r="5.8"/><circle cx="754.6" cy="1571.8" r="5.8"/><circle cx="781.0" cy="1558.7" r="5.8"/><circle cx="780.7" cy="1615.2" r="5.8"/><circle cx="779.8" cy="1593.2" r="5.8"/><circle cx="767.9" cy="1630.0" r="5.8"/><circle cx="744.4" cy="1634.4" r="5.8"/><circle cx="818.2" cy="1593.4" r="5.8"/><circle cx="720.9" cy="1637.6" r="5.8"/><circle cx="777.4" cy="1555.8" r="5.8"/><circle cx="758.0" cy="1684.7" r="5.8"/><circle cx="776.3" cy="1601.7" r="5.8"/><circle cx="715.7" cy="1619.1" r="5.8"/><circle cx="777.2" cy="1570.3" r="5.8"/><circle cx="754.1" cy="1589.6" r="5.8"/><circle cx="780.0" cy="1551.3" r="5.8"/><circle cx="758.1" cy="1580.9" r="5.8"/><circle cx="700.9" cy="1627.1" r="5.8"/><circle cx="767.8" cy="1569.5" r="5.8"/><circle cx="724.6" cy="1662.5" r="5.8"/><circle cx="804.9" cy="1602.5" r="5.8"/><circle cx="735.0" cy="1593.6" r="5.8"/><circle cx="700.8" cy="1616.1" r="5.8"/><circle cx="770.6" cy="1588.9" r="5.8"/><circle cx="752.2" cy="1584.7" r="5.8"/><circle cx="739.4" cy="1583.8" r="5.8"/><circle cx="749.0" cy="1624.7" r="5.8"/><circle cx="778.1" cy="1573.6" r="5.8"/><circle cx="721.3" cy="1613.1" r="5.8"/><circle cx="795.2" cy="1568.4" r="5.8"/><circle cx="728.9" cy="1640.3" r="5.8"/><circle cx="758.1" cy="1609.5" r="5.8"/><circle cx="803.7" cy="1577.4" r="5.8"/><circle cx="804.7" cy="1584.4" r="5.8"/><circle cx="728.6" cy="1614.6" r="5.8"/><circle cx="765.9" cy="1560.6" r="5.8"/><circle cx="761.2" cy="1590.7" r="5.8"/><circle cx="749.8" cy="1590.3" r="5.8"/><circle cx="747.7" cy="1602.9" r="5.8"/><circle cx="768.5" cy="1586.5" r="5.8"/><circle cx="763.0" cy="1574.1" r="5.8"/><circle cx="793.9" cy="1543.9" r="5.8"/><circle cx="753.3" cy="1617.9" r="5.8"/><circle cx="740.3" cy="1590.2" r="5.8"/><circle cx="742.5" cy="1605.8" r="5.8"/><circle cx="839.0" cy="1585.6" r="5.8"/><circle cx="728.0" cy="1628.6" r="5.8"/><circle cx="760.7" cy="1588.1" r="5.8"/><circle cx="735.9" cy="1604.8" r="5.8"/><circle cx="771.1" cy="1600.9" r="5.8"/><circle cx="802.4" cy="1532.4" r="5.8"/><circle cx="746.0" cy="1617.8" r="5.8"/><circle cx="752.4" cy="1608.6" r="5.8"/><circle cx="705.9" cy="1680.8" r="5.8"/><circle cx="797.6" cy="1589.8" r="5.8"/><circle cx="738.7" cy="1591.3" r="5.8"/><circle cx="749.4" cy="1559.8" r="5.8"/><circle cx="725.7" cy="1651.7" r="5.8"/><circle cx="738.4" cy="1602.8" r="5.8"/><circle cx="825.0" cy="1607.0" r="5.8"/><circle cx="804.1" cy="1591.3" r="5.8"/><circle cx="796.1" cy="1602.7" r="5.8"/><circle cx="739.8" cy="1581.7" r="5.8"/><circle cx="749.8" cy="1603.3" r="5.8"/><circle cx="770.9" cy="1578.7" r="5.8"/><circle cx="728.4" cy="1584.4" r="5.8"/><circle cx="783.7" cy="1577.5" r="5.8"/><circle cx="834.5" cy="1543.2" r="5.8"/><circle cx="780.3" cy="1580.8" r="5.8"/><circle cx="747.1" cy="1589.2" r="5.8"/><circle cx="750.2" cy="1587.6" r="5.8"/><circle cx="749.0" cy="1661.8" r="5.8"/><circle cx="785.7" cy="1597.7" r="5.8"/><circle cx="759.0" cy="1648.0" r="5.8"/><circle cx="770.8" cy="1558.4" r="5.8"/><circle cx="803.7" cy="1574.5" r="5.8"/><circle cx="775.5" cy="1616.3" r="5.8"/><circle cx="745.8" cy="1560.9" r="5.8"/><circle cx="710.7" cy="1605.5" r="5.8"/><circle cx="780.4" cy="1577.7" r="5.8"/><circle cx="690.1" cy="1636.3" r="5.8"/><circle cx="764.3" cy="1612.0" r="5.8"/><circle cx="757.9" cy="1585.8" r="5.8"/><circle cx="805.6" cy="1574.9" r="5.8"/><circle cx="755.5" cy="1552.4" r="5.8"/><circle cx="790.4" cy="1565.3" r="5.8"/><circle cx="723.0" cy="1608.5" r="5.8"/><circle cx="756.6" cy="1597.1" r="5.8"/><circle cx="791.2" cy="1567.1" r="5.8"/><circle cx="713.5" cy="1668.0" r="5.8"/><circle cx="702.6" cy="1640.7" r="5.8"/><circle cx="773.4" cy="1601.1" r="5.8"/><circle cx="741.9" cy="1591.3" r="5.8"/><circle cx="735.5" cy="1582.6" r="5.8"/><circle cx="737.3" cy="1590.0" r="5.8"/><circle cx="761.0" cy="1541.3" r="5.8"/><circle cx="726.9" cy="1608.4" r="5.8"/><circle cx="734.3" cy="1665.7" r="5.8"/><circle cx="696.0" cy="1640.4" r="5.8"/><circle cx="730.0" cy="1634.8" r="5.8"/><circle cx="752.6" cy="1607.2" r="5.8"/><circle cx="739.6" cy="1614.5" r="5.8"/><circle cx="793.9" cy="1553.4" r="5.8"/><circle cx="750.7" cy="1574.7" r="5.8"/><circle cx="773.3" cy="1623.2" r="5.8"/><circle cx="726.1" cy="1602.8" r="5.8"/><circle cx="731.0" cy="1653.3" r="5.8"/><circle cx="764.4" cy="1564.7" r="5.8"/><circle cx="742.8" cy="1591.2" r="5.8"/><circle cx="779.7" cy="1612.4" r="5.8"/><circle cx="733.5" cy="1651.7" r="5.8"/><circle cx="785.6" cy="1584.4" r="5.8"/><circle cx="749.9" cy="1635.7" r="5.8"/><circle cx="725.3" cy="1644.1" r="5.8"/><circle cx="724.7" cy="1628.5" r="5.8"/><circle cx="700.0" cy="1660.5" r="5.8"/><circle cx="775.3" cy="1643.8" r="5.8"/><circle cx="776.4" cy="1585.9" r="5.8"/><circle cx="723.1" cy="1672.5" r="5.8"/><circle cx="770.2" cy="1599.9" r="5.8"/><circle cx="760.3" cy="1571.3" r="5.8"/><circle cx="765.0" cy="1579.8" r="5.8"/><circle cx="773.7" cy="1557.7" r="5.8"/><circle cx="801.1" cy="1616.4" r="5.8"/><circle cx="753.3" cy="1561.0" r="5.8"/><circle cx="757.8" cy="1615.7" r="5.8"/><circle cx="827.6" cy="1572.5" r="5.8"/><circle cx="725.3" cy="1558.2" r="5.8"/><circle cx="724.6" cy="1617.6" r="5.8"/><circle cx="798.7" cy="1553.0" r="5.8"/><circle cx="753.0" cy="1575.2" r="5.8"/><circle cx="738.3" cy="1627.0" r="5.8"/><circle cx="748.5" cy="1583.3" r="5.8"/><circle cx="758.8" cy="1605.2" r="5.8"/><circle cx="740.5" cy="1633.5" r="5.8"/><circle cx="773.6" cy="1576.7" r="5.8"/><circle cx="752.1" cy="1635.3" r="5.8"/><circle cx="794.2" cy="1516.0" r="5.8"/><circle cx="813.7" cy="1618.0" r="5.8"/><circle cx="761.4" cy="1579.0" r="5.8"/><circle cx="785.1" cy="1551.3" r="5.8"/><circle cx="745.9" cy="1596.8" r="5.8"/><circle cx="697.0" cy="1640.4" r="5.8"/><circle cx="775.1" cy="1602.1" r="5.8"/><circle cx="754.1" cy="1543.2" r="5.8"/><circle cx="737.4" cy="1647.7" r="5.8"/><circle cx="759.4" cy="1591.6" r="5.8"/><circle cx="764.1" cy="1624.9" r="5.8"/><circle cx="784.2" cy="1531.9" r="5.8"/><circle cx="753.3" cy="1650.9" r="5.8"/><circle cx="776.1" cy="1543.6" r="5.8"/><circle cx="781.6" cy="1542.8" r="5.8"/><circle cx="733.1" cy="1621.7" r="5.8"/><circle cx="722.5" cy="1669.0" r="5.8"/><circle cx="746.1" cy="1596.6" r="5.8"/><circle cx="742.7" cy="1622.7" r="5.8"/><circle cx="759.7" cy="1584.7" r="5.8"/><circle cx="766.4" cy="1582.0" r="5.8"/><circle cx="735.9" cy="1600.3" r="5.8"/><circle cx="771.2" cy="1611.0" r="5.8"/><circle cx="742.8" cy="1618.4" r="5.8"/><circle cx="751.2" cy="1602.7" r="5.8"/><circle cx="753.2" cy="1599.5" r="5.8"/><circle cx="774.6" cy="1621.5" r="5.8"/><circle cx="747.4" cy="1577.0" r="5.8"/><circle cx="768.7" cy="1592.6" r="5.8"/><circle cx="782.1" cy="1602.2" r="5.8"/><circle cx="714.5" cy="1651.6" r="5.8"/><circle cx="723.7" cy="1617.1" r="5.8"/><circle cx="777.4" cy="1664.4" r="5.8"/><circle cx="707.2" cy="1609.2" r="5.8"/><circle cx="771.2" cy="1629.5" r="5.8"/><circle cx="731.0" cy="1615.4" r="5.8"/><circle cx="763.9" cy="1586.2" r="5.8"/><circle cx="776.1" cy="1553.1" r="5.8"/><circle cx="745.7" cy="1594.7" r="5.8"/><circle cx="775.3" cy="1545.1" r="5.8"/><circle cx="796.5" cy="1588.3" r="5.8"/><circle cx="740.7" cy="1596.3" r="5.8"/><circle cx="731.8" cy="1595.9" r="5.8"/><circle cx="753.7" cy="1574.2" r="5.8"/><circle cx="708.6" cy="1574.8" r="5.8"/><circle cx="786.5" cy="1571.4" r="5.8"/><circle cx="714.3" cy="1566.0" r="5.8"/><circle cx="734.1" cy="1599.7" r="5.8"/><circle cx="777.2" cy="1575.5" r="5.8"/><circle cx="728.0" cy="1630.5" r="5.8"/><circle cx="744.8" cy="1577.7" r="5.8"/><circle cx="772.6" cy="1580.5" r="5.8"/><circle cx="765.4" cy="1572.1" r="5.8"/><circle cx="759.7" cy="1595.5" r="5.8"/><circle cx="739.4" cy="1599.4" r="5.8"/><circle cx="744.2" cy="1637.9" r="5.8"/><circle cx="781.1" cy="1620.4" r="5.8"/><circle cx="780.8" cy="1639.1" r="5.8"/><circle cx="731.9" cy="1612.7" r="5.8"/><circle cx="769.3" cy="1587.3" r="5.8"/><circle cx="775.2" cy="1626.1" r="5.8"/><circle cx="786.7" cy="1546.4" r="5.8"/><circle cx="794.6" cy="1583.9" r="5.8"/><circle cx="783.0" cy="1630.0" r="5.8"/><circle cx="757.2" cy="1568.9" r="5.8"/><circle cx="716.4" cy="1653.0" r="5.8"/><circle cx="799.5" cy="1607.5" r="5.8"/><circle cx="735.0" cy="1664.1" r="5.8"/><circle cx="766.4" cy="1636.5" r="5.8"/><circle cx="752.7" cy="1597.7" r="5.8"/><circle cx="758.0" cy="1575.8" r="5.8"/><circle cx="768.8" cy="1546.7" r="5.8"/><circle cx="736.6" cy="1643.2" r="5.8"/><circle cx="751.7" cy="1643.8" r="5.8"/><circle cx="754.4" cy="1603.8" r="5.8"/><circle cx="793.6" cy="1609.0" r="5.8"/><circle cx="730.0" cy="1635.1" r="5.8"/><circle cx="757.2" cy="1611.1" r="5.8"/><circle cx="767.7" cy="1613.2" r="5.8"/><circle cx="765.3" cy="1578.5" r="5.8"/><circle cx="765.7" cy="1612.7" r="5.8"/><circle cx="798.5" cy="1641.3" r="5.8"/><circle cx="734.5" cy="1627.4" r="5.8"/><circle cx="720.6" cy="1639.3" r="5.8"/><circle cx="782.7" cy="1615.5" r="5.8"/><circle cx="756.1" cy="1612.5" r="5.8"/><circle cx="755.7" cy="1581.6" r="5.8"/><circle cx="769.8" cy="1613.6" r="5.8"/><circle cx="754.2" cy="1606.4" r="5.8"/><circle cx="767.0" cy="1578.4" r="5.8"/><circle cx="763.6" cy="1638.4" r="5.8"/><circle cx="760.7" cy="1621.2" r="5.8"/><circle cx="734.3" cy="1632.9" r="5.8"/><circle cx="743.9" cy="1613.5" r="5.8"/><circle cx="774.4" cy="1593.1" r="5.8"/><circle cx="811.5" cy="1543.9" r="5.8"/><circle cx="777.8" cy="1570.8" r="5.8"/><circle cx="820.3" cy="1602.4" r="5.8"/><circle cx="735.9" cy="1618.6" r="5.8"/><circle cx="729.6" cy="1555.7" r="5.8"/><circle cx="741.5" cy="1576.7" r="5.8"/><circle cx="756.7" cy="1569.1" r="5.8"/><circle cx="769.8" cy="1590.1" r="5.8"/><circle cx="785.4" cy="1602.0" r="5.8"/><circle cx="798.8" cy="1583.3" r="5.8"/><circle cx="725.7" cy="1567.9" r="5.8"/><circle cx="751.1" cy="1607.5" r="5.8"/><circle cx="780.7" cy="1570.4" r="5.8"/><circle cx="734.5" cy="1620.0" r="5.8"/><circle cx="756.7" cy="1577.1" r="5.8"/><circle cx="710.0" cy="1599.9" r="5.8"/><circle cx="791.7" cy="1557.0" r="5.8"/><circle cx="769.2" cy="1600.1" r="5.8"/><circle cx="798.5" cy="1573.1" r="5.8"/><circle cx="778.8" cy="1589.9" r="5.8"/><circle cx="729.2" cy="1611.0" r="5.8"/><circle cx="785.0" cy="1566.3" r="5.8"/><circle cx="728.0" cy="1609.4" r="5.8"/><circle cx="749.9" cy="1599.1" r="5.8"/><circle cx="769.8" cy="1546.6" r="5.8"/><circle cx="706.4" cy="1586.3" r="5.8"/><circle cx="743.0" cy="1591.6" r="5.8"/><circle cx="743.1" cy="1619.6" r="5.8"/><circle cx="688.4" cy="1625.5" r="5.8"/><circle cx="806.1" cy="1580.9" r="5.8"/><circle cx="751.3" cy="1662.7" r="5.8"/><circle cx="789.2" cy="1576.3" r="5.8"/><circle cx="760.2" cy="1607.4" r="5.8"/><circle cx="772.0" cy="1618.9" r="5.8"/><circle cx="781.0" cy="1619.5" r="5.8"/><circle cx="749.5" cy="1599.7" r="5.8"/><circle cx="770.2" cy="1592.2" r="5.8"/><circle cx="734.1" cy="1623.8" r="5.8"/><circle cx="719.3" cy="1594.6" r="5.8"/><circle cx="774.6" cy="1582.7" r="5.8"/><circle cx="758.0" cy="1623.3" r="5.8"/><circle cx="742.1" cy="1631.3" r="5.8"/><circle cx="753.8" cy="1587.3" r="5.8"/><circle cx="732.9" cy="1559.7" r="5.8"/><circle cx="740.9" cy="1620.4" r="5.8"/><circle cx="847.8" cy="1551.1" r="5.8"/><circle cx="742.2" cy="1613.5" r="5.8"/><circle cx="752.6" cy="1592.4" r="5.8"/><circle cx="744.9" cy="1603.4" r="5.8"/><circle cx="744.3" cy="1590.4" r="5.8"/><circle cx="730.6" cy="1663.6" r="5.8"/><circle cx="773.6" cy="1615.0" r="5.8"/><circle cx="723.2" cy="1621.6" r="5.8"/><circle cx="731.5" cy="1610.9" r="5.8"/><circle cx="767.0" cy="1577.9" r="5.8"/><circle cx="768.9" cy="1589.5" r="5.8"/><circle cx="726.5" cy="1639.7" r="5.8"/><circle cx="774.9" cy="1596.4" r="5.8"/><circle cx="741.4" cy="1594.8" r="5.8"/><circle cx="726.5" cy="1617.0" r="5.8"/><circle cx="805.6" cy="1559.2" r="5.8"/><circle cx="761.9" cy="1599.8" r="5.8"/><circle cx="783.9" cy="1556.6" r="5.8"/><circle cx="787.2" cy="1586.6" r="5.8"/><circle cx="756.0" cy="1602.3" r="5.8"/><circle cx="693.7" cy="1630.6" r="5.8"/><circle cx="805.1" cy="1600.2" r="5.8"/><circle cx="774.4" cy="1583.6" r="5.8"/><circle cx="759.6" cy="1585.1" r="5.8"/><circle cx="727.6" cy="1644.4" r="5.8"/><circle cx="798.0" cy="1569.3" r="5.8"/><circle cx="757.2" cy="1646.5" r="5.8"/><circle cx="724.3" cy="1630.0" r="5.8"/><circle cx="785.3" cy="1551.1" r="5.8"/><circle cx="723.7" cy="1566.5" r="5.8"/><circle cx="756.5" cy="1624.2" r="5.8"/><circle cx="758.3" cy="1580.6" r="5.8"/><circle cx="754.2" cy="1643.8" r="5.8"/><circle cx="758.3" cy="1590.8" r="5.8"/><circle cx="731.6" cy="1639.2" r="5.8"/><circle cx="736.8" cy="1610.3" r="5.8"/><circle cx="755.2" cy="1606.0" r="5.8"/><circle cx="730.8" cy="1597.7" r="5.8"/><circle cx="792.3" cy="1569.4" r="5.8"/><circle cx="787.2" cy="1588.9" r="5.8"/><circle cx="745.1" cy="1590.2" r="5.8"/><circle cx="795.2" cy="1566.3" r="5.8"/><circle cx="751.3" cy="1601.2" r="5.8"/><circle cx="723.8" cy="1641.5" r="5.8"/><circle cx="735.4" cy="1615.0" r="5.8"/><circle cx="765.4" cy="1657.2" r="5.8"/><circle cx="752.6" cy="1597.4" r="5.8"/><circle cx="729.4" cy="1605.0" r="5.8"/><circle cx="760.6" cy="1616.8" r="5.8"/><circle cx="793.0" cy="1609.1" r="5.8"/><circle cx="742.0" cy="1620.1" r="5.8"/><circle cx="777.2" cy="1581.2" r="5.8"/><circle cx="773.9" cy="1601.9" r="5.8"/><circle cx="734.6" cy="1572.4" r="5.8"/><circle cx="701.5" cy="1589.7" r="5.8"/><circle cx="742.1" cy="1618.7" r="5.8"/><circle cx="742.6" cy="1584.0" r="5.8"/><circle cx="765.2" cy="1661.7" r="5.8"/><circle cx="755.8" cy="1575.4" r="5.8"/><circle cx="725.1" cy="1551.4" r="5.8"/><circle cx="756.3" cy="1593.0" r="5.8"/><circle cx="769.9" cy="1572.2" r="5.8"/><circle cx="812.9" cy="1573.2" r="5.8"/><circle cx="806.4" cy="1655.9" r="5.8"/><circle cx="780.0" cy="1584.8" r="5.8"/><circle cx="739.6" cy="1549.5" r="5.8"/><circle cx="760.4" cy="1605.2" r="5.8"/><circle cx="759.7" cy="1625.8" r="5.8"/><circle cx="731.9" cy="1610.4" r="5.8"/><circle cx="755.9" cy="1599.9" r="5.8"/><circle cx="737.0" cy="1594.6" r="5.8"/><circle cx="769.2" cy="1590.4" r="5.8"/><circle cx="773.1" cy="1586.0" r="5.8"/><circle cx="706.9" cy="1613.8" r="5.8"/><circle cx="782.4" cy="1601.6" r="5.8"/><circle cx="773.5" cy="1568.5" r="5.8"/><circle cx="695.4" cy="1622.8" r="5.8"/><circle cx="748.3" cy="1581.4" r="5.8"/><circle cx="763.0" cy="1598.4" r="5.8"/><circle cx="706.6" cy="1630.6" r="5.8"/><circle cx="761.7" cy="1604.6" r="5.8"/><circle cx="762.4" cy="1591.4" r="5.8"/><circle cx="777.0" cy="1588.5" r="5.8"/><circle cx="791.6" cy="1630.1" r="5.8"/><circle cx="735.7" cy="1604.4" r="5.8"/><circle cx="791.1" cy="1570.8" r="5.8"/><circle cx="726.8" cy="1584.7" r="5.8"/><circle cx="736.8" cy="1601.0" r="5.8"/><circle cx="791.6" cy="1556.5" r="5.8"/><circle cx="794.6" cy="1578.1" r="5.8"/><circle cx="762.0" cy="1597.2" r="5.8"/><circle cx="739.6" cy="1584.2" r="5.8"/><circle cx="818.8" cy="1546.5" r="5.8"/><circle cx="735.5" cy="1610.7" r="5.8"/><circle cx="725.2" cy="1623.5" r="5.8"/><circle cx="773.2" cy="1590.0" r="5.8"/><circle cx="793.8" cy="1607.4" r="5.8"/></g>
<path d="M597 1693.3L923.5 1509" stroke="#1e9a5c" stroke-width="3.4" fill="none"/>
<path d="M758.9 1443V1751.4M602.5 1594.8H923.5" stroke="#111" stroke-width="3.2" stroke-linecap="round" stroke-dasharray="0 16.2" fill="none"/>
<path d="M595.5 1436V1753.4H923.5" stroke="#505050" stroke-width="3" fill="none"/>
<path d="M586.5 1725H595.5M624.8 1753.4V1763.4M586.5 1681.6H595.5M669.5 1753.4V1763.4M586.5 1638.2H595.5M714.2 1753.4V1763.4M586.5 1594.8H595.5M758.9 1753.4V1763.4M586.5 1551.4H595.5M803.6 1753.4V1763.4M586.5 1508H595.5M848.3 1753.4V1763.4M586.5 1464.6H595.5M893 1753.4V1763.4" stroke="#505050" stroke-width="1.8" fill="none"/>
<text x="583.5" y="1733.6" font-size="24.5" text-anchor="end">&#8722;15</text>
<text x="633.4" y="1787.9" font-size="24.5" text-anchor="end">&#8722;15</text>
<text x="583.5" y="1690.2" font-size="24.5" text-anchor="end">&#8722;10</text>
<text x="686.1" y="1787.9" font-size="24.5" text-anchor="end">&#8722;10</text>
<text x="583.5" y="1646.8" font-size="24.5" text-anchor="end">&#8722;5</text>
<text x="725.5" y="1787.9" font-size="24.5" text-anchor="end">&#8722;5</text>
<text x="583.5" y="1603.4" font-size="24.5" text-anchor="end">0</text>
<text x="768.5" y="1787.9" font-size="24.5" text-anchor="end">0</text>
<text x="583.5" y="1560" font-size="24.5" text-anchor="end">5</text>
<text x="813.2" y="1787.9" font-size="24.5" text-anchor="end">5</text>
<text x="583.5" y="1516.6" font-size="24.5" text-anchor="end">10</text>
<text x="866.8" y="1787.9" font-size="24.5" text-anchor="end">10</text>
<text x="583.5" y="1473.2" font-size="24.5" text-anchor="end">15</text>
<text x="911.6" y="1787.9" font-size="24.5" text-anchor="end">15</text>
<ellipse cx="1161.7" cy="1603.6" rx="86.0" ry="40.0" transform="rotate(-50 1161.7 1603.6)" fill="#bfc4cd" filter="url(#bl4)"/>
<path d="M1207 1616h0M1217 1536h0M1226 1585h0M1248 1563h0M1225 1512h0M1131 1574h0M1098 1649h0M1207 1512h0M1082 1580h0M1098 1660h0M1152 1687h0M1233 1547h0M1203 1497h0M1107 1732h0M1232 1549h0M1209 1482h0M1208 1645h0M1102 1665h0M1165 1541h0M1085 1607h0M1091 1628h0M1117 1712h0M1235 1576h0M1144 1667h0M1107 1592h0M1138 1565h0M1228 1550h0M1213 1597h0M1190 1629h0M1104 1572h0M1169 1650h0M1233 1546h0M1171 1703h0M1234 1549h0M1192 1627h0M1156 1553h0M1066 1644h0M1109 1670h0M1187 1531h0M1098 1632h0M1096 1616h0M1206 1636h0M1158 1519h0M1178 1672h0M1258 1549h0M1197 1636h0M1239 1602h0M1230 1537h0M1199 1535h0M1103 1696h0M1144 1555h0M1148 1549h0M1207 1513h0M1246 1543h0M1128 1578h0M1133 1669h0M1235 1550h0M1228 1588h0M1149 1540h0M1134 1554h0M1080 1684h0M1221 1501h0M1097 1640h0M1140 1567h0M1138 1568h0M1232 1536h0M1091 1652h0M1126 1583h0M1025 1704h0M1121 1582h0M1143 1678h0M1102 1641h0M1176 1539h0M1141 1561h0M1171 1527h0M1108 1668h0M1240 1566h0M1205 1619h0M1222 1591h0M1089 1638h0M1132 1676h0M1205 1609h0M1089 1657h0M1168 1673h0M1150 1670h0M1187 1532h0M1212 1529h0M1136 1678h0M1146 1560h0M1140 1684h0M1128 1670h0M1230 1601h0M1088 1651h0M1163 1674h0M1107 1609h0M1078 1614h0M1129 1715h0M1189 1640h0M1098 1638h0M1142 1552h0M1190 1525h0M1115 1678h0M1138 1671h0M1108 1598h0M1107 1598h0M1093 1633h0M1184 1644h0M1171 1532h0M1134 1678h0M1172 1541h0M1114 1693h0M1227 1507h0M1118 1670h0M1054 1660h0M1188 1514h0M1224 1561h0M1090 1696h0M1230 1570h0M1257 1526h0M1120 1677h0M1248 1537h0M1109 1677h0M1098 1636h0M1099 1665h0M1077 1639h0M1197 1639h0M1103 1659h0M1214 1528h0M1058 1621h0M1079 1660h0M1082 1612h0M1160 1665h0M1203 1620h0M1260 1536h0M1117 1713h0M1093 1664h0M1111 1559h0M1156 1551h0M1185 1530h0M1230 1545h0M1134 1550h0M1155 1690h0M1148 1672h0M1095 1715h0M1088 1619h0M1135 1535h0M1191 1636h0M1090 1694h0M1238 1493h0M1205 1665h0M1260 1559h0M1168 1652h0M1103 1592h0M1097 1671h0M1110 1602h0M1108 1679h0M1089 1634h0M1073 1637h0M1217 1624h0M1211 1518h0M1170 1665h0M1110 1712h0M1212 1612h0M1222 1600h0M1092 1675h0M1234 1482h0M1213 1597h0M1124 1671h0M1103 1681h0M1065 1711h0M1155 1555h0M1185 1529h0M1131 1564h0M1037 1712h0M1076 1724h0M1089 1659h0M1097 1671h0M1227 1569h0M1215 1594h0M1095 1601h0M1244 1544h0M1138 1558h0M1220 1530h0M1095 1726h0M1242 1568h0M1239 1552h0M1128 1565h0M1176 1541h0M1099 1619h0M1208 1607h0M1245 1567h0M1181 1532h0M1214 1495h0M1111 1612h0M1233 1559h0M1207 1615h0M1224 1497h0M1218 1483h0M1194 1525h0M1256 1568h0M1145 1668h0M1085 1665h0M1086 1667h0M1126 1684h0M1075 1707h0M1095 1648h0M1233 1523h0M1055 1702h0M1108 1614h0M1124 1563h0M1219 1526h0M1051 1706h0M1265 1542h0M1130 1575h0M1214 1627h0M1225 1531h0M1187 1655h0M1213 1617h0M1179 1507h0M1073 1663h0M1156 1669h0M1084 1671h0M1186 1534h0M1208 1506h0M1075 1647h0M1089 1645h0M1111 1680h0M1182 1522h0M1069 1747h0M1185 1635h0M1097 1603h0M1119 1704h0M1101 1624h0M1104 1683h0M1224 1527h0M1253 1503h0M1120 1674h0M1082 1614h0M1244 1493h0M1069 1683h0M1188 1643h0M1230 1500h0M1233 1490h0M1190 1529h0M1091 1680h0M1223 1543h0M1202 1616h0M1077 1579h0M1127 1686h0M1147 1697h0M1134 1553h0M1092 1670h0M1065 1732h0M1088 1616h0M1133 1689h0M1129 1690h0M1230 1566h0M1068 1673h0M1217 1611h0M1106 1688h0M1176 1540h0M1206 1606h0M1161 1529h0M1119 1562h0M1249 1526h0M1149 1540h0M1108 1687h0M1121 1672h0M1115 1591h0M1091 1561h0M1109 1601h0M1169 1651h0M1247 1498h0M1103 1684h0M1044 1703h0M1223 1555h0M1052 1647h0M1116 1562h0M1204 1617h0M1144 1669h0M1099 1662h0M1083 1663h0M1150 1548h0M1208 1538h0M1242 1530h0M1095 1695h0M1164 1550h0M1194 1640h0M1134 1563h0M1067 1637h0M1138 1560h0M1205 1466h0M1059 1662h0M1222 1547h0M1113 1676h0M1238 1545h0M1199 1531h0M1230 1465h0M1102 1681h0M1192 1638h0M1195 1635h0M1218 1545h0M1117 1698h0M1137 1682h0M1107 1677h0M1188 1509h0M1091 1607h0M1235 1572h0M1156 1550h0M1092 1634h0M1155 1544h0M1073 1627h0M1211 1531h0M1111 1682h0M1217 1661h0M1117 1682h0M1125 1559h0M1142 1568h0M1098 1645h0M1110 1700h0M1091 1658h0M1203 1517h0M1103 1659h0M1098 1653h0M1094 1606h0M1229 1540h0M1152 1671h0M1145 1564h0M1151 1553h0M1109 1585h0M1077 1621h0M1083 1698h0M1193 1535h0M1141 1546h0M1218 1537h0M1193 1527h0M1176 1646h0M1079 1627h0M1207 1520h0M1117 1674h0M1184 1662h0M1128 1559h0M1097 1641h0M1121 1691h0M1137 1682h0M1109 1678h0M1120 1596h0M1254 1500h0M1120 1588h0M1224 1545h0M1102 1612h0M1093 1700h0M1194 1508h0M1191 1644h0M1100 1613h0M1243 1505h0M1187 1510h0M1235 1554h0M1199 1530h0M1225 1521h0M1206 1537h0M1222 1563h0M1118 1682h0M1212 1620h0M1087 1622h0M1207 1610h0M1127 1582h0M1096 1582h0M1144 1686h0M1128 1536h0M1141 1685h0M1237 1510h0M1166 1667h0M1097 1647h0M1146 1676h0M1118 1522h0M1190 1630h0M1079 1655h0M1222 1575h0M1113 1594h0M1109 1687h0M1107 1676h0M1105 1714h0M1171 1701h0M1217 1542h0M1128 1687h0M1085 1668h0M1150 1553h0M1159 1661h0M1150 1539h0M1143 1541h0M1095 1603h0M1225 1536h0M1249 1565h0M1251 1551h0M1187 1640h0M1218 1513h0M1080 1584h0M1208 1615h0M1138 1681h0M1202 1508h0M1136 1708h0M1098 1628h0M1078 1674h0M1211 1529h0M1101 1684h0M1097 1580h0M1167 1523h0M1240 1615h0M1079 1725h0M1107 1669h0M1229 1577h0M1185 1533h0M1196 1530h0M1144 1675h0M1200 1522h0M1092 1663h0M1153 1545h0M1139 1545h0M1236 1516h0M1098 1636h0M1081 1658h0M1248 1594h0M1170 1545h0M1085 1678h0M1136 1694h0M1078 1584h0M1189 1631h0M1102 1669h0M1205 1614h0M1253 1526h0M1206 1635h0M1143 1712h0M1106 1702h0M1214 1620h0M1223 1590h0M1114 1605h0M1105 1662h0M1076 1633h0M1106 1608h0M1193 1517h0M1112 1673h0M1223 1550h0M1149 1667h0M1153 1548h0M1226 1581h0M1229 1552h0M1191 1645h0M1093 1633h0M1278 1510h0M1140 1536h0M1118 1590h0M1208 1622h0M1094 1644h0M1048 1700h0M1216 1614h0M1187 1535h0M1148 1551h0M1198 1655h0M1239 1592h0M1208 1613h0M1310 1521h0M1242 1549h0M1257 1516h0M1137 1565h0M1106 1674h0M1241 1521h0M1058 1681h0M1115 1578h0M1100 1668h0M1173 1537h0M1102 1639h0M1134 1563h0M1112 1681h0M1109 1688h0M1111 1689h0M1252 1564h0M1278 1504h0M1260 1496h0M1090 1654h0M1212 1493h0M1188 1529h0M1164 1655h0M1220 1515h0M1077 1683h0M1154 1665h0M1051 1708h0M1136 1569h0M1098 1700h0M1153 1663h0M1141 1558h0M1228 1462h0M1222 1567h0M1172 1647h0M1238 1515h0M1247 1522h0M1235 1576h0M1100 1616h0M1185 1681h0M1121 1563h0M1221 1624h0M1226 1487h0M1136 1558h0M1208 1604h0M1119 1595h0M1247 1522h0M1085 1613h0M1060 1632h0M1204 1514h0M1096 1670h0M1219 1543h0M1214 1600h0M1183 1646h0M1248 1543h0M1212 1531h0M1120 1713h0M1219 1526h0M1222 1526h0M1225 1629h0M1265 1496h0M1112 1605h0M1130 1560h0M1136 1545h0M1201 1633h0M1102 1643h0M1136 1701h0M1129 1539h0M1091 1658h0M1104 1625h0M1109 1694h0M1197 1513h0M1090 1615h0M1214 1636h0M1126 1586h0M1226 1560h0M1076 1675h0M1088 1617h0M1235 1550h0M1164 1676h0M1128 1674h0M1209 1615h0M1229 1580h0M1092 1616h0M1109 1613h0M1122 1578h0M1233 1544h0M1142 1668h0M1250 1515h0M1228 1536h0M1263 1528h0M1203 1612h0M1088 1699h0M1149 1561h0M1231 1500h0M1097 1683h0M1159 1677h0M1145 1565h0M1246 1543h0M1094 1679h0M1194 1640h0M1110 1604h0M1113 1567h0M1185 1636h0M1056 1676h0M1077 1679h0M1125 1690h0M1106 1712h0M1104 1668h0M1239 1520h0M1171 1650h0M1227 1586h0M1114 1714h0M1188 1637h0M1233 1530h0M1209 1626h0M1093 1663h0M1236 1558h0M1194 1523h0M1229 1558h0M1226 1616h0M1131 1685h0M1098 1635h0M1161 1663h0M1234 1575h0M1103 1664h0M1159 1541h0M1089 1629h0M1182 1689h0M1248 1599h0M1228 1560h0M1143 1557h0M1148 1686h0M1159 1553h0M1093 1652h0M1097 1674h0M1104 1626h0M1129 1673h0M1195 1535h0M1284 1505h0M1114 1696h0M1091 1638h0M1173 1576h0M1179 1622h0M1146 1597h0M1200 1585h0M1130 1643h0M1175 1598h0M1135 1592h0M1140 1622h0M1145 1598h0M1160 1601h0M1162 1581h0M1175 1595h0M1112 1617h0M1165 1629h0M1143 1613h0M1216 1493h0M1113 1657h0M1163 1552h0M1184 1615h0M1252 1528h0M1158 1575h0M1139 1613h0M1136 1626h0M1163 1577h0M1176 1570h0M1109 1627h0M1194 1528h0M1199 1610h0M1142 1612h0M1154 1574h0M1144 1717h0M1131 1556h0M1219 1564h0M1119 1588h0M1200 1618h0M1239 1608h0M1183 1609h0M1147 1593h0M1096 1622h0M1173 1520h0M1171 1602h0M1198 1603h0M1136 1581h0M1142 1634h0M1146 1612h0M1104 1606h0M1174 1661h0M1114 1631h0M1088 1608h0M1186 1620h0M1121 1585h0M1196 1585h0M1175 1565h0M1151 1600h0M1160 1571h0M1180 1677h0M1197 1563h0M1203 1573h0M1133 1576h0" stroke="#c0c7d2" stroke-width="3" stroke-linecap="round" fill="none"/>
<g fill="#2c3a91" stroke="#3d4c9e" stroke-width="0.8"><circle cx="1096.9" cy="1583.2" r="5.7"/><circle cx="1089.3" cy="1602.3" r="5.7"/><circle cx="1080.0" cy="1614.0" r="5.7"/><circle cx="1064.3" cy="1638.3" r="5.7"/><circle cx="1055.8" cy="1651.8" r="5.7"/><circle cx="1076.8" cy="1659.1" r="5.7"/><circle cx="1079.5" cy="1658.3" r="5.7"/><circle cx="1081.3" cy="1657.4" r="5.7"/><circle cx="1100.9" cy="1660.0" r="5.7"/><circle cx="1075.9" cy="1680.0" r="5.7"/><circle cx="1092.0" cy="1675.6" r="5.7"/><circle cx="1103.6" cy="1686.9" r="5.7"/><circle cx="1123.3" cy="1673.0" r="5.7"/><circle cx="1143.8" cy="1665.2" r="5.7"/><circle cx="1163.0" cy="1655.7" r="5.7"/><circle cx="1197.4" cy="1665.2" r="5.7"/><circle cx="1149.2" cy="1680.0" r="5.7"/><circle cx="1149.2" cy="1686.9" r="5.7"/><circle cx="1161.7" cy="1692.1" r="5.7"/><circle cx="1065.2" cy="1713.8" r="5.7"/><circle cx="1070.6" cy="1710.3" r="5.7"/><circle cx="1069.7" cy="1717.3" r="5.7"/><circle cx="1152.7" cy="1723.4" r="5.7"/><circle cx="1171.5" cy="1740.7" r="5.7"/><circle cx="1211.2" cy="1599.2" r="5.7"/><circle cx="1193.8" cy="1611.0" r="5.7"/><circle cx="1177.7" cy="1643.5" r="5.7"/><circle cx="1130.4" cy="1564.5" r="5.7"/><circle cx="1150.5" cy="1560.6" r="5.7"/><circle cx="1121.5" cy="1571.5" r="5.7"/><circle cx="1174.5" cy="1613.6" r="5.7"/><circle cx="1134.6" cy="1638.5" r="5.7"/><circle cx="1114.5" cy="1616.4" r="5.7"/><circle cx="1144.0" cy="1618.0" r="5.7"/><circle cx="1116.7" cy="1585.8" r="5.7"/><circle cx="1129.5" cy="1611.7" r="5.7"/><circle cx="1150.5" cy="1582.8" r="5.7"/><circle cx="1072.3" cy="1620.6" r="5.7"/><circle cx="1204.8" cy="1583.1" r="5.7"/><circle cx="1127.9" cy="1612.3" r="5.7"/><circle cx="1139.2" cy="1585.2" r="5.7"/><circle cx="1149.9" cy="1633.5" r="5.7"/><circle cx="1119.4" cy="1602.3" r="5.7"/><circle cx="1136.6" cy="1653.1" r="5.7"/><circle cx="1169.1" cy="1636.8" r="5.7"/><circle cx="1139.3" cy="1626.7" r="5.7"/><circle cx="1155.0" cy="1612.2" r="5.7"/><circle cx="1128.9" cy="1641.3" r="5.7"/><circle cx="1146.6" cy="1624.0" r="5.7"/><circle cx="1122.9" cy="1607.5" r="5.7"/><circle cx="1124.6" cy="1568.9" r="5.7"/><circle cx="1130.8" cy="1639.2" r="5.7"/><circle cx="1063.9" cy="1656.0" r="5.7"/><circle cx="1125.0" cy="1633.7" r="5.7"/><circle cx="1167.6" cy="1617.4" r="5.7"/><circle cx="1143.5" cy="1604.7" r="5.7"/><circle cx="1102.2" cy="1657.0" r="5.7"/><circle cx="1187.0" cy="1606.5" r="5.7"/><circle cx="1144.7" cy="1593.9" r="5.7"/><circle cx="1135.5" cy="1599.5" r="5.7"/><circle cx="1160.0" cy="1586.4" r="5.7"/><circle cx="1156.6" cy="1598.8" r="5.7"/><circle cx="1161.3" cy="1606.7" r="5.7"/><circle cx="1103.9" cy="1600.1" r="5.7"/><circle cx="1145.5" cy="1606.6" r="5.7"/><circle cx="1131.7" cy="1651.9" r="5.7"/><circle cx="1122.4" cy="1601.1" r="5.7"/><circle cx="1133.3" cy="1599.8" r="5.7"/><circle cx="1111.6" cy="1602.4" r="5.7"/><circle cx="1139.2" cy="1631.0" r="5.7"/><circle cx="1148.5" cy="1593.5" r="5.7"/><circle cx="1141.5" cy="1628.6" r="5.7"/><circle cx="1120.9" cy="1615.4" r="5.7"/><circle cx="1162.4" cy="1619.9" r="5.7"/><circle cx="1139.3" cy="1603.5" r="5.7"/><circle cx="1106.7" cy="1631.9" r="5.7"/><circle cx="1137.2" cy="1626.1" r="5.7"/><circle cx="1125.2" cy="1582.4" r="5.7"/><circle cx="1117.4" cy="1627.8" r="5.7"/><circle cx="1081.8" cy="1612.5" r="5.7"/><circle cx="1107.2" cy="1615.1" r="5.7"/><circle cx="1111.5" cy="1622.9" r="5.7"/><circle cx="1214.7" cy="1588.7" r="5.7"/><circle cx="1120.3" cy="1621.0" r="5.7"/><circle cx="1146.0" cy="1625.1" r="5.7"/><circle cx="1168.0" cy="1562.6" r="5.7"/><circle cx="1095.2" cy="1646.6" r="5.7"/><circle cx="1088.8" cy="1645.4" r="5.7"/><circle cx="1124.2" cy="1628.2" r="5.7"/><circle cx="1153.4" cy="1583.9" r="5.7"/><circle cx="1143.6" cy="1667.5" r="5.7"/><circle cx="1141.3" cy="1579.2" r="5.7"/><circle cx="1108.1" cy="1626.5" r="5.7"/><circle cx="1132.2" cy="1596.8" r="5.7"/><circle cx="1105.8" cy="1673.8" r="5.7"/><circle cx="1137.1" cy="1586.1" r="5.7"/><circle cx="1192.3" cy="1620.3" r="5.7"/><circle cx="1129.8" cy="1606.4" r="5.7"/><circle cx="1192.2" cy="1563.8" r="5.7"/><circle cx="1130.0" cy="1623.4" r="5.7"/><circle cx="1157.3" cy="1598.9" r="5.7"/><circle cx="1167.4" cy="1596.2" r="5.7"/><circle cx="1149.1" cy="1614.8" r="5.7"/><circle cx="1150.3" cy="1619.2" r="5.7"/><circle cx="1091.8" cy="1643.0" r="5.7"/><circle cx="1150.2" cy="1614.3" r="5.7"/><circle cx="1121.7" cy="1600.4" r="5.7"/><circle cx="1122.4" cy="1640.6" r="5.7"/><circle cx="1135.0" cy="1597.1" r="5.7"/><circle cx="1167.2" cy="1646.2" r="5.7"/><circle cx="1149.5" cy="1582.1" r="5.7"/><circle cx="1140.8" cy="1618.4" r="5.7"/><circle cx="1147.3" cy="1613.8" r="5.7"/><circle cx="1132.7" cy="1648.4" r="5.7"/><circle cx="1137.1" cy="1636.7" r="5.7"/><circle cx="1106.6" cy="1637.1" r="5.7"/><circle cx="1103.8" cy="1640.6" r="5.7"/><circle cx="1113.8" cy="1636.7" r="5.7"/><circle cx="1153.7" cy="1580.2" r="5.7"/><circle cx="1123.5" cy="1633.0" r="5.7"/><circle cx="1168.3" cy="1630.5" r="5.7"/><circle cx="1123.4" cy="1628.8" r="5.7"/><circle cx="1127.1" cy="1626.3" r="5.7"/><circle cx="1133.9" cy="1589.8" r="5.7"/><circle cx="1139.7" cy="1587.5" r="5.7"/><circle cx="1131.6" cy="1622.9" r="5.7"/><circle cx="1137.0" cy="1625.6" r="5.7"/><circle cx="1163.0" cy="1638.3" r="5.7"/><circle cx="1131.0" cy="1624.1" r="5.7"/><circle cx="1121.0" cy="1639.6" r="5.7"/><circle cx="1146.7" cy="1604.9" r="5.7"/><circle cx="1213.6" cy="1592.9" r="5.7"/><circle cx="1164.3" cy="1640.1" r="5.7"/><circle cx="1104.8" cy="1563.8" r="5.7"/><circle cx="1094.5" cy="1675.2" r="5.7"/><circle cx="1149.1" cy="1606.3" r="5.7"/><circle cx="1183.5" cy="1626.1" r="5.7"/><circle cx="1142.6" cy="1591.1" r="5.7"/><circle cx="1146.4" cy="1621.4" r="5.7"/><circle cx="1154.2" cy="1605.4" r="5.7"/><circle cx="1148.1" cy="1615.7" r="5.7"/><circle cx="1101.2" cy="1670.6" r="5.7"/><circle cx="1125.8" cy="1602.8" r="5.7"/><circle cx="1122.7" cy="1637.4" r="5.7"/><circle cx="1142.9" cy="1599.2" r="5.7"/><circle cx="1120.5" cy="1564.5" r="5.7"/><circle cx="1155.0" cy="1658.1" r="5.7"/><circle cx="1122.5" cy="1578.7" r="5.7"/><circle cx="1136.0" cy="1584.7" r="5.7"/><circle cx="1138.5" cy="1638.3" r="5.7"/><circle cx="1165.5" cy="1603.8" r="5.7"/><circle cx="1124.8" cy="1670.3" r="5.7"/><circle cx="1141.2" cy="1534.8" r="5.7"/><circle cx="1137.7" cy="1640.1" r="5.7"/><circle cx="1152.4" cy="1618.0" r="5.7"/><circle cx="1157.6" cy="1584.7" r="5.7"/><circle cx="1096.0" cy="1628.3" r="5.7"/><circle cx="1122.8" cy="1627.6" r="5.7"/><circle cx="1141.0" cy="1619.4" r="5.7"/><circle cx="1152.9" cy="1615.2" r="5.7"/><circle cx="1145.4" cy="1683.9" r="5.7"/><circle cx="1129.2" cy="1654.5" r="5.7"/><circle cx="1134.4" cy="1615.7" r="5.7"/><circle cx="1142.4" cy="1601.0" r="5.7"/><circle cx="1135.7" cy="1642.5" r="5.7"/><circle cx="1105.6" cy="1669.0" r="5.7"/><circle cx="1134.1" cy="1598.4" r="5.7"/><circle cx="1136.9" cy="1620.5" r="5.7"/><circle cx="1150.1" cy="1592.8" r="5.7"/><circle cx="1137.1" cy="1591.6" r="5.7"/><circle cx="1116.3" cy="1596.7" r="5.7"/><circle cx="1133.1" cy="1633.4" r="5.7"/><circle cx="1137.0" cy="1643.8" r="5.7"/><circle cx="1129.4" cy="1559.3" r="5.7"/><circle cx="1126.2" cy="1609.2" r="5.7"/><circle cx="1140.1" cy="1578.6" r="5.7"/><circle cx="1176.6" cy="1599.8" r="5.7"/><circle cx="1117.9" cy="1626.5" r="5.7"/><circle cx="1156.4" cy="1579.8" r="5.7"/><circle cx="1128.5" cy="1640.3" r="5.7"/></g>
<rect x="993.6" y="1599.2" width="166.2" height="154" fill="#5ea3d6" fill-opacity="0.24"/>
<path d="M995.1 1692.3L1321.7 1509.1" stroke="#1e9a5c" stroke-width="3.4" fill="none"/>
<path d="M1157.2 1442.5V1751.2M1000.6 1594.9H1321.7" stroke="#111" stroke-width="3.2" stroke-linecap="round" stroke-dasharray="0 16.2" fill="none"/>
<path d="M993.6 1435.5V1753.2H1321.7" stroke="#505050" stroke-width="3" fill="none"/>
<path d="M984.6 1725.1H993.6M1023.2 1753.2V1763.2M984.6 1681.7H993.6M1067.9 1753.2V1763.2M984.6 1638.3H993.6M1112.5 1753.2V1763.2M984.6 1594.9H993.6M1157.2 1753.2V1763.2M984.6 1551.5H993.6M1201.9 1753.2V1763.2M984.6 1508.1H993.6M1246.5 1753.2V1763.2M984.6 1464.7H993.6M1291.2 1753.2V1763.2" stroke="#505050" stroke-width="1.8" fill="none"/>
<text x="981.6" y="1733.7" font-size="24.5" text-anchor="end">&#8722;15</text>
<text x="1031.9" y="1787.7" font-size="24.5" text-anchor="end">&#8722;15</text>
<text x="981.6" y="1690.3" font-size="24.5" text-anchor="end">&#8722;10</text>
<text x="1084.5" y="1787.7" font-size="24.5" text-anchor="end">&#8722;10</text>
<text x="981.6" y="1646.9" font-size="24.5" text-anchor="end">&#8722;5</text>
<text x="1123.9" y="1787.7" font-size="24.5" text-anchor="end">&#8722;5</text>
<text x="981.6" y="1603.5" font-size="24.5" text-anchor="end">0</text>
<text x="1166.8" y="1787.7" font-size="24.5" text-anchor="end">0</text>
<text x="981.6" y="1560.1" font-size="24.5" text-anchor="end">5</text>
<text x="1211.5" y="1787.7" font-size="24.5" text-anchor="end">5</text>
<text x="981.6" y="1516.7" font-size="24.5" text-anchor="end">10</text>
<text x="1265" y="1787.7" font-size="24.5" text-anchor="end">10</text>
<text x="981.6" y="1473.3" font-size="24.5" text-anchor="end">15</text>
<text x="1309.8" y="1787.7" font-size="24.5" text-anchor="end">15</text>
<ellipse cx="1555.9" cy="1603.6" rx="86.0" ry="40.0" transform="rotate(-50 1555.9 1603.6)" fill="#bfc4cd" filter="url(#bl4)"/>
<path d="M1602 1616h0M1612 1536h0M1620 1585h0M1642 1563h0M1619 1512h0M1525 1574h0M1492 1649h0M1601 1512h0M1476 1580h0M1492 1660h0M1546 1687h0M1627 1547h0M1597 1497h0M1501 1732h0M1627 1549h0M1603 1482h0M1603 1645h0M1496 1665h0M1559 1541h0M1479 1607h0M1485 1628h0M1511 1712h0M1629 1576h0M1538 1667h0M1501 1592h0M1532 1565h0M1622 1550h0M1607 1597h0M1584 1629h0M1498 1572h0M1564 1650h0M1627 1546h0M1566 1703h0M1628 1549h0M1587 1627h0M1551 1553h0M1460 1644h0M1503 1670h0M1581 1531h0M1493 1632h0M1490 1616h0M1600 1636h0M1552 1519h0M1572 1672h0M1652 1549h0M1591 1636h0M1634 1602h0M1624 1537h0M1593 1535h0M1498 1696h0M1538 1555h0M1543 1549h0M1601 1513h0M1640 1543h0M1523 1578h0M1528 1669h0M1629 1550h0M1623 1588h0M1543 1540h0M1528 1554h0M1474 1684h0M1615 1501h0M1491 1640h0M1534 1567h0M1532 1568h0M1626 1536h0M1485 1652h0M1521 1583h0M1420 1704h0M1515 1582h0M1538 1678h0M1496 1641h0M1570 1539h0M1535 1561h0M1565 1527h0M1502 1668h0M1634 1566h0M1599 1619h0M1616 1591h0M1483 1638h0M1526 1676h0M1599 1609h0M1484 1657h0M1563 1673h0M1544 1670h0M1581 1532h0M1606 1529h0M1530 1678h0M1541 1560h0M1535 1684h0M1522 1670h0M1624 1601h0M1482 1651h0M1557 1674h0M1501 1609h0M1472 1614h0M1523 1715h0M1583 1640h0M1492 1638h0M1536 1552h0M1584 1525h0M1509 1678h0M1532 1671h0M1502 1598h0M1501 1598h0M1487 1633h0M1578 1644h0M1565 1532h0M1528 1678h0M1566 1541h0M1508 1693h0M1621 1507h0M1512 1670h0M1448 1660h0M1582 1514h0M1618 1561h0M1485 1696h0M1624 1570h0M1651 1526h0M1514 1677h0M1642 1537h0M1503 1677h0M1493 1636h0M1493 1665h0M1471 1639h0M1591 1639h0M1498 1659h0M1608 1528h0M1453 1621h0M1473 1660h0M1476 1612h0M1554 1665h0M1597 1620h0M1654 1536h0M1511 1713h0M1487 1664h0M1505 1559h0M1550 1551h0M1579 1530h0M1625 1545h0M1529 1550h0M1549 1690h0M1542 1672h0M1489 1715h0M1482 1619h0M1530 1535h0M1585 1636h0M1484 1694h0M1633 1493h0M1600 1665h0M1654 1559h0M1562 1652h0M1497 1592h0M1491 1671h0M1504 1602h0M1502 1679h0M1484 1634h0M1467 1637h0M1611 1624h0M1605 1518h0M1564 1665h0M1504 1712h0M1607 1612h0M1617 1600h0M1486 1675h0M1628 1482h0M1607 1597h0M1519 1671h0M1497 1681h0M1459 1711h0M1549 1555h0M1580 1529h0M1526 1564h0M1432 1712h0M1470 1724h0M1484 1659h0M1491 1671h0M1621 1569h0M1609 1594h0M1489 1601h0M1638 1544h0M1532 1558h0M1614 1530h0M1490 1726h0M1636 1568h0M1633 1552h0M1522 1565h0M1570 1541h0M1493 1619h0M1602 1607h0M1639 1567h0M1575 1532h0M1608 1495h0M1505 1612h0M1627 1559h0M1602 1615h0M1619 1497h0M1612 1483h0M1588 1525h0M1650 1568h0M1540 1668h0M1479 1665h0M1480 1667h0M1520 1684h0M1469 1707h0M1489 1648h0M1627 1523h0M1449 1702h0M1502 1614h0M1518 1563h0M1614 1526h0M1445 1706h0M1659 1542h0M1524 1575h0M1608 1627h0M1619 1531h0M1581 1655h0M1607 1617h0M1573 1507h0M1467 1663h0M1550 1669h0M1478 1671h0M1581 1534h0M1602 1506h0M1469 1647h0M1484 1645h0M1506 1680h0M1576 1522h0M1464 1747h0M1579 1635h0M1491 1603h0M1513 1704h0M1495 1624h0M1499 1683h0M1618 1527h0M1647 1503h0M1514 1674h0M1476 1614h0M1638 1493h0M1463 1683h0M1583 1643h0M1624 1500h0M1628 1490h0M1584 1529h0M1486 1680h0M1617 1543h0M1596 1616h0M1472 1579h0M1522 1686h0M1541 1697h0M1528 1553h0M1486 1670h0M1460 1732h0M1482 1616h0M1527 1689h0M1523 1690h0M1625 1566h0M1462 1673h0M1611 1611h0M1500 1688h0M1570 1540h0M1601 1606h0M1556 1529h0M1513 1562h0M1643 1526h0M1544 1540h0M1503 1687h0M1515 1672h0M1509 1591h0M1485 1561h0M1503 1601h0M1563 1651h0M1642 1498h0M1497 1684h0M1439 1703h0M1617 1555h0M1446 1647h0M1510 1562h0M1599 1617h0M1539 1669h0M1493 1662h0M1477 1663h0M1544 1548h0M1602 1538h0M1636 1530h0M1489 1695h0M1558 1550h0M1589 1640h0M1529 1563h0M1461 1637h0M1533 1560h0M1599 1466h0M1453 1662h0M1617 1547h0M1507 1676h0M1633 1545h0M1594 1531h0M1624 1465h0M1497 1681h0M1587 1638h0M1589 1635h0M1612 1545h0M1512 1698h0M1531 1682h0M1502 1677h0M1582 1509h0M1485 1607h0M1629 1572h0M1550 1550h0M1486 1634h0M1549 1544h0M1467 1627h0M1605 1531h0M1506 1682h0M1611 1661h0M1511 1682h0M1519 1559h0M1537 1568h0M1492 1645h0M1504 1700h0M1485 1658h0M1597 1517h0M1497 1659h0M1492 1653h0M1488 1606h0M1624 1540h0M1546 1671h0M1539 1564h0M1546 1553h0M1504 1585h0M1471 1621h0M1477 1698h0M1588 1535h0M1535 1546h0M1612 1537h0M1588 1527h0M1570 1646h0M1474 1627h0M1602 1520h0M1511 1674h0M1578 1662h0M1522 1559h0M1491 1641h0M1515 1691h0M1531 1682h0M1503 1678h0M1514 1596h0M1648 1500h0M1515 1588h0M1618 1545h0M1497 1612h0M1487 1700h0M1588 1508h0M1585 1644h0M1494 1613h0M1637 1505h0M1581 1510h0M1629 1554h0M1593 1530h0M1619 1521h0M1600 1537h0M1616 1563h0M1513 1682h0M1606 1620h0M1481 1622h0M1601 1610h0M1521 1582h0M1490 1582h0M1539 1686h0M1522 1536h0M1535 1685h0M1631 1510h0M1560 1667h0M1491 1647h0M1540 1676h0M1513 1522h0M1584 1630h0M1474 1655h0M1616 1575h0M1507 1594h0M1504 1687h0M1502 1676h0M1499 1714h0M1565 1701h0M1611 1542h0M1523 1687h0M1479 1668h0M1545 1553h0M1553 1661h0M1544 1539h0M1537 1541h0M1489 1603h0M1619 1536h0M1643 1565h0M1645 1551h0M1581 1640h0M1612 1513h0M1474 1584h0M1602 1615h0M1532 1681h0M1596 1508h0M1531 1708h0M1493 1628h0M1472 1674h0M1606 1529h0M1495 1684h0M1491 1580h0M1561 1523h0M1634 1615h0M1474 1725h0M1501 1669h0M1623 1577h0M1579 1533h0M1590 1530h0M1538 1675h0M1595 1522h0M1487 1663h0M1548 1545h0M1533 1545h0M1631 1516h0M1492 1636h0M1475 1658h0M1642 1594h0M1565 1545h0M1479 1678h0M1530 1694h0M1472 1584h0M1583 1631h0M1496 1669h0M1599 1614h0M1647 1526h0M1600 1635h0M1537 1712h0M1501 1702h0M1609 1620h0M1618 1590h0M1509 1605h0M1500 1662h0M1471 1633h0M1500 1608h0M1587 1517h0M1506 1673h0M1618 1550h0M1544 1667h0M1547 1548h0M1620 1581h0M1623 1552h0M1586 1645h0M1487 1633h0M1672 1510h0M1534 1536h0M1513 1590h0M1602 1622h0M1488 1644h0M1442 1700h0M1610 1614h0M1581 1535h0M1542 1551h0M1592 1655h0M1633 1592h0M1603 1613h0M1704 1521h0M1636 1549h0M1651 1516h0M1532 1565h0M1501 1674h0M1635 1521h0M1452 1681h0M1509 1578h0M1494 1668h0M1567 1537h0M1496 1639h0M1528 1563h0M1506 1681h0M1504 1688h0M1505 1689h0M1647 1564h0M1672 1504h0M1654 1496h0M1484 1654h0M1606 1493h0M1583 1529h0M1558 1655h0M1615 1515h0M1471 1683h0M1549 1665h0M1445 1708h0M1530 1569h0M1492 1700h0M1547 1663h0M1536 1558h0M1622 1462h0M1617 1567h0M1567 1647h0M1632 1515h0M1641 1522h0M1629 1576h0M1494 1616h0M1580 1681h0M1516 1563h0M1615 1624h0M1620 1487h0M1530 1558h0M1602 1604h0M1513 1595h0M1642 1522h0M1479 1613h0M1454 1632h0M1598 1514h0M1490 1670h0M1613 1543h0M1608 1600h0M1578 1646h0M1642 1543h0M1606 1531h0M1514 1713h0M1613 1526h0M1616 1526h0M1619 1629h0M1659 1496h0M1506 1605h0M1525 1560h0M1530 1545h0M1595 1633h0M1496 1643h0M1530 1701h0M1523 1539h0M1485 1658h0M1499 1625h0M1503 1694h0M1591 1513h0M1484 1615h0M1608 1636h0M1520 1586h0M1620 1560h0M1470 1675h0M1482 1617h0M1629 1550h0M1559 1676h0M1522 1674h0M1603 1615h0M1624 1580h0M1486 1616h0M1503 1613h0M1517 1578h0M1628 1544h0M1536 1668h0M1644 1515h0M1622 1536h0M1658 1528h0M1598 1612h0M1482 1699h0M1543 1561h0M1626 1500h0M1491 1683h0M1553 1677h0M1539 1565h0M1641 1543h0M1488 1679h0M1588 1640h0M1505 1604h0M1507 1567h0M1579 1636h0M1450 1676h0M1471 1679h0M1520 1690h0M1500 1712h0M1498 1668h0M1633 1520h0M1565 1650h0M1621 1586h0M1508 1714h0M1583 1637h0M1627 1530h0M1604 1626h0M1487 1663h0M1630 1558h0M1588 1523h0M1623 1558h0M1621 1616h0M1526 1685h0M1492 1635h0M1555 1663h0M1628 1575h0M1497 1664h0M1553 1541h0M1483 1629h0M1576 1689h0M1642 1599h0M1622 1560h0M1537 1557h0M1542 1686h0M1553 1553h0M1487 1652h0M1491 1674h0M1499 1626h0M1524 1673h0M1589 1535h0M1678 1505h0M1508 1696h0M1485 1638h0M1567 1576h0M1573 1622h0M1540 1597h0M1594 1585h0M1524 1643h0M1569 1598h0M1529 1592h0M1534 1622h0M1539 1598h0M1554 1601h0M1557 1581h0M1570 1595h0M1507 1617h0M1559 1629h0M1537 1613h0M1610 1493h0M1507 1657h0M1557 1552h0M1578 1615h0M1646 1528h0M1552 1575h0M1533 1613h0M1530 1626h0M1558 1577h0M1570 1570h0M1503 1627h0M1588 1528h0M1593 1610h0M1536 1612h0M1548 1574h0M1538 1717h0M1525 1556h0M1613 1564h0M1513 1588h0M1594 1618h0M1634 1608h0M1577 1609h0M1541 1593h0M1490 1622h0M1567 1520h0M1565 1602h0M1592 1603h0M1530 1581h0M1536 1634h0M1540 1612h0M1498 1606h0M1568 1661h0M1508 1631h0M1482 1608h0M1580 1620h0M1515 1585h0M1590 1585h0M1569 1565h0M1545 1600h0M1555 1571h0M1574 1677h0M1591 1563h0M1597 1573h0M1527 1576h0" stroke="#c0c7d2" stroke-width="3" stroke-linecap="round" fill="none"/>
<g fill="#de2a2d" stroke="#b9353b" stroke-width="0.8"><circle cx="1596.9" cy="1455.2" r="5.7"/><circle cx="1654.1" cy="1489.9" r="5.7"/><circle cx="1658.6" cy="1511.6" r="5.7"/><circle cx="1665.7" cy="1525.5" r="5.7"/><circle cx="1703.2" cy="1569.7" r="5.7"/><circle cx="1464.8" cy="1549.8" r="5.7"/><circle cx="1498.7" cy="1564.5" r="5.7"/><circle cx="1583.5" cy="1510.7" r="5.7"/><circle cx="1613.0" cy="1507.2" r="5.7"/><circle cx="1614.8" cy="1519.4" r="5.7"/><circle cx="1626.4" cy="1519.4" r="5.7"/><circle cx="1624.6" cy="1538.5" r="5.7"/><circle cx="1641.6" cy="1564.5" r="5.7"/><circle cx="1640.7" cy="1580.1" r="5.7"/><circle cx="1628.2" cy="1601.8" r="5.7"/><circle cx="1630.0" cy="1607.9" r="5.7"/><circle cx="1636.2" cy="1614.9" r="5.7"/><circle cx="1621.1" cy="1626.1" r="5.7"/><circle cx="1622.8" cy="1618.3" r="5.7"/><circle cx="1617.5" cy="1612.3" r="5.7"/><circle cx="1520.1" cy="1635.7" r="5.7"/><circle cx="1541.6" cy="1664.3" r="5.7"/><circle cx="1548.7" cy="1665.2" r="5.7"/><circle cx="1594.3" cy="1637.9" r="5.7"/><circle cx="1579.1" cy="1640.9" r="5.7"/><circle cx="1566.6" cy="1632.2" r="5.7"/><circle cx="1573.7" cy="1634.8" r="5.7"/><circle cx="1578.2" cy="1529.8" r="5.7"/><circle cx="1577.3" cy="1535.9" r="5.7"/><circle cx="1607.7" cy="1542.8" r="5.7"/><circle cx="1613.9" cy="1544.6" r="5.7"/><circle cx="1621.1" cy="1549.8" r="5.7"/><circle cx="1568.5" cy="1608.7" r="5.7"/><circle cx="1598.2" cy="1553.8" r="5.7"/><circle cx="1526.6" cy="1560.2" r="5.7"/><circle cx="1576.5" cy="1551.3" r="5.7"/><circle cx="1547.2" cy="1594.1" r="5.7"/><circle cx="1578.4" cy="1537.6" r="5.7"/><circle cx="1581.9" cy="1551.9" r="5.7"/><circle cx="1575.5" cy="1573.2" r="5.7"/><circle cx="1547.9" cy="1559.5" r="5.7"/><circle cx="1542.6" cy="1619.0" r="5.7"/><circle cx="1577.6" cy="1583.8" r="5.7"/><circle cx="1545.4" cy="1582.8" r="5.7"/><circle cx="1584.2" cy="1528.3" r="5.7"/><circle cx="1596.0" cy="1592.1" r="5.7"/><circle cx="1592.7" cy="1536.0" r="5.7"/><circle cx="1582.9" cy="1596.3" r="5.7"/><circle cx="1582.1" cy="1596.6" r="5.7"/><circle cx="1556.9" cy="1577.0" r="5.7"/><circle cx="1559.5" cy="1579.9" r="5.7"/><circle cx="1525.7" cy="1589.2" r="5.7"/><circle cx="1585.4" cy="1618.7" r="5.7"/><circle cx="1574.3" cy="1596.3" r="5.7"/><circle cx="1554.3" cy="1611.9" r="5.7"/><circle cx="1589.0" cy="1589.0" r="5.7"/><circle cx="1536.9" cy="1571.9" r="5.7"/><circle cx="1577.2" cy="1568.6" r="5.7"/><circle cx="1568.0" cy="1581.8" r="5.7"/><circle cx="1550.4" cy="1577.0" r="5.7"/><circle cx="1604.3" cy="1611.3" r="5.7"/><circle cx="1579.1" cy="1593.5" r="5.7"/><circle cx="1584.7" cy="1574.3" r="5.7"/><circle cx="1528.3" cy="1557.0" r="5.7"/><circle cx="1567.1" cy="1620.9" r="5.7"/><circle cx="1583.6" cy="1643.2" r="5.7"/><circle cx="1528.2" cy="1625.4" r="5.7"/><circle cx="1586.5" cy="1618.9" r="5.7"/><circle cx="1530.0" cy="1613.1" r="5.7"/><circle cx="1558.2" cy="1606.3" r="5.7"/><circle cx="1545.4" cy="1561.2" r="5.7"/><circle cx="1576.2" cy="1525.5" r="5.7"/><circle cx="1562.9" cy="1578.2" r="5.7"/><circle cx="1567.2" cy="1524.7" r="5.7"/><circle cx="1551.1" cy="1586.3" r="5.7"/><circle cx="1567.5" cy="1576.1" r="5.7"/><circle cx="1579.2" cy="1609.8" r="5.7"/><circle cx="1582.5" cy="1612.9" r="5.7"/><circle cx="1573.7" cy="1548.2" r="5.7"/><circle cx="1520.8" cy="1598.1" r="5.7"/><circle cx="1611.1" cy="1582.1" r="5.7"/><circle cx="1578.6" cy="1530.3" r="5.7"/><circle cx="1617.6" cy="1546.5" r="5.7"/><circle cx="1564.8" cy="1566.2" r="5.7"/><circle cx="1564.1" cy="1576.9" r="5.7"/><circle cx="1606.4" cy="1573.8" r="5.7"/><circle cx="1568.8" cy="1628.5" r="5.7"/><circle cx="1565.7" cy="1603.6" r="5.7"/><circle cx="1565.0" cy="1571.9" r="5.7"/><circle cx="1576.2" cy="1590.0" r="5.7"/><circle cx="1540.4" cy="1584.3" r="5.7"/><circle cx="1574.1" cy="1564.0" r="5.7"/><circle cx="1531.8" cy="1575.0" r="5.7"/><circle cx="1543.3" cy="1591.2" r="5.7"/><circle cx="1586.5" cy="1558.4" r="5.7"/><circle cx="1596.2" cy="1575.4" r="5.7"/><circle cx="1576.2" cy="1556.9" r="5.7"/><circle cx="1527.5" cy="1615.1" r="5.7"/><circle cx="1527.6" cy="1591.7" r="5.7"/><circle cx="1556.2" cy="1601.9" r="5.7"/><circle cx="1574.1" cy="1580.3" r="5.7"/><circle cx="1577.6" cy="1583.2" r="5.7"/><circle cx="1574.3" cy="1567.2" r="5.7"/><circle cx="1615.1" cy="1607.6" r="5.7"/><circle cx="1581.5" cy="1555.1" r="5.7"/><circle cx="1534.4" cy="1625.9" r="5.7"/><circle cx="1552.5" cy="1560.9" r="5.7"/><circle cx="1520.0" cy="1593.6" r="5.7"/><circle cx="1519.7" cy="1562.2" r="5.7"/><circle cx="1549.8" cy="1580.0" r="5.7"/><circle cx="1577.6" cy="1604.3" r="5.7"/><circle cx="1565.2" cy="1547.4" r="5.7"/><circle cx="1573.0" cy="1537.2" r="5.7"/><circle cx="1583.9" cy="1615.1" r="5.7"/><circle cx="1565.5" cy="1606.6" r="5.7"/><circle cx="1541.0" cy="1597.3" r="5.7"/><circle cx="1573.7" cy="1578.5" r="5.7"/><circle cx="1569.1" cy="1581.0" r="5.7"/><circle cx="1554.1" cy="1570.5" r="5.7"/><circle cx="1590.8" cy="1567.6" r="5.7"/><circle cx="1515.5" cy="1605.1" r="5.7"/><circle cx="1546.4" cy="1569.1" r="5.7"/><circle cx="1544.0" cy="1627.0" r="5.7"/><circle cx="1589.4" cy="1598.2" r="5.7"/><circle cx="1543.2" cy="1588.5" r="5.7"/><circle cx="1553.0" cy="1540.6" r="5.7"/><circle cx="1574.8" cy="1619.4" r="5.7"/><circle cx="1555.6" cy="1561.0" r="5.7"/><circle cx="1589.6" cy="1592.7" r="5.7"/><circle cx="1562.3" cy="1556.2" r="5.7"/><circle cx="1581.0" cy="1575.3" r="5.7"/><circle cx="1554.9" cy="1567.9" r="5.7"/><circle cx="1587.3" cy="1616.7" r="5.7"/><circle cx="1560.7" cy="1570.5" r="5.7"/><circle cx="1548.6" cy="1573.9" r="5.7"/><circle cx="1556.2" cy="1598.7" r="5.7"/><circle cx="1549.2" cy="1585.0" r="5.7"/><circle cx="1593.2" cy="1547.5" r="5.7"/><circle cx="1569.4" cy="1517.5" r="5.7"/><circle cx="1566.0" cy="1558.2" r="5.7"/><circle cx="1594.7" cy="1542.5" r="5.7"/><circle cx="1580.7" cy="1597.6" r="5.7"/><circle cx="1547.9" cy="1557.9" r="5.7"/><circle cx="1564.8" cy="1566.2" r="5.7"/><circle cx="1557.8" cy="1586.7" r="5.7"/><circle cx="1523.4" cy="1607.1" r="5.7"/><circle cx="1576.7" cy="1605.3" r="5.7"/><circle cx="1566.5" cy="1610.6" r="5.7"/><circle cx="1558.8" cy="1551.6" r="5.7"/><circle cx="1526.6" cy="1606.8" r="5.7"/><circle cx="1587.9" cy="1568.2" r="5.7"/><circle cx="1553.7" cy="1627.6" r="5.7"/><circle cx="1548.0" cy="1595.4" r="5.7"/><circle cx="1593.6" cy="1613.8" r="5.7"/><circle cx="1594.3" cy="1594.2" r="5.7"/><circle cx="1599.1" cy="1574.4" r="5.7"/><circle cx="1568.0" cy="1609.5" r="5.7"/><circle cx="1532.8" cy="1583.1" r="5.7"/><circle cx="1566.7" cy="1556.6" r="5.7"/><circle cx="1595.8" cy="1592.2" r="5.7"/><circle cx="1565.4" cy="1602.1" r="5.7"/><circle cx="1539.8" cy="1602.0" r="5.7"/><circle cx="1564.7" cy="1609.1" r="5.7"/><circle cx="1583.4" cy="1630.8" r="5.7"/><circle cx="1550.0" cy="1555.1" r="5.7"/><circle cx="1583.6" cy="1589.7" r="5.7"/><circle cx="1518.6" cy="1647.5" r="5.7"/><circle cx="1577.7" cy="1550.9" r="5.7"/><circle cx="1552.6" cy="1545.5" r="5.7"/><circle cx="1589.2" cy="1560.9" r="5.7"/><circle cx="1566.8" cy="1549.8" r="5.7"/><circle cx="1547.0" cy="1625.2" r="5.7"/><circle cx="1543.6" cy="1619.4" r="5.7"/><circle cx="1591.5" cy="1580.9" r="5.7"/><circle cx="1509.2" cy="1619.8" r="5.7"/><circle cx="1544.2" cy="1558.9" r="5.7"/><circle cx="1524.8" cy="1604.5" r="5.7"/></g>
<rect x="1551.4" y="1440" width="163.6" height="149.1" fill="#ef9fb0" fill-opacity="0.16"/>
<path d="M1389.2 1691.9L1715.6 1509.1" stroke="#1e9a5c" stroke-width="3.4" fill="none"/>
<path d="M1551.4 1442.5V1751.6M1394.7 1594.9H1715.6" stroke="#111" stroke-width="3.2" stroke-linecap="round" stroke-dasharray="0 16.2" fill="none"/>
<path d="M1387.7 1435.5V1753.6H1715.6" stroke="#505050" stroke-width="3" fill="none"/>
<path d="M1378.7 1725.1H1387.7M1417.5 1753.6V1763.6M1378.7 1681.7H1387.7M1462.1 1753.6V1763.6M1378.7 1638.3H1387.7M1506.8 1753.6V1763.6M1378.7 1594.9H1387.7M1551.4 1753.6V1763.6M1378.7 1551.5H1387.7M1596.1 1753.6V1763.6M1378.7 1508.1H1387.7M1640.7 1753.6V1763.6M1378.7 1464.7H1387.7M1685.4 1753.6V1763.6" stroke="#505050" stroke-width="1.8" fill="none"/>
<text x="1375.7" y="1733.7" font-size="24.5" text-anchor="end">&#8722;15</text>
<text x="1426.1" y="1788.1" font-size="24.5" text-anchor="end">&#8722;15</text>
<text x="1375.7" y="1690.3" font-size="24.5" text-anchor="end">&#8722;10</text>
<text x="1478.7" y="1788.1" font-size="24.5" text-anchor="end">&#8722;10</text>
<text x="1375.7" y="1646.9" font-size="24.5" text-anchor="end">&#8722;5</text>
<text x="1518.1" y="1788.1" font-size="24.5" text-anchor="end">&#8722;5</text>
<text x="1375.7" y="1603.5" font-size="24.5" text-anchor="end">0</text>
<text x="1561" y="1788.1" font-size="24.5" text-anchor="end">0</text>
<text x="1375.7" y="1560.1" font-size="24.5" text-anchor="end">5</text>
<text x="1605.7" y="1788.1" font-size="24.5" text-anchor="end">5</text>
<text x="1375.7" y="1516.7" font-size="24.5" text-anchor="end">10</text>
<text x="1659.2" y="1788.1" font-size="24.5" text-anchor="end">10</text>
<text x="1375.7" y="1473.3" font-size="24.5" text-anchor="end">15</text>
<text x="1704" y="1788.1" font-size="24.5" text-anchor="end">15</text>
<text transform="translate(535,1604.2) rotate(-90)" font-size="29" text-anchor="middle" textLength="308" lengthAdjust="spacingAndGlyphs">CD4-Runx3 vs CD4-Ctrl</text>
<path d="M589 1823H944M1356.5 1824H1713" stroke="#111" stroke-width="2.2"/>
<text x="963.1" y="1832.6" font-size="29" textLength="377" lengthAdjust="spacingAndGlyphs">CD8-Ctrl vs CD4-Ctrl (logFC)</text>
<circle cx="727.5" cy="1862.4" r="2" fill="#b8bcc4"/>
<circle cx="1137.7" cy="1862.4" r="2" fill="#b8bcc4"/>
<circle cx="1547.6" cy="1862.4" r="2" fill="#b8bcc4"/>
<circle cx="1763.1" cy="1471" r="8.3" fill="#f2a52a" stroke="#8a7a6a" stroke-width="1.3"/>
<circle cx="1763.1" cy="1521.2" r="8.3" fill="#3a4fa0" stroke="#5a6aae" stroke-width="1.2"/>
<circle cx="1763.1" cy="1571.8" r="8.3" fill="#e02a2e" stroke="#a04a50" stroke-width="1.2"/>
<text x="1792.8" y="1482.4" font-size="29">Skin WT CD8<tspan font-size="15" dy="-12">+</tspan><tspan dy="12"> vs </tspan><tspan font-style="italic">Tgfbr2</tspan><tspan font-size="15" dy="-12">-/-</tspan></text>
<text x="1792.8" y="1532.4" font-size="29">Down in WT CD8<tspan font-size="15" dy="-12">+</tspan></text>
<text x="1792.8" y="1583" font-size="29">Up in WT CD8<tspan font-size="15" dy="-12">+</tspan></text>
<rect x="1749.5" y="1637.9" width="28.6" height="26.1" rx="3" fill="#a8c8e4"/>
<rect x="1749.5" y="1688" width="28.6" height="26" rx="3" fill="#fad4dc"/>
<text x="1792.8" y="1659" font-size="29">Down in CD4-Runx3</text>
<text x="1792.8" y="1714.6" font-size="29">Up in CD4-Runx3</text>
</svg></body></html>
